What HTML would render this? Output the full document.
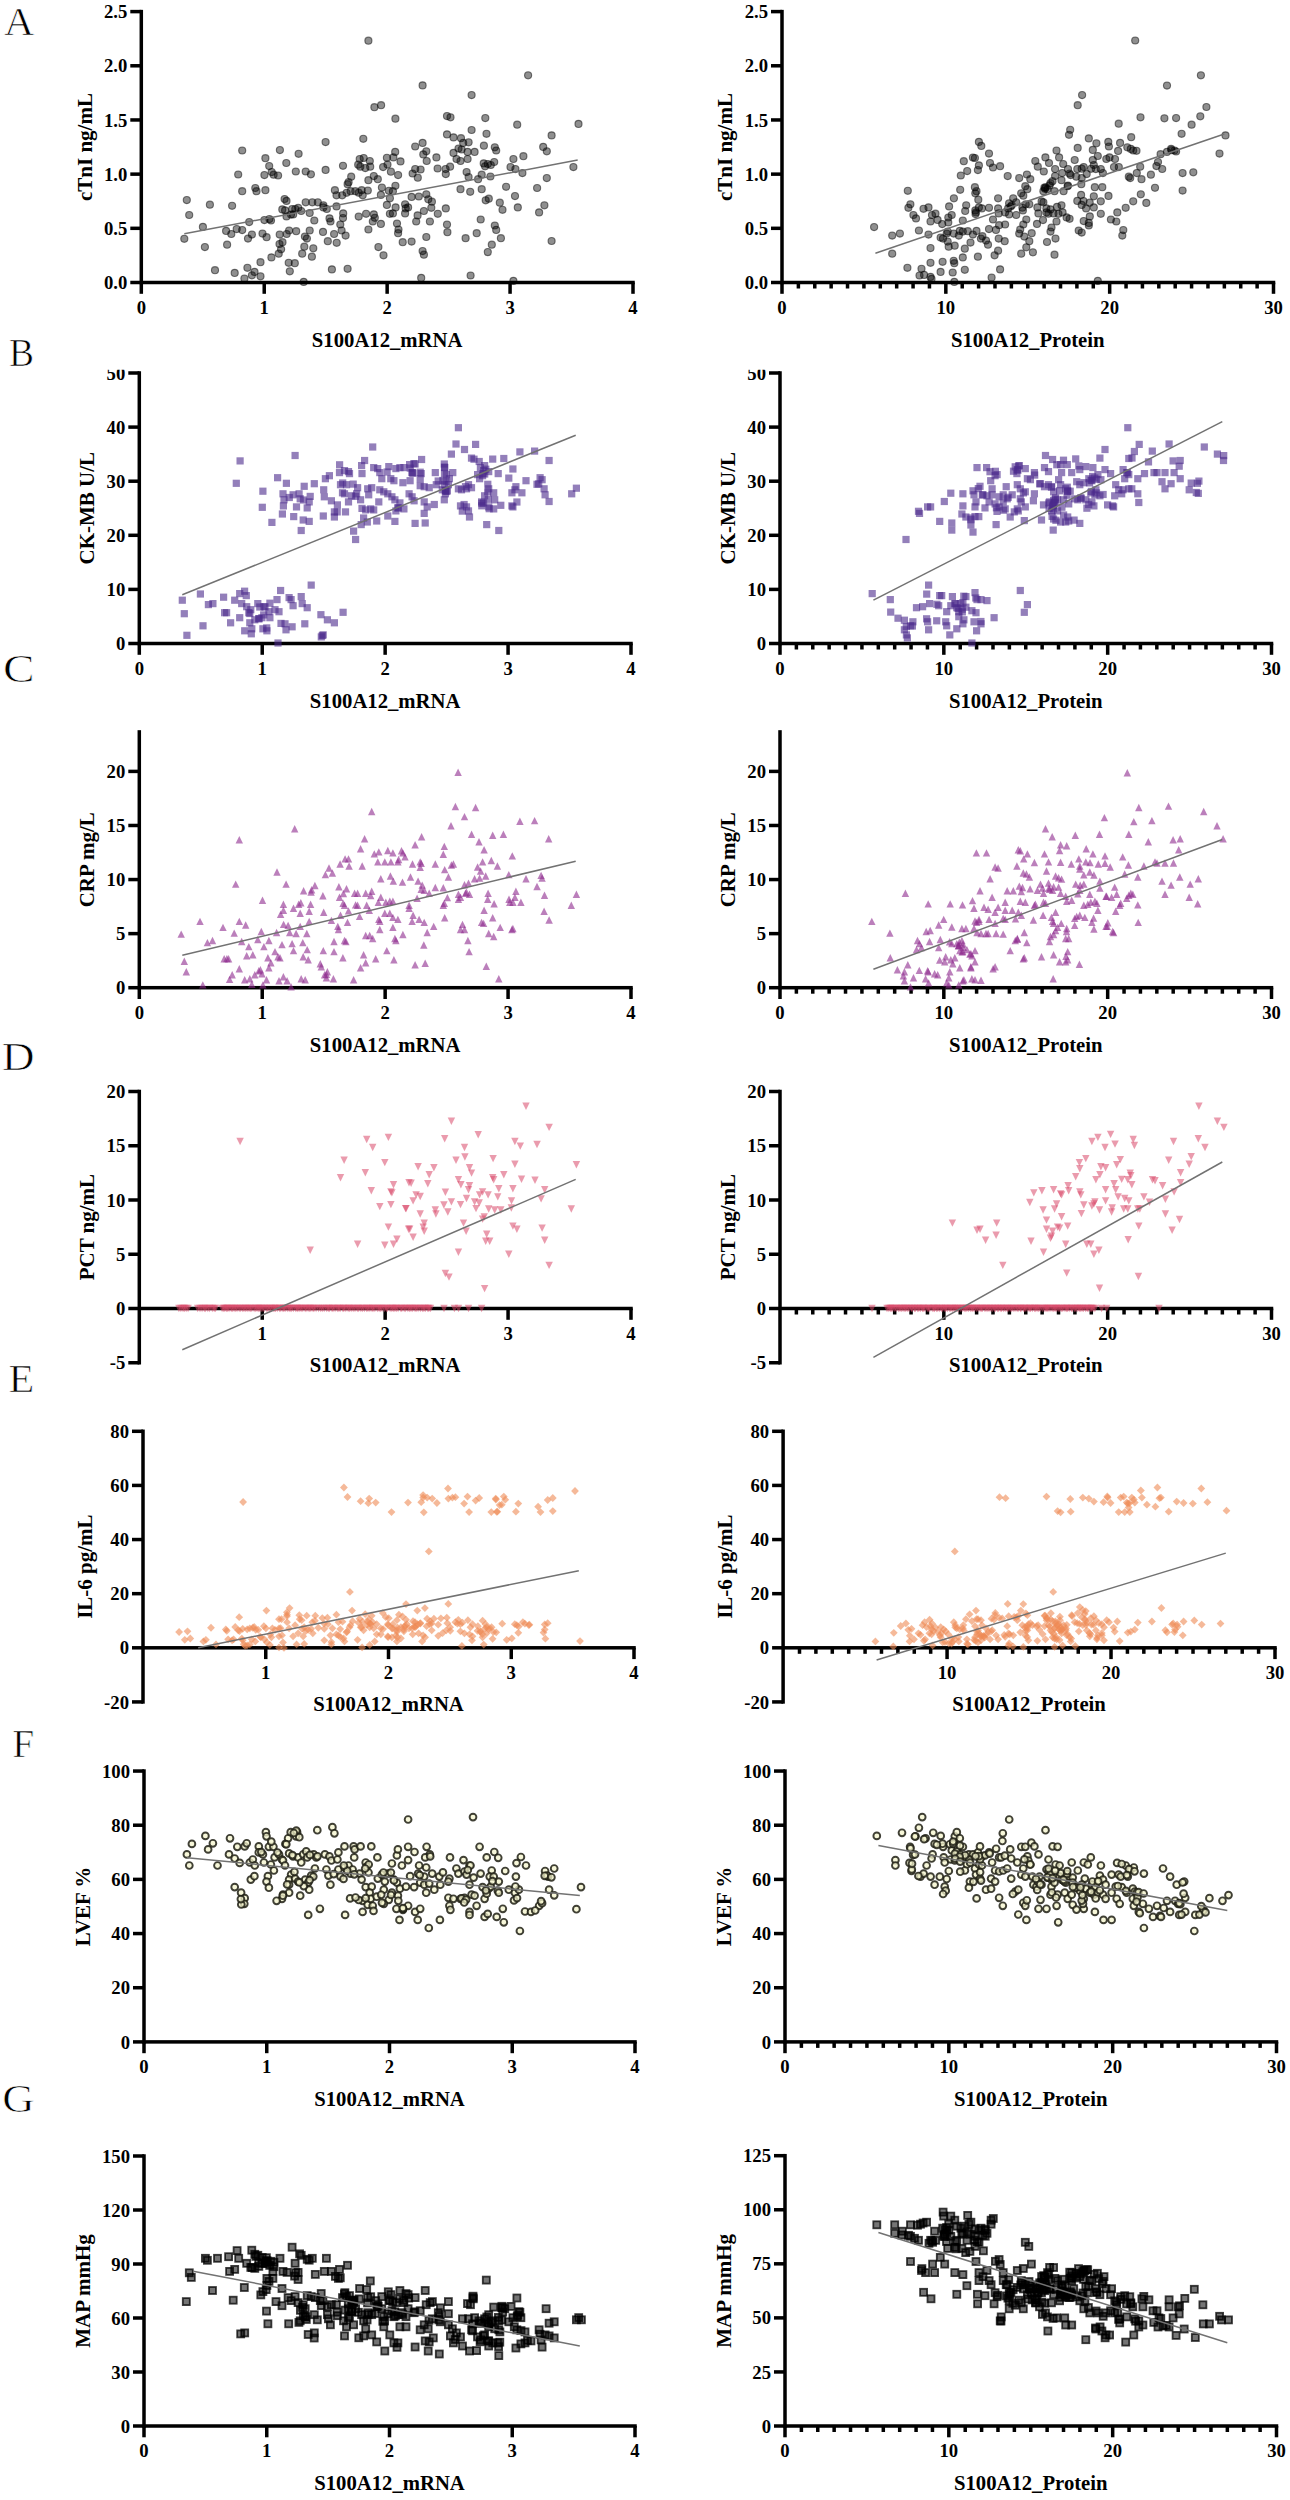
<!DOCTYPE html><html><head><meta charset="utf-8"><style>html,body{margin:0;padding:0;background:#fff;}svg{display:block}</style></head><body>
<svg width="1290" height="2500" viewBox="0 0 1290 2500">
<rect width="1290" height="2500" fill="#fff"/>
<text x="34.2" y="34.7" text-anchor="end" fill="#000" stroke="#fff" stroke-width="0.7" transform="translate(32,0) scale(1.06,1) translate(-32,0)" style="font-family:'Liberation Serif',serif;font-size:39.5px">A</text>
<g>
<rect x="139.55" y="9.85" width="3.5" height="274.40" fill="#000"/>
<rect x="130.30" y="280.75" width="11.00" height="3.5" fill="#000"/>
<text x="127.30" y="289.10" text-anchor="end" style="font-family:'Liberation Serif',serif;font-weight:bold;font-size:18.7px">0.0</text>
<rect x="130.30" y="226.57" width="11.00" height="3.5" fill="#000"/>
<text x="127.30" y="234.92" text-anchor="end" style="font-family:'Liberation Serif',serif;font-weight:bold;font-size:18.7px">0.5</text>
<rect x="130.30" y="172.39" width="11.00" height="3.5" fill="#000"/>
<text x="127.30" y="180.74" text-anchor="end" style="font-family:'Liberation Serif',serif;font-weight:bold;font-size:18.7px">1.0</text>
<rect x="130.30" y="118.21" width="11.00" height="3.5" fill="#000"/>
<text x="127.30" y="126.56" text-anchor="end" style="font-family:'Liberation Serif',serif;font-weight:bold;font-size:18.7px">1.5</text>
<rect x="130.30" y="64.03" width="11.00" height="3.5" fill="#000"/>
<text x="127.30" y="72.38" text-anchor="end" style="font-family:'Liberation Serif',serif;font-weight:bold;font-size:18.7px">2.0</text>
<rect x="130.30" y="9.85" width="11.00" height="3.5" fill="#000"/>
<text x="127.30" y="18.20" text-anchor="end" style="font-family:'Liberation Serif',serif;font-weight:bold;font-size:18.7px">2.5</text>
<rect x="141.30" y="280.75" width="493.45" height="3.5" fill="#000"/>
<rect x="139.55" y="282.50" width="3.5" height="11.30" fill="#000"/>
<text x="141.30" y="313.70" text-anchor="middle" style="font-family:'Liberation Serif',serif;font-weight:bold;font-size:18.7px">0</text>
<rect x="262.48" y="282.50" width="3.5" height="11.30" fill="#000"/>
<text x="264.23" y="313.70" text-anchor="middle" style="font-family:'Liberation Serif',serif;font-weight:bold;font-size:18.7px">1</text>
<rect x="385.40" y="282.50" width="3.5" height="11.30" fill="#000"/>
<text x="387.15" y="313.70" text-anchor="middle" style="font-family:'Liberation Serif',serif;font-weight:bold;font-size:18.7px">2</text>
<rect x="508.32" y="282.50" width="3.5" height="11.30" fill="#000"/>
<text x="510.07" y="313.70" text-anchor="middle" style="font-family:'Liberation Serif',serif;font-weight:bold;font-size:18.7px">3</text>
<rect x="631.25" y="282.50" width="3.5" height="11.30" fill="#000"/>
<text x="633.00" y="313.70" text-anchor="middle" style="font-family:'Liberation Serif',serif;font-weight:bold;font-size:18.7px">4</text>
<text x="387.15" y="346.50" text-anchor="middle" style="font-family:'Liberation Serif',serif;font-weight:bold;font-size:20.7px">S100A12_mRNA</text>
<text transform="translate(91.63,147.05) rotate(-90)" text-anchor="middle" style="font-family:'Liberation Serif',serif;font-weight:bold;font-size:21px">cTnI ng/mL</text>
<g fill="#000" fill-opacity="0.44" stroke="#000" stroke-opacity="0.5" stroke-width="1.1">
<circle cx="368.4" cy="40.7" r="3.55"/>
<circle cx="374.4" cy="107.2" r="3.55"/>
<circle cx="381.1" cy="105.2" r="3.55"/>
<circle cx="395.4" cy="118.7" r="3.55"/>
<circle cx="325.6" cy="142.1" r="3.55"/>
<circle cx="363.3" cy="138.8" r="3.55"/>
<circle cx="242.2" cy="150.5" r="3.55"/>
<circle cx="279.9" cy="150.1" r="3.55"/>
<circle cx="298.6" cy="153.8" r="3.55"/>
<circle cx="265.4" cy="158.2" r="3.55"/>
<circle cx="286.3" cy="163.0" r="3.55"/>
<circle cx="269.2" cy="166.1" r="3.55"/>
<circle cx="359.7" cy="159.0" r="3.55"/>
<circle cx="363.7" cy="158.0" r="3.55"/>
<circle cx="369.8" cy="161.0" r="3.55"/>
<circle cx="360.3" cy="166.7" r="3.55"/>
<circle cx="365.3" cy="168.1" r="3.55"/>
<circle cx="370.2" cy="166.7" r="3.55"/>
<circle cx="386.9" cy="157.8" r="3.55"/>
<circle cx="393.4" cy="157.4" r="3.55"/>
<circle cx="343.0" cy="165.8" r="3.55"/>
<circle cx="325.6" cy="169.9" r="3.55"/>
<circle cx="295.8" cy="171.5" r="3.55"/>
<circle cx="305.7" cy="171.5" r="3.55"/>
<circle cx="310.9" cy="174.3" r="3.55"/>
<circle cx="238.2" cy="174.5" r="3.55"/>
<circle cx="264.4" cy="175.1" r="3.55"/>
<circle cx="273.6" cy="174.7" r="3.55"/>
<circle cx="278.1" cy="175.5" r="3.55"/>
<circle cx="383.1" cy="167.1" r="3.55"/>
<circle cx="387.5" cy="164.6" r="3.55"/>
<circle cx="390.9" cy="171.7" r="3.55"/>
<circle cx="351.2" cy="176.7" r="3.55"/>
<circle cx="348.6" cy="182.2" r="3.55"/>
<circle cx="347.6" cy="184.2" r="3.55"/>
<circle cx="368.4" cy="180.2" r="3.55"/>
<circle cx="373.8" cy="176.1" r="3.55"/>
<circle cx="377.8" cy="179.2" r="3.55"/>
<circle cx="395.4" cy="185.8" r="3.55"/>
<circle cx="255.3" cy="188.0" r="3.55"/>
<circle cx="256.5" cy="191.2" r="3.55"/>
<circle cx="265.4" cy="190.2" r="3.55"/>
<circle cx="242.2" cy="191.2" r="3.55"/>
<circle cx="334.9" cy="190.2" r="3.55"/>
<circle cx="336.5" cy="195.3" r="3.55"/>
<circle cx="342.2" cy="195.3" r="3.55"/>
<circle cx="346.6" cy="192.8" r="3.55"/>
<circle cx="350.6" cy="191.2" r="3.55"/>
<circle cx="355.3" cy="191.2" r="3.55"/>
<circle cx="358.7" cy="192.7" r="3.55"/>
<circle cx="362.7" cy="195.3" r="3.55"/>
<circle cx="361.7" cy="190.2" r="3.55"/>
<circle cx="367.8" cy="190.6" r="3.55"/>
<circle cx="381.9" cy="187.6" r="3.55"/>
<circle cx="380.9" cy="194.9" r="3.55"/>
<circle cx="388.9" cy="190.8" r="3.55"/>
<circle cx="392.9" cy="191.2" r="3.55"/>
<circle cx="389.9" cy="198.3" r="3.55"/>
<circle cx="186.8" cy="200.1" r="3.55"/>
<circle cx="209.9" cy="204.7" r="3.55"/>
<circle cx="232.1" cy="205.8" r="3.55"/>
<circle cx="189.2" cy="215.0" r="3.55"/>
<circle cx="286.5" cy="200.9" r="3.55"/>
<circle cx="305.7" cy="202.3" r="3.55"/>
<circle cx="312.3" cy="202.3" r="3.55"/>
<circle cx="317.8" cy="202.3" r="3.55"/>
<circle cx="323.4" cy="205.3" r="3.55"/>
<circle cx="282.3" cy="209.4" r="3.55"/>
<circle cx="285.1" cy="210.4" r="3.55"/>
<circle cx="292.2" cy="209.0" r="3.55"/>
<circle cx="298.2" cy="207.8" r="3.55"/>
<circle cx="301.2" cy="211.0" r="3.55"/>
<circle cx="293.2" cy="214.4" r="3.55"/>
<circle cx="286.5" cy="216.4" r="3.55"/>
<circle cx="309.7" cy="213.0" r="3.55"/>
<circle cx="323.4" cy="207.4" r="3.55"/>
<circle cx="326.8" cy="209.0" r="3.55"/>
<circle cx="336.5" cy="206.4" r="3.55"/>
<circle cx="386.9" cy="204.9" r="3.55"/>
<circle cx="395.6" cy="207.4" r="3.55"/>
<circle cx="343.2" cy="213.4" r="3.55"/>
<circle cx="343.0" cy="218.1" r="3.55"/>
<circle cx="358.7" cy="216.6" r="3.55"/>
<circle cx="366.1" cy="213.8" r="3.55"/>
<circle cx="373.8" cy="214.4" r="3.55"/>
<circle cx="374.8" cy="217.8" r="3.55"/>
<circle cx="372.8" cy="221.5" r="3.55"/>
<circle cx="380.9" cy="223.9" r="3.55"/>
<circle cx="389.9" cy="213.8" r="3.55"/>
<circle cx="392.9" cy="213.4" r="3.55"/>
<circle cx="397.0" cy="223.5" r="3.55"/>
<circle cx="202.9" cy="226.9" r="3.55"/>
<circle cx="249.2" cy="222.1" r="3.55"/>
<circle cx="264.4" cy="220.1" r="3.55"/>
<circle cx="271.0" cy="220.5" r="3.55"/>
<circle cx="269.4" cy="219.1" r="3.55"/>
<circle cx="314.3" cy="220.5" r="3.55"/>
<circle cx="329.5" cy="218.4" r="3.55"/>
<circle cx="330.5" cy="221.5" r="3.55"/>
<circle cx="340.3" cy="224.5" r="3.55"/>
<circle cx="341.6" cy="230.5" r="3.55"/>
<circle cx="345.6" cy="235.6" r="3.55"/>
<circle cx="368.4" cy="229.5" r="3.55"/>
<circle cx="226.1" cy="230.9" r="3.55"/>
<circle cx="236.7" cy="229.1" r="3.55"/>
<circle cx="242.2" cy="230.1" r="3.55"/>
<circle cx="231.3" cy="234.0" r="3.55"/>
<circle cx="248.0" cy="238.6" r="3.55"/>
<circle cx="251.9" cy="234.6" r="3.55"/>
<circle cx="262.5" cy="233.6" r="3.55"/>
<circle cx="266.6" cy="237.2" r="3.55"/>
<circle cx="279.7" cy="234.6" r="3.55"/>
<circle cx="286.7" cy="234.0" r="3.55"/>
<circle cx="289.1" cy="230.5" r="3.55"/>
<circle cx="296.2" cy="231.2" r="3.55"/>
<circle cx="309.7" cy="230.5" r="3.55"/>
<circle cx="304.9" cy="236.6" r="3.55"/>
<circle cx="306.9" cy="238.6" r="3.55"/>
<circle cx="323.0" cy="231.9" r="3.55"/>
<circle cx="334.1" cy="234.0" r="3.55"/>
<circle cx="327.8" cy="241.2" r="3.55"/>
<circle cx="336.7" cy="242.8" r="3.55"/>
<circle cx="184.3" cy="238.8" r="3.55"/>
<circle cx="204.9" cy="247.1" r="3.55"/>
<circle cx="227.1" cy="244.7" r="3.55"/>
<circle cx="282.5" cy="242.2" r="3.55"/>
<circle cx="281.1" cy="249.3" r="3.55"/>
<circle cx="278.7" cy="253.7" r="3.55"/>
<circle cx="271.4" cy="257.4" r="3.55"/>
<circle cx="304.3" cy="246.7" r="3.55"/>
<circle cx="313.3" cy="248.3" r="3.55"/>
<circle cx="302.2" cy="253.7" r="3.55"/>
<circle cx="311.9" cy="256.7" r="3.55"/>
<circle cx="260.5" cy="262.2" r="3.55"/>
<circle cx="288.7" cy="262.8" r="3.55"/>
<circle cx="294.8" cy="263.2" r="3.55"/>
<circle cx="289.8" cy="271.3" r="3.55"/>
<circle cx="378.4" cy="247.1" r="3.55"/>
<circle cx="383.5" cy="255.3" r="3.55"/>
<circle cx="215.0" cy="270.2" r="3.55"/>
<circle cx="234.7" cy="272.9" r="3.55"/>
<circle cx="247.4" cy="267.8" r="3.55"/>
<circle cx="254.5" cy="271.9" r="3.55"/>
<circle cx="251.9" cy="275.3" r="3.55"/>
<circle cx="260.5" cy="276.3" r="3.55"/>
<circle cx="244.4" cy="278.5" r="3.55"/>
<circle cx="331.9" cy="269.4" r="3.55"/>
<circle cx="347.6" cy="268.8" r="3.55"/>
<circle cx="303.7" cy="281.9" r="3.55"/>
<circle cx="422.6" cy="85.4" r="3.55"/>
<circle cx="528.1" cy="75.3" r="3.55"/>
<circle cx="471.6" cy="95.1" r="3.55"/>
<circle cx="447.0" cy="116.1" r="3.55"/>
<circle cx="450.5" cy="117.3" r="3.55"/>
<circle cx="485.3" cy="118.1" r="3.55"/>
<circle cx="517.2" cy="124.7" r="3.55"/>
<circle cx="578.5" cy="123.9" r="3.55"/>
<circle cx="471.6" cy="130.0" r="3.55"/>
<circle cx="447.0" cy="134.4" r="3.55"/>
<circle cx="453.5" cy="137.4" r="3.55"/>
<circle cx="486.5" cy="133.8" r="3.55"/>
<circle cx="551.6" cy="135.4" r="3.55"/>
<circle cx="415.2" cy="146.5" r="3.55"/>
<circle cx="422.6" cy="142.9" r="3.55"/>
<circle cx="463.2" cy="142.9" r="3.55"/>
<circle cx="468.6" cy="142.3" r="3.55"/>
<circle cx="458.5" cy="148.5" r="3.55"/>
<circle cx="461.6" cy="149.5" r="3.55"/>
<circle cx="453.5" cy="152.9" r="3.55"/>
<circle cx="467.6" cy="151.9" r="3.55"/>
<circle cx="474.6" cy="151.9" r="3.55"/>
<circle cx="483.9" cy="145.7" r="3.55"/>
<circle cx="494.8" cy="147.3" r="3.55"/>
<circle cx="496.2" cy="150.5" r="3.55"/>
<circle cx="543.2" cy="146.9" r="3.55"/>
<circle cx="546.8" cy="151.3" r="3.55"/>
<circle cx="426.3" cy="151.3" r="3.55"/>
<circle cx="423.3" cy="154.4" r="3.55"/>
<circle cx="436.4" cy="157.4" r="3.55"/>
<circle cx="426.7" cy="161.0" r="3.55"/>
<circle cx="400.5" cy="161.4" r="3.55"/>
<circle cx="456.5" cy="159.0" r="3.55"/>
<circle cx="460.5" cy="161.0" r="3.55"/>
<circle cx="467.6" cy="159.0" r="3.55"/>
<circle cx="513.4" cy="159.0" r="3.55"/>
<circle cx="523.4" cy="156.2" r="3.55"/>
<circle cx="415.2" cy="169.1" r="3.55"/>
<circle cx="420.6" cy="169.5" r="3.55"/>
<circle cx="412.6" cy="173.5" r="3.55"/>
<circle cx="417.8" cy="177.7" r="3.55"/>
<circle cx="398.1" cy="175.1" r="3.55"/>
<circle cx="437.6" cy="168.5" r="3.55"/>
<circle cx="445.6" cy="169.1" r="3.55"/>
<circle cx="450.1" cy="166.7" r="3.55"/>
<circle cx="445.8" cy="174.1" r="3.55"/>
<circle cx="483.7" cy="163.4" r="3.55"/>
<circle cx="487.8" cy="164.0" r="3.55"/>
<circle cx="490.8" cy="165.0" r="3.55"/>
<circle cx="494.2" cy="162.0" r="3.55"/>
<circle cx="510.5" cy="167.1" r="3.55"/>
<circle cx="515.4" cy="169.1" r="3.55"/>
<circle cx="522.4" cy="173.1" r="3.55"/>
<circle cx="573.4" cy="167.1" r="3.55"/>
<circle cx="466.6" cy="172.1" r="3.55"/>
<circle cx="468.6" cy="177.1" r="3.55"/>
<circle cx="481.7" cy="174.7" r="3.55"/>
<circle cx="478.1" cy="179.2" r="3.55"/>
<circle cx="490.4" cy="176.5" r="3.55"/>
<circle cx="546.8" cy="178.1" r="3.55"/>
<circle cx="460.5" cy="189.2" r="3.55"/>
<circle cx="470.2" cy="191.8" r="3.55"/>
<circle cx="481.7" cy="189.2" r="3.55"/>
<circle cx="506.1" cy="186.8" r="3.55"/>
<circle cx="537.1" cy="188.0" r="3.55"/>
<circle cx="411.6" cy="196.9" r="3.55"/>
<circle cx="418.8" cy="196.5" r="3.55"/>
<circle cx="426.3" cy="194.3" r="3.55"/>
<circle cx="428.3" cy="199.3" r="3.55"/>
<circle cx="431.9" cy="201.7" r="3.55"/>
<circle cx="485.7" cy="200.3" r="3.55"/>
<circle cx="488.8" cy="198.7" r="3.55"/>
<circle cx="499.8" cy="202.7" r="3.55"/>
<circle cx="502.5" cy="209.8" r="3.55"/>
<circle cx="515.0" cy="196.1" r="3.55"/>
<circle cx="517.8" cy="207.4" r="3.55"/>
<circle cx="544.4" cy="205.3" r="3.55"/>
<circle cx="539.1" cy="212.4" r="3.55"/>
<circle cx="405.1" cy="204.3" r="3.55"/>
<circle cx="405.7" cy="208.4" r="3.55"/>
<circle cx="408.1" cy="207.4" r="3.55"/>
<circle cx="405.1" cy="213.4" r="3.55"/>
<circle cx="431.3" cy="207.8" r="3.55"/>
<circle cx="423.9" cy="211.0" r="3.55"/>
<circle cx="417.6" cy="215.4" r="3.55"/>
<circle cx="416.2" cy="221.5" r="3.55"/>
<circle cx="437.8" cy="213.8" r="3.55"/>
<circle cx="429.9" cy="221.5" r="3.55"/>
<circle cx="445.8" cy="208.4" r="3.55"/>
<circle cx="398.5" cy="229.5" r="3.55"/>
<circle cx="398.1" cy="233.2" r="3.55"/>
<circle cx="447.0" cy="224.5" r="3.55"/>
<circle cx="447.4" cy="232.2" r="3.55"/>
<circle cx="480.7" cy="219.5" r="3.55"/>
<circle cx="494.8" cy="225.5" r="3.55"/>
<circle cx="496.2" cy="229.9" r="3.55"/>
<circle cx="476.7" cy="233.2" r="3.55"/>
<circle cx="465.6" cy="238.2" r="3.55"/>
<circle cx="500.9" cy="238.2" r="3.55"/>
<circle cx="402.7" cy="242.2" r="3.55"/>
<circle cx="411.6" cy="241.6" r="3.55"/>
<circle cx="426.3" cy="237.0" r="3.55"/>
<circle cx="422.6" cy="251.1" r="3.55"/>
<circle cx="423.9" cy="254.7" r="3.55"/>
<circle cx="491.8" cy="244.7" r="3.55"/>
<circle cx="487.8" cy="252.1" r="3.55"/>
<circle cx="551.6" cy="241.0" r="3.55"/>
<circle cx="421.2" cy="277.9" r="3.55"/>
<circle cx="470.6" cy="275.5" r="3.55"/>
<circle cx="513.4" cy="280.9" r="3.55"/>
<circle cx="395.2" cy="151.9" r="3.55"/>
<circle cx="485.1" cy="166.3" r="3.55"/>
<circle cx="271.7" cy="172.1" r="3.55"/>
<circle cx="461.0" cy="138.2" r="3.55"/>
<circle cx="295.3" cy="209.0" r="3.55"/>
<circle cx="358.2" cy="164.7" r="3.55"/>
<circle cx="279.5" cy="244.0" r="3.55"/>
<circle cx="284.6" cy="199.0" r="3.55"/>
<circle cx="291.0" cy="214.6" r="3.55"/>
</g>
<line x1="184.3" y1="233.7" x2="577.7" y2="160.1" stroke="#727272" stroke-width="1.5"/>
</g>
<g>
<rect x="780.25" y="9.85" width="3.5" height="274.40" fill="#000"/>
<rect x="771.00" y="280.75" width="11.00" height="3.5" fill="#000"/>
<text x="768.00" y="289.10" text-anchor="end" style="font-family:'Liberation Serif',serif;font-weight:bold;font-size:18.7px">0.0</text>
<rect x="771.00" y="226.57" width="11.00" height="3.5" fill="#000"/>
<text x="768.00" y="234.92" text-anchor="end" style="font-family:'Liberation Serif',serif;font-weight:bold;font-size:18.7px">0.5</text>
<rect x="771.00" y="172.39" width="11.00" height="3.5" fill="#000"/>
<text x="768.00" y="180.74" text-anchor="end" style="font-family:'Liberation Serif',serif;font-weight:bold;font-size:18.7px">1.0</text>
<rect x="771.00" y="118.21" width="11.00" height="3.5" fill="#000"/>
<text x="768.00" y="126.56" text-anchor="end" style="font-family:'Liberation Serif',serif;font-weight:bold;font-size:18.7px">1.5</text>
<rect x="771.00" y="64.03" width="11.00" height="3.5" fill="#000"/>
<text x="768.00" y="72.38" text-anchor="end" style="font-family:'Liberation Serif',serif;font-weight:bold;font-size:18.7px">2.0</text>
<rect x="771.00" y="9.85" width="11.00" height="3.5" fill="#000"/>
<text x="768.00" y="18.20" text-anchor="end" style="font-family:'Liberation Serif',serif;font-weight:bold;font-size:18.7px">2.5</text>
<rect x="782.00" y="280.75" width="493.25" height="3.5" fill="#000"/>
<rect x="780.25" y="282.50" width="3.5" height="11.30" fill="#000"/>
<text x="782.00" y="313.70" text-anchor="middle" style="font-family:'Liberation Serif',serif;font-weight:bold;font-size:18.7px">0</text>
<rect x="944.08" y="282.50" width="3.5" height="11.30" fill="#000"/>
<text x="945.83" y="313.70" text-anchor="middle" style="font-family:'Liberation Serif',serif;font-weight:bold;font-size:18.7px">10</text>
<rect x="1107.92" y="282.50" width="3.5" height="11.30" fill="#000"/>
<text x="1109.67" y="313.70" text-anchor="middle" style="font-family:'Liberation Serif',serif;font-weight:bold;font-size:18.7px">20</text>
<rect x="1271.75" y="282.50" width="3.5" height="11.30" fill="#000"/>
<text x="1273.50" y="313.70" text-anchor="middle" style="font-family:'Liberation Serif',serif;font-weight:bold;font-size:18.7px">30</text>
<rect x="796.63" y="282.50" width="3.5" height="6.00" fill="#000"/>
<rect x="813.02" y="282.50" width="3.5" height="6.00" fill="#000"/>
<rect x="829.40" y="282.50" width="3.5" height="6.00" fill="#000"/>
<rect x="845.78" y="282.50" width="3.5" height="6.00" fill="#000"/>
<rect x="862.17" y="282.50" width="3.5" height="6.00" fill="#000"/>
<rect x="878.55" y="282.50" width="3.5" height="6.00" fill="#000"/>
<rect x="894.93" y="282.50" width="3.5" height="6.00" fill="#000"/>
<rect x="911.32" y="282.50" width="3.5" height="6.00" fill="#000"/>
<rect x="927.70" y="282.50" width="3.5" height="6.00" fill="#000"/>
<rect x="960.47" y="282.50" width="3.5" height="6.00" fill="#000"/>
<rect x="976.85" y="282.50" width="3.5" height="6.00" fill="#000"/>
<rect x="993.23" y="282.50" width="3.5" height="6.00" fill="#000"/>
<rect x="1009.62" y="282.50" width="3.5" height="6.00" fill="#000"/>
<rect x="1026.00" y="282.50" width="3.5" height="6.00" fill="#000"/>
<rect x="1042.38" y="282.50" width="3.5" height="6.00" fill="#000"/>
<rect x="1058.77" y="282.50" width="3.5" height="6.00" fill="#000"/>
<rect x="1075.15" y="282.50" width="3.5" height="6.00" fill="#000"/>
<rect x="1091.53" y="282.50" width="3.5" height="6.00" fill="#000"/>
<rect x="1124.30" y="282.50" width="3.5" height="6.00" fill="#000"/>
<rect x="1140.68" y="282.50" width="3.5" height="6.00" fill="#000"/>
<rect x="1157.07" y="282.50" width="3.5" height="6.00" fill="#000"/>
<rect x="1173.45" y="282.50" width="3.5" height="6.00" fill="#000"/>
<rect x="1189.83" y="282.50" width="3.5" height="6.00" fill="#000"/>
<rect x="1206.22" y="282.50" width="3.5" height="6.00" fill="#000"/>
<rect x="1222.60" y="282.50" width="3.5" height="6.00" fill="#000"/>
<rect x="1238.98" y="282.50" width="3.5" height="6.00" fill="#000"/>
<rect x="1255.37" y="282.50" width="3.5" height="6.00" fill="#000"/>
<text x="1027.75" y="346.50" text-anchor="middle" style="font-family:'Liberation Serif',serif;font-weight:bold;font-size:20.7px">S100A12_Protein</text>
<text transform="translate(732.33,147.05) rotate(-90)" text-anchor="middle" style="font-family:'Liberation Serif',serif;font-weight:bold;font-size:21px">cTnI ng/mL</text>
<g fill="#000" fill-opacity="0.44" stroke="#000" stroke-opacity="0.5" stroke-width="1.1">
<circle cx="1082.1" cy="95.1" r="3.55"/>
<circle cx="1077.7" cy="105.2" r="3.55"/>
<circle cx="1070.2" cy="129.8" r="3.55"/>
<circle cx="1069.0" cy="134.8" r="3.55"/>
<circle cx="1088.8" cy="138.4" r="3.55"/>
<circle cx="1096.4" cy="143.3" r="3.55"/>
<circle cx="1108.3" cy="141.9" r="3.55"/>
<circle cx="1108.9" cy="146.5" r="3.55"/>
<circle cx="978.9" cy="141.9" r="3.55"/>
<circle cx="981.3" cy="145.9" r="3.55"/>
<circle cx="1077.7" cy="147.9" r="3.55"/>
<circle cx="1092.8" cy="149.9" r="3.55"/>
<circle cx="1056.5" cy="150.5" r="3.55"/>
<circle cx="1059.1" cy="157.4" r="3.55"/>
<circle cx="1045.4" cy="157.4" r="3.55"/>
<circle cx="1049.0" cy="163.0" r="3.55"/>
<circle cx="1035.3" cy="161.0" r="3.55"/>
<circle cx="1037.8" cy="166.7" r="3.55"/>
<circle cx="1043.8" cy="171.5" r="3.55"/>
<circle cx="989.0" cy="153.6" r="3.55"/>
<circle cx="990.0" cy="163.0" r="3.55"/>
<circle cx="993.0" cy="167.5" r="3.55"/>
<circle cx="1000.1" cy="166.2" r="3.55"/>
<circle cx="978.9" cy="165.4" r="3.55"/>
<circle cx="977.9" cy="170.1" r="3.55"/>
<circle cx="963.8" cy="161.2" r="3.55"/>
<circle cx="972.9" cy="157.6" r="3.55"/>
<circle cx="974.9" cy="158.0" r="3.55"/>
<circle cx="967.2" cy="171.1" r="3.55"/>
<circle cx="960.8" cy="175.5" r="3.55"/>
<circle cx="1007.7" cy="176.1" r="3.55"/>
<circle cx="1019.2" cy="178.1" r="3.55"/>
<circle cx="1026.9" cy="174.5" r="3.55"/>
<circle cx="1030.3" cy="179.2" r="3.55"/>
<circle cx="1063.2" cy="164.0" r="3.55"/>
<circle cx="1074.7" cy="160.0" r="3.55"/>
<circle cx="1081.7" cy="168.7" r="3.55"/>
<circle cx="1083.7" cy="167.1" r="3.55"/>
<circle cx="1086.7" cy="174.1" r="3.55"/>
<circle cx="1092.8" cy="160.0" r="3.55"/>
<circle cx="1093.8" cy="165.0" r="3.55"/>
<circle cx="1097.8" cy="156.0" r="3.55"/>
<circle cx="1095.8" cy="169.1" r="3.55"/>
<circle cx="1100.8" cy="169.1" r="3.55"/>
<circle cx="1102.9" cy="173.1" r="3.55"/>
<circle cx="1106.3" cy="159.0" r="3.55"/>
<circle cx="1109.5" cy="157.4" r="3.55"/>
<circle cx="1114.0" cy="167.1" r="3.55"/>
<circle cx="1115.0" cy="159.0" r="3.55"/>
<circle cx="1055.1" cy="169.1" r="3.55"/>
<circle cx="1055.1" cy="176.1" r="3.55"/>
<circle cx="1062.2" cy="173.1" r="3.55"/>
<circle cx="1069.6" cy="173.5" r="3.55"/>
<circle cx="1070.6" cy="175.1" r="3.55"/>
<circle cx="1068.0" cy="169.1" r="3.55"/>
<circle cx="1052.5" cy="181.2" r="3.55"/>
<circle cx="1050.5" cy="183.2" r="3.55"/>
<circle cx="1061.5" cy="180.2" r="3.55"/>
<circle cx="1068.0" cy="185.6" r="3.55"/>
<circle cx="1076.3" cy="176.7" r="3.55"/>
<circle cx="1081.7" cy="178.1" r="3.55"/>
<circle cx="1081.3" cy="184.2" r="3.55"/>
<circle cx="907.8" cy="190.8" r="3.55"/>
<circle cx="960.2" cy="189.8" r="3.55"/>
<circle cx="974.9" cy="187.2" r="3.55"/>
<circle cx="976.5" cy="191.2" r="3.55"/>
<circle cx="975.3" cy="193.3" r="3.55"/>
<circle cx="998.1" cy="198.3" r="3.55"/>
<circle cx="978.3" cy="199.7" r="3.55"/>
<circle cx="953.9" cy="198.3" r="3.55"/>
<circle cx="1025.3" cy="186.2" r="3.55"/>
<circle cx="1027.3" cy="189.2" r="3.55"/>
<circle cx="1021.2" cy="193.3" r="3.55"/>
<circle cx="1023.3" cy="195.7" r="3.55"/>
<circle cx="1013.2" cy="198.3" r="3.55"/>
<circle cx="1016.2" cy="202.3" r="3.55"/>
<circle cx="1025.7" cy="204.3" r="3.55"/>
<circle cx="1029.3" cy="204.3" r="3.55"/>
<circle cx="1044.4" cy="187.6" r="3.55"/>
<circle cx="1043.4" cy="191.2" r="3.55"/>
<circle cx="1047.4" cy="189.2" r="3.55"/>
<circle cx="1054.5" cy="191.2" r="3.55"/>
<circle cx="1063.6" cy="191.2" r="3.55"/>
<circle cx="1067.6" cy="186.2" r="3.55"/>
<circle cx="1094.8" cy="187.2" r="3.55"/>
<circle cx="1102.3" cy="187.2" r="3.55"/>
<circle cx="1093.8" cy="196.3" r="3.55"/>
<circle cx="1100.8" cy="201.3" r="3.55"/>
<circle cx="1108.5" cy="195.9" r="3.55"/>
<circle cx="1081.1" cy="194.9" r="3.55"/>
<circle cx="1077.3" cy="200.9" r="3.55"/>
<circle cx="1081.7" cy="204.9" r="3.55"/>
<circle cx="1086.1" cy="208.4" r="3.55"/>
<circle cx="1093.8" cy="207.4" r="3.55"/>
<circle cx="910.4" cy="204.3" r="3.55"/>
<circle cx="908.4" cy="207.8" r="3.55"/>
<circle cx="923.5" cy="208.8" r="3.55"/>
<circle cx="928.5" cy="207.4" r="3.55"/>
<circle cx="949.1" cy="206.4" r="3.55"/>
<circle cx="966.2" cy="205.3" r="3.55"/>
<circle cx="965.2" cy="211.0" r="3.55"/>
<circle cx="975.3" cy="210.4" r="3.55"/>
<circle cx="978.9" cy="207.4" r="3.55"/>
<circle cx="981.9" cy="208.4" r="3.55"/>
<circle cx="975.9" cy="212.4" r="3.55"/>
<circle cx="989.0" cy="207.8" r="3.55"/>
<circle cx="998.1" cy="208.4" r="3.55"/>
<circle cx="998.7" cy="213.4" r="3.55"/>
<circle cx="913.4" cy="215.0" r="3.55"/>
<circle cx="916.0" cy="218.4" r="3.55"/>
<circle cx="932.0" cy="215.0" r="3.55"/>
<circle cx="930.5" cy="221.5" r="3.55"/>
<circle cx="937.6" cy="219.9" r="3.55"/>
<circle cx="942.2" cy="224.1" r="3.55"/>
<circle cx="951.7" cy="215.0" r="3.55"/>
<circle cx="948.3" cy="222.5" r="3.55"/>
<circle cx="962.8" cy="220.5" r="3.55"/>
<circle cx="1008.1" cy="208.4" r="3.55"/>
<circle cx="1009.1" cy="214.4" r="3.55"/>
<circle cx="1005.1" cy="212.4" r="3.55"/>
<circle cx="1022.9" cy="210.4" r="3.55"/>
<circle cx="1016.2" cy="215.0" r="3.55"/>
<circle cx="1009.1" cy="203.3" r="3.55"/>
<circle cx="1037.4" cy="207.4" r="3.55"/>
<circle cx="1038.4" cy="213.4" r="3.55"/>
<circle cx="1043.4" cy="202.3" r="3.55"/>
<circle cx="1046.4" cy="208.4" r="3.55"/>
<circle cx="1050.5" cy="209.4" r="3.55"/>
<circle cx="1046.4" cy="212.4" r="3.55"/>
<circle cx="1053.5" cy="213.4" r="3.55"/>
<circle cx="1058.5" cy="213.8" r="3.55"/>
<circle cx="1061.5" cy="205.3" r="3.55"/>
<circle cx="1062.6" cy="212.4" r="3.55"/>
<circle cx="1066.6" cy="217.4" r="3.55"/>
<circle cx="1069.6" cy="218.8" r="3.55"/>
<circle cx="1100.8" cy="213.8" r="3.55"/>
<circle cx="1089.8" cy="216.4" r="3.55"/>
<circle cx="1083.7" cy="221.1" r="3.55"/>
<circle cx="1088.8" cy="225.5" r="3.55"/>
<circle cx="1110.9" cy="219.5" r="3.55"/>
<circle cx="993.0" cy="219.5" r="3.55"/>
<circle cx="1005.1" cy="224.5" r="3.55"/>
<circle cx="1026.3" cy="219.5" r="3.55"/>
<circle cx="1023.3" cy="224.5" r="3.55"/>
<circle cx="1037.0" cy="223.9" r="3.55"/>
<circle cx="1043.0" cy="220.1" r="3.55"/>
<circle cx="1056.5" cy="221.5" r="3.55"/>
<circle cx="1051.5" cy="227.5" r="3.55"/>
<circle cx="1050.5" cy="231.6" r="3.55"/>
<circle cx="874.1" cy="227.1" r="3.55"/>
<circle cx="892.2" cy="235.6" r="3.55"/>
<circle cx="899.9" cy="233.6" r="3.55"/>
<circle cx="918.9" cy="230.5" r="3.55"/>
<circle cx="928.5" cy="234.6" r="3.55"/>
<circle cx="947.7" cy="231.6" r="3.55"/>
<circle cx="946.7" cy="233.6" r="3.55"/>
<circle cx="940.6" cy="237.6" r="3.55"/>
<circle cx="943.0" cy="238.6" r="3.55"/>
<circle cx="953.7" cy="233.6" r="3.55"/>
<circle cx="958.8" cy="235.6" r="3.55"/>
<circle cx="962.8" cy="231.6" r="3.55"/>
<circle cx="967.8" cy="231.2" r="3.55"/>
<circle cx="976.5" cy="230.9" r="3.55"/>
<circle cx="972.9" cy="234.6" r="3.55"/>
<circle cx="989.0" cy="229.1" r="3.55"/>
<circle cx="996.0" cy="229.9" r="3.55"/>
<circle cx="998.7" cy="238.6" r="3.55"/>
<circle cx="1004.7" cy="241.2" r="3.55"/>
<circle cx="980.9" cy="238.6" r="3.55"/>
<circle cx="986.0" cy="240.6" r="3.55"/>
<circle cx="988.0" cy="244.7" r="3.55"/>
<circle cx="1020.2" cy="229.5" r="3.55"/>
<circle cx="1019.2" cy="233.6" r="3.55"/>
<circle cx="1024.3" cy="236.6" r="3.55"/>
<circle cx="1031.7" cy="233.2" r="3.55"/>
<circle cx="1029.3" cy="241.2" r="3.55"/>
<circle cx="1026.3" cy="247.3" r="3.55"/>
<circle cx="1021.2" cy="253.7" r="3.55"/>
<circle cx="1032.9" cy="252.3" r="3.55"/>
<circle cx="1047.0" cy="242.0" r="3.55"/>
<circle cx="1055.5" cy="238.6" r="3.55"/>
<circle cx="1054.5" cy="254.7" r="3.55"/>
<circle cx="1078.7" cy="230.5" r="3.55"/>
<circle cx="1081.7" cy="232.6" r="3.55"/>
<circle cx="930.5" cy="248.1" r="3.55"/>
<circle cx="947.7" cy="241.6" r="3.55"/>
<circle cx="948.7" cy="246.7" r="3.55"/>
<circle cx="954.7" cy="245.7" r="3.55"/>
<circle cx="964.8" cy="248.7" r="3.55"/>
<circle cx="970.5" cy="242.6" r="3.55"/>
<circle cx="892.2" cy="253.7" r="3.55"/>
<circle cx="962.8" cy="257.4" r="3.55"/>
<circle cx="977.9" cy="256.7" r="3.55"/>
<circle cx="994.6" cy="255.3" r="3.55"/>
<circle cx="998.1" cy="250.7" r="3.55"/>
<circle cx="907.4" cy="267.8" r="3.55"/>
<circle cx="921.5" cy="268.8" r="3.55"/>
<circle cx="930.5" cy="262.8" r="3.55"/>
<circle cx="942.6" cy="261.8" r="3.55"/>
<circle cx="954.3" cy="263.2" r="3.55"/>
<circle cx="964.8" cy="269.8" r="3.55"/>
<circle cx="1000.1" cy="269.4" r="3.55"/>
<circle cx="940.6" cy="271.9" r="3.55"/>
<circle cx="952.7" cy="272.5" r="3.55"/>
<circle cx="919.5" cy="275.5" r="3.55"/>
<circle cx="924.1" cy="274.9" r="3.55"/>
<circle cx="930.5" cy="276.9" r="3.55"/>
<circle cx="931.5" cy="278.9" r="3.55"/>
<circle cx="991.6" cy="277.5" r="3.55"/>
<circle cx="954.3" cy="281.9" r="3.55"/>
<circle cx="1097.8" cy="280.9" r="3.55"/>
<circle cx="1135.2" cy="40.5" r="3.55"/>
<circle cx="1200.9" cy="75.3" r="3.55"/>
<circle cx="1167.0" cy="85.6" r="3.55"/>
<circle cx="1206.4" cy="107.0" r="3.55"/>
<circle cx="1200.3" cy="116.3" r="3.55"/>
<circle cx="1140.5" cy="117.3" r="3.55"/>
<circle cx="1164.4" cy="118.3" r="3.55"/>
<circle cx="1176.1" cy="118.1" r="3.55"/>
<circle cx="1118.7" cy="123.7" r="3.55"/>
<circle cx="1191.6" cy="124.7" r="3.55"/>
<circle cx="1181.6" cy="133.8" r="3.55"/>
<circle cx="1225.5" cy="135.4" r="3.55"/>
<circle cx="1131.2" cy="137.2" r="3.55"/>
<circle cx="1120.1" cy="142.9" r="3.55"/>
<circle cx="1127.3" cy="147.3" r="3.55"/>
<circle cx="1130.8" cy="148.9" r="3.55"/>
<circle cx="1133.2" cy="150.5" r="3.55"/>
<circle cx="1118.1" cy="150.9" r="3.55"/>
<circle cx="1219.5" cy="153.6" r="3.55"/>
<circle cx="1160.6" cy="154.2" r="3.55"/>
<circle cx="1167.0" cy="151.9" r="3.55"/>
<circle cx="1171.1" cy="148.9" r="3.55"/>
<circle cx="1174.5" cy="150.5" r="3.55"/>
<circle cx="1176.1" cy="151.5" r="3.55"/>
<circle cx="1158.0" cy="162.0" r="3.55"/>
<circle cx="1156.4" cy="166.1" r="3.55"/>
<circle cx="1140.2" cy="166.7" r="3.55"/>
<circle cx="1136.8" cy="173.1" r="3.55"/>
<circle cx="1141.5" cy="179.2" r="3.55"/>
<circle cx="1150.9" cy="174.7" r="3.55"/>
<circle cx="1182.6" cy="173.1" r="3.55"/>
<circle cx="1193.3" cy="172.3" r="3.55"/>
<circle cx="1182.6" cy="190.6" r="3.55"/>
<circle cx="1128.8" cy="176.7" r="3.55"/>
<circle cx="1130.2" cy="178.1" r="3.55"/>
<circle cx="1155.0" cy="187.8" r="3.55"/>
<circle cx="1140.8" cy="194.3" r="3.55"/>
<circle cx="1133.2" cy="201.3" r="3.55"/>
<circle cx="1146.3" cy="202.9" r="3.55"/>
<circle cx="1125.7" cy="207.8" r="3.55"/>
<circle cx="1117.3" cy="212.4" r="3.55"/>
<circle cx="1116.3" cy="221.5" r="3.55"/>
<circle cx="1123.3" cy="230.1" r="3.55"/>
<circle cx="1122.3" cy="235.6" r="3.55"/>
<circle cx="959.8" cy="230.9" r="3.55"/>
<circle cx="999.1" cy="225.2" r="3.55"/>
<circle cx="982.4" cy="236.2" r="3.55"/>
<circle cx="953.7" cy="260.8" r="3.55"/>
<circle cx="1118.8" cy="167.1" r="3.55"/>
<circle cx="1077.3" cy="169.1" r="3.55"/>
<circle cx="1011.8" cy="205.3" r="3.55"/>
<circle cx="1136.5" cy="150.8" r="3.55"/>
<circle cx="1045.0" cy="188.8" r="3.55"/>
<circle cx="1048.4" cy="213.7" r="3.55"/>
<circle cx="1088.8" cy="222.9" r="3.55"/>
<circle cx="1162.2" cy="169.0" r="3.55"/>
<circle cx="1091.1" cy="168.8" r="3.55"/>
<circle cx="1022.4" cy="207.7" r="3.55"/>
<circle cx="935.5" cy="213.7" r="3.55"/>
<circle cx="1041.6" cy="201.4" r="3.55"/>
<circle cx="1045.6" cy="187.4" r="3.55"/>
<circle cx="1171.5" cy="150.2" r="3.55"/>
<circle cx="1010.7" cy="206.6" r="3.55"/>
<circle cx="1057.0" cy="206.9" r="3.55"/>
<circle cx="1083.5" cy="201.0" r="3.55"/>
<circle cx="1049.5" cy="185.4" r="3.55"/>
<circle cx="1089.7" cy="202.7" r="3.55"/>
<circle cx="948.3" cy="217.5" r="3.55"/>
<circle cx="975.5" cy="214.1" r="3.55"/>
</g>
<line x1="875.4" y1="253.2" x2="1224.3" y2="134.0" stroke="#727272" stroke-width="1.5"/>
</g>
<text x="34.2" y="366" text-anchor="end" fill="#000" stroke="#fff" stroke-width="0.7" transform="translate(32,0) scale(0.95,1) translate(-32,0)" style="font-family:'Liberation Serif',serif;font-size:39.5px">B</text>
<clipPath id="clipBL"><rect x="0" y="369.8" width="1290" height="400"/></clipPath>
<g clip-path="url(#clipBL)">
<rect x="137.55" y="371.25" width="3.5" height="274.00" fill="#000"/>
<rect x="128.30" y="641.75" width="11.00" height="3.5" fill="#000"/>
<text x="125.30" y="650.10" text-anchor="end" style="font-family:'Liberation Serif',serif;font-weight:bold;font-size:18.7px">0</text>
<rect x="128.30" y="587.65" width="11.00" height="3.5" fill="#000"/>
<text x="125.30" y="596.00" text-anchor="end" style="font-family:'Liberation Serif',serif;font-weight:bold;font-size:18.7px">10</text>
<rect x="128.30" y="533.55" width="11.00" height="3.5" fill="#000"/>
<text x="125.30" y="541.90" text-anchor="end" style="font-family:'Liberation Serif',serif;font-weight:bold;font-size:18.7px">20</text>
<rect x="128.30" y="479.45" width="11.00" height="3.5" fill="#000"/>
<text x="125.30" y="487.80" text-anchor="end" style="font-family:'Liberation Serif',serif;font-weight:bold;font-size:18.7px">30</text>
<rect x="128.30" y="425.35" width="11.00" height="3.5" fill="#000"/>
<text x="125.30" y="433.70" text-anchor="end" style="font-family:'Liberation Serif',serif;font-weight:bold;font-size:18.7px">40</text>
<rect x="128.30" y="371.25" width="11.00" height="3.5" fill="#000"/>
<text x="125.30" y="379.60" text-anchor="end" style="font-family:'Liberation Serif',serif;font-weight:bold;font-size:18.7px">50</text>
<rect x="139.30" y="641.75" width="493.45" height="3.5" fill="#000"/>
<rect x="137.55" y="643.50" width="3.5" height="11.30" fill="#000"/>
<text x="139.30" y="674.70" text-anchor="middle" style="font-family:'Liberation Serif',serif;font-weight:bold;font-size:18.7px">0</text>
<rect x="260.48" y="643.50" width="3.5" height="11.30" fill="#000"/>
<text x="262.23" y="674.70" text-anchor="middle" style="font-family:'Liberation Serif',serif;font-weight:bold;font-size:18.7px">1</text>
<rect x="383.40" y="643.50" width="3.5" height="11.30" fill="#000"/>
<text x="385.15" y="674.70" text-anchor="middle" style="font-family:'Liberation Serif',serif;font-weight:bold;font-size:18.7px">2</text>
<rect x="506.32" y="643.50" width="3.5" height="11.30" fill="#000"/>
<text x="508.07" y="674.70" text-anchor="middle" style="font-family:'Liberation Serif',serif;font-weight:bold;font-size:18.7px">3</text>
<rect x="629.25" y="643.50" width="3.5" height="11.30" fill="#000"/>
<text x="631.00" y="674.70" text-anchor="middle" style="font-family:'Liberation Serif',serif;font-weight:bold;font-size:18.7px">4</text>
<text x="385.15" y="707.50" text-anchor="middle" style="font-family:'Liberation Serif',serif;font-weight:bold;font-size:20.7px">S100A12_mRNA</text>
<text transform="translate(94.30,508.25) rotate(-90)" text-anchor="middle" style="font-family:'Liberation Serif',serif;font-weight:bold;font-size:21px">CK-MB U/L</text>
<g fill="#4b2a8c" fill-opacity="0.6">
<rect x="178.7" y="596.6" width="7.2" height="7.2"/>
<rect x="180.7" y="610.1" width="7.2" height="7.2"/>
<rect x="183.3" y="631.7" width="7.2" height="7.2"/>
<rect x="199.4" y="622.2" width="7.2" height="7.2"/>
<rect x="196.8" y="590.4" width="7.2" height="7.2"/>
<rect x="204.8" y="601.0" width="7.2" height="7.2"/>
<rect x="209.3" y="600.0" width="7.2" height="7.2"/>
<rect x="220.0" y="593.6" width="7.2" height="7.2"/>
<rect x="223.0" y="609.1" width="7.2" height="7.2"/>
<rect x="221.0" y="609.1" width="7.2" height="7.2"/>
<rect x="227.0" y="619.2" width="7.2" height="7.2"/>
<rect x="231.1" y="596.6" width="7.2" height="7.2"/>
<rect x="236.1" y="590.0" width="7.2" height="7.2"/>
<rect x="242.7" y="592.0" width="7.2" height="7.2"/>
<rect x="238.1" y="600.0" width="7.2" height="7.2"/>
<rect x="243.1" y="603.1" width="7.2" height="7.2"/>
<rect x="247.2" y="606.1" width="7.2" height="7.2"/>
<rect x="245.2" y="609.1" width="7.2" height="7.2"/>
<rect x="236.1" y="614.1" width="7.2" height="7.2"/>
<rect x="241.1" y="627.2" width="7.2" height="7.2"/>
<rect x="248.2" y="625.2" width="7.2" height="7.2"/>
<rect x="246.2" y="619.2" width="7.2" height="7.2"/>
<rect x="251.2" y="616.2" width="7.2" height="7.2"/>
<rect x="255.2" y="615.2" width="7.2" height="7.2"/>
<rect x="258.3" y="614.1" width="7.2" height="7.2"/>
<rect x="254.2" y="600.0" width="7.2" height="7.2"/>
<rect x="260.3" y="603.1" width="7.2" height="7.2"/>
<rect x="266.3" y="599.6" width="7.2" height="7.2"/>
<rect x="265.3" y="608.1" width="7.2" height="7.2"/>
<rect x="259.3" y="625.2" width="7.2" height="7.2"/>
<rect x="263.3" y="627.2" width="7.2" height="7.2"/>
<rect x="273.4" y="596.0" width="7.2" height="7.2"/>
<rect x="277.0" y="586.9" width="7.2" height="7.2"/>
<rect x="275.4" y="608.1" width="7.2" height="7.2"/>
<rect x="277.4" y="619.8" width="7.2" height="7.2"/>
<rect x="281.4" y="620.2" width="7.2" height="7.2"/>
<rect x="282.4" y="626.2" width="7.2" height="7.2"/>
<rect x="288.5" y="623.2" width="7.2" height="7.2"/>
<rect x="285.5" y="594.0" width="7.2" height="7.2"/>
<rect x="287.5" y="596.0" width="7.2" height="7.2"/>
<rect x="289.5" y="602.1" width="7.2" height="7.2"/>
<rect x="297.6" y="593.0" width="7.2" height="7.2"/>
<rect x="298.6" y="600.0" width="7.2" height="7.2"/>
<rect x="303.6" y="604.1" width="7.2" height="7.2"/>
<rect x="307.6" y="581.5" width="7.2" height="7.2"/>
<rect x="301.2" y="620.2" width="7.2" height="7.2"/>
<rect x="317.3" y="611.1" width="7.2" height="7.2"/>
<rect x="323.8" y="616.2" width="7.2" height="7.2"/>
<rect x="330.8" y="619.2" width="7.2" height="7.2"/>
<rect x="339.5" y="608.7" width="7.2" height="7.2"/>
<rect x="317.7" y="633.3" width="7.2" height="7.2"/>
<rect x="318.7" y="631.9" width="7.2" height="7.2"/>
<rect x="274.4" y="639.4" width="7.2" height="7.2"/>
<rect x="266.3" y="614.1" width="7.2" height="7.2"/>
<rect x="271.4" y="606.1" width="7.2" height="7.2"/>
<rect x="369.1" y="443.4" width="7.2" height="7.2"/>
<rect x="291.5" y="451.9" width="7.2" height="7.2"/>
<rect x="236.5" y="457.3" width="7.2" height="7.2"/>
<rect x="232.7" y="479.7" width="7.2" height="7.2"/>
<rect x="259.3" y="487.6" width="7.2" height="7.2"/>
<rect x="258.7" y="503.7" width="7.2" height="7.2"/>
<rect x="268.3" y="518.8" width="7.2" height="7.2"/>
<rect x="274.0" y="474.1" width="7.2" height="7.2"/>
<rect x="282.8" y="479.7" width="7.2" height="7.2"/>
<rect x="279.4" y="490.2" width="7.2" height="7.2"/>
<rect x="280.4" y="496.2" width="7.2" height="7.2"/>
<rect x="279.8" y="502.3" width="7.2" height="7.2"/>
<rect x="278.8" y="510.4" width="7.2" height="7.2"/>
<rect x="290.1" y="513.0" width="7.2" height="7.2"/>
<rect x="297.6" y="526.9" width="7.2" height="7.2"/>
<rect x="292.9" y="503.3" width="7.2" height="7.2"/>
<rect x="289.5" y="491.2" width="7.2" height="7.2"/>
<rect x="295.5" y="490.2" width="7.2" height="7.2"/>
<rect x="296.6" y="495.2" width="7.2" height="7.2"/>
<rect x="300.6" y="482.7" width="7.2" height="7.2"/>
<rect x="306.6" y="492.8" width="7.2" height="7.2"/>
<rect x="305.6" y="498.3" width="7.2" height="7.2"/>
<rect x="303.6" y="504.3" width="7.2" height="7.2"/>
<rect x="310.7" y="480.1" width="7.2" height="7.2"/>
<rect x="299.6" y="516.4" width="7.2" height="7.2"/>
<rect x="305.6" y="517.8" width="7.2" height="7.2"/>
<rect x="319.7" y="512.4" width="7.2" height="7.2"/>
<rect x="320.1" y="486.2" width="7.2" height="7.2"/>
<rect x="320.7" y="493.2" width="7.2" height="7.2"/>
<rect x="321.8" y="475.1" width="7.2" height="7.2"/>
<rect x="325.8" y="472.1" width="7.2" height="7.2"/>
<rect x="327.8" y="497.2" width="7.2" height="7.2"/>
<rect x="330.8" y="508.3" width="7.2" height="7.2"/>
<rect x="330.8" y="513.4" width="7.2" height="7.2"/>
<rect x="333.8" y="501.3" width="7.2" height="7.2"/>
<rect x="336.9" y="481.1" width="7.2" height="7.2"/>
<rect x="335.9" y="469.0" width="7.2" height="7.2"/>
<rect x="340.9" y="467.0" width="7.2" height="7.2"/>
<rect x="344.9" y="468.0" width="7.2" height="7.2"/>
<rect x="345.9" y="470.0" width="7.2" height="7.2"/>
<rect x="338.9" y="489.2" width="7.2" height="7.2"/>
<rect x="340.9" y="490.2" width="7.2" height="7.2"/>
<rect x="342.9" y="481.1" width="7.2" height="7.2"/>
<rect x="341.9" y="508.3" width="7.2" height="7.2"/>
<rect x="344.9" y="498.3" width="7.2" height="7.2"/>
<rect x="347.9" y="492.2" width="7.2" height="7.2"/>
<rect x="353.0" y="490.2" width="7.2" height="7.2"/>
<rect x="354.0" y="484.1" width="7.2" height="7.2"/>
<rect x="357.0" y="496.2" width="7.2" height="7.2"/>
<rect x="358.0" y="462.0" width="7.2" height="7.2"/>
<rect x="361.0" y="456.9" width="7.2" height="7.2"/>
<rect x="358.4" y="470.0" width="7.2" height="7.2"/>
<rect x="350.0" y="527.5" width="7.2" height="7.2"/>
<rect x="352.0" y="535.9" width="7.2" height="7.2"/>
<rect x="357.6" y="521.0" width="7.2" height="7.2"/>
<rect x="360.0" y="514.4" width="7.2" height="7.2"/>
<rect x="363.7" y="518.4" width="7.2" height="7.2"/>
<rect x="362.1" y="506.3" width="7.2" height="7.2"/>
<rect x="367.1" y="505.3" width="7.2" height="7.2"/>
<rect x="370.1" y="506.3" width="7.2" height="7.2"/>
<rect x="364.1" y="485.2" width="7.2" height="7.2"/>
<rect x="368.1" y="484.1" width="7.2" height="7.2"/>
<rect x="365.1" y="491.2" width="7.2" height="7.2"/>
<rect x="370.1" y="464.0" width="7.2" height="7.2"/>
<rect x="374.1" y="465.0" width="7.2" height="7.2"/>
<rect x="378.2" y="475.1" width="7.2" height="7.2"/>
<rect x="376.2" y="469.0" width="7.2" height="7.2"/>
<rect x="375.2" y="498.3" width="7.2" height="7.2"/>
<rect x="376.2" y="486.2" width="7.2" height="7.2"/>
<rect x="380.2" y="488.2" width="7.2" height="7.2"/>
<rect x="384.2" y="490.2" width="7.2" height="7.2"/>
<rect x="385.2" y="463.0" width="7.2" height="7.2"/>
<rect x="387.2" y="475.1" width="7.2" height="7.2"/>
<rect x="390.3" y="477.1" width="7.2" height="7.2"/>
<rect x="392.3" y="465.0" width="7.2" height="7.2"/>
<rect x="396.3" y="464.0" width="7.2" height="7.2"/>
<rect x="400.3" y="464.0" width="7.2" height="7.2"/>
<rect x="399.3" y="479.1" width="7.2" height="7.2"/>
<rect x="388.3" y="493.2" width="7.2" height="7.2"/>
<rect x="391.3" y="496.2" width="7.2" height="7.2"/>
<rect x="392.3" y="507.3" width="7.2" height="7.2"/>
<rect x="394.3" y="504.3" width="7.2" height="7.2"/>
<rect x="400.3" y="505.3" width="7.2" height="7.2"/>
<rect x="384.2" y="512.4" width="7.2" height="7.2"/>
<rect x="391.3" y="517.8" width="7.2" height="7.2"/>
<rect x="373.1" y="517.4" width="7.2" height="7.2"/>
<rect x="396.3" y="499.3" width="7.2" height="7.2"/>
<rect x="454.8" y="424.1" width="7.2" height="7.2"/>
<rect x="452.4" y="440.4" width="7.2" height="7.2"/>
<rect x="460.9" y="445.9" width="7.2" height="7.2"/>
<rect x="472.0" y="440.8" width="7.2" height="7.2"/>
<rect x="447.8" y="450.5" width="7.2" height="7.2"/>
<rect x="418.0" y="455.9" width="7.2" height="7.2"/>
<rect x="411.5" y="460.4" width="7.2" height="7.2"/>
<rect x="440.7" y="460.4" width="7.2" height="7.2"/>
<rect x="441.1" y="464.0" width="7.2" height="7.2"/>
<rect x="467.9" y="454.5" width="7.2" height="7.2"/>
<rect x="475.6" y="457.9" width="7.2" height="7.2"/>
<rect x="481.0" y="462.0" width="7.2" height="7.2"/>
<rect x="489.1" y="455.5" width="7.2" height="7.2"/>
<rect x="500.2" y="454.9" width="7.2" height="7.2"/>
<rect x="516.3" y="448.3" width="7.2" height="7.2"/>
<rect x="531.0" y="447.5" width="7.2" height="7.2"/>
<rect x="545.5" y="456.9" width="7.2" height="7.2"/>
<rect x="416.6" y="468.6" width="7.2" height="7.2"/>
<rect x="417.6" y="470.0" width="7.2" height="7.2"/>
<rect x="431.7" y="469.0" width="7.2" height="7.2"/>
<rect x="442.8" y="471.0" width="7.2" height="7.2"/>
<rect x="449.2" y="469.0" width="7.2" height="7.2"/>
<rect x="445.8" y="475.1" width="7.2" height="7.2"/>
<rect x="408.5" y="469.0" width="7.2" height="7.2"/>
<rect x="406.5" y="477.1" width="7.2" height="7.2"/>
<rect x="416.6" y="475.1" width="7.2" height="7.2"/>
<rect x="480.0" y="467.0" width="7.2" height="7.2"/>
<rect x="479.0" y="472.1" width="7.2" height="7.2"/>
<rect x="476.0" y="475.1" width="7.2" height="7.2"/>
<rect x="474.0" y="471.0" width="7.2" height="7.2"/>
<rect x="485.1" y="468.0" width="7.2" height="7.2"/>
<rect x="494.6" y="470.0" width="7.2" height="7.2"/>
<rect x="509.3" y="465.4" width="7.2" height="7.2"/>
<rect x="505.2" y="474.5" width="7.2" height="7.2"/>
<rect x="522.4" y="477.1" width="7.2" height="7.2"/>
<rect x="536.5" y="474.1" width="7.2" height="7.2"/>
<rect x="538.5" y="476.1" width="7.2" height="7.2"/>
<rect x="533.4" y="480.7" width="7.2" height="7.2"/>
<rect x="416.6" y="482.1" width="7.2" height="7.2"/>
<rect x="420.6" y="483.1" width="7.2" height="7.2"/>
<rect x="425.6" y="484.1" width="7.2" height="7.2"/>
<rect x="432.7" y="481.1" width="7.2" height="7.2"/>
<rect x="440.7" y="481.1" width="7.2" height="7.2"/>
<rect x="441.8" y="487.2" width="7.2" height="7.2"/>
<rect x="438.7" y="486.2" width="7.2" height="7.2"/>
<rect x="444.8" y="481.1" width="7.2" height="7.2"/>
<rect x="454.8" y="485.2" width="7.2" height="7.2"/>
<rect x="457.9" y="486.2" width="7.2" height="7.2"/>
<rect x="461.9" y="483.1" width="7.2" height="7.2"/>
<rect x="464.9" y="481.1" width="7.2" height="7.2"/>
<rect x="462.9" y="485.2" width="7.2" height="7.2"/>
<rect x="467.9" y="484.1" width="7.2" height="7.2"/>
<rect x="485.1" y="485.2" width="7.2" height="7.2"/>
<rect x="484.1" y="488.2" width="7.2" height="7.2"/>
<rect x="481.0" y="492.2" width="7.2" height="7.2"/>
<rect x="490.1" y="489.2" width="7.2" height="7.2"/>
<rect x="512.3" y="483.1" width="7.2" height="7.2"/>
<rect x="511.3" y="486.2" width="7.2" height="7.2"/>
<rect x="508.3" y="489.2" width="7.2" height="7.2"/>
<rect x="518.3" y="489.2" width="7.2" height="7.2"/>
<rect x="540.5" y="485.2" width="7.2" height="7.2"/>
<rect x="541.5" y="491.2" width="7.2" height="7.2"/>
<rect x="545.5" y="497.9" width="7.2" height="7.2"/>
<rect x="568.1" y="490.2" width="7.2" height="7.2"/>
<rect x="572.8" y="484.6" width="7.2" height="7.2"/>
<rect x="405.5" y="490.2" width="7.2" height="7.2"/>
<rect x="408.5" y="493.2" width="7.2" height="7.2"/>
<rect x="410.5" y="497.2" width="7.2" height="7.2"/>
<rect x="420.6" y="498.3" width="7.2" height="7.2"/>
<rect x="423.6" y="503.3" width="7.2" height="7.2"/>
<rect x="430.7" y="500.9" width="7.2" height="7.2"/>
<rect x="440.7" y="496.2" width="7.2" height="7.2"/>
<rect x="441.8" y="490.2" width="7.2" height="7.2"/>
<rect x="456.9" y="502.3" width="7.2" height="7.2"/>
<rect x="460.5" y="500.9" width="7.2" height="7.2"/>
<rect x="462.9" y="503.3" width="7.2" height="7.2"/>
<rect x="464.9" y="507.3" width="7.2" height="7.2"/>
<rect x="465.9" y="513.4" width="7.2" height="7.2"/>
<rect x="420.6" y="509.8" width="7.2" height="7.2"/>
<rect x="411.5" y="519.8" width="7.2" height="7.2"/>
<rect x="421.6" y="519.4" width="7.2" height="7.2"/>
<rect x="478.0" y="498.3" width="7.2" height="7.2"/>
<rect x="480.0" y="499.3" width="7.2" height="7.2"/>
<rect x="485.1" y="503.3" width="7.2" height="7.2"/>
<rect x="490.1" y="505.3" width="7.2" height="7.2"/>
<rect x="491.1" y="496.2" width="7.2" height="7.2"/>
<rect x="497.2" y="501.7" width="7.2" height="7.2"/>
<rect x="508.3" y="502.3" width="7.2" height="7.2"/>
<rect x="509.3" y="503.3" width="7.2" height="7.2"/>
<rect x="483.1" y="521.0" width="7.2" height="7.2"/>
<rect x="495.2" y="526.9" width="7.2" height="7.2"/>
<rect x="408.6" y="468.9" width="7.2" height="7.2"/>
<rect x="410.3" y="460.0" width="7.2" height="7.2"/>
<rect x="439.3" y="476.9" width="7.2" height="7.2"/>
<rect x="256.2" y="603.4" width="7.2" height="7.2"/>
<rect x="261.4" y="603.3" width="7.2" height="7.2"/>
<rect x="443.8" y="487.3" width="7.2" height="7.2"/>
<rect x="513.3" y="498.4" width="7.2" height="7.2"/>
<rect x="247.7" y="630.2" width="7.2" height="7.2"/>
<rect x="358.4" y="504.8" width="7.2" height="7.2"/>
<rect x="285.7" y="493.9" width="7.2" height="7.2"/>
<rect x="406.0" y="461.0" width="7.2" height="7.2"/>
<rect x="478.2" y="502.2" width="7.2" height="7.2"/>
<rect x="479.4" y="470.0" width="7.2" height="7.2"/>
<rect x="406.7" y="464.5" width="7.2" height="7.2"/>
<rect x="263.1" y="624.3" width="7.2" height="7.2"/>
<rect x="442.4" y="477.8" width="7.2" height="7.2"/>
<rect x="478.3" y="499.7" width="7.2" height="7.2"/>
<rect x="319.6" y="631.3" width="7.2" height="7.2"/>
<rect x="383.5" y="468.4" width="7.2" height="7.2"/>
<rect x="476.8" y="464.1" width="7.2" height="7.2"/>
<rect x="535.1" y="480.3" width="7.2" height="7.2"/>
<rect x="458.7" y="507.5" width="7.2" height="7.2"/>
<rect x="442.0" y="487.1" width="7.2" height="7.2"/>
<rect x="349.6" y="480.5" width="7.2" height="7.2"/>
<rect x="241.0" y="587.6" width="7.2" height="7.2"/>
<rect x="442.7" y="487.9" width="7.2" height="7.2"/>
<rect x="339.1" y="479.4" width="7.2" height="7.2"/>
<rect x="394.6" y="504.2" width="7.2" height="7.2"/>
<rect x="481.1" y="470.4" width="7.2" height="7.2"/>
<rect x="260.1" y="611.3" width="7.2" height="7.2"/>
<rect x="333.6" y="508.3" width="7.2" height="7.2"/>
<rect x="409.3" y="469.7" width="7.2" height="7.2"/>
<rect x="485.6" y="505.1" width="7.2" height="7.2"/>
<rect x="255.4" y="615.0" width="7.2" height="7.2"/>
<rect x="484.6" y="495.7" width="7.2" height="7.2"/>
<rect x="440.9" y="469.9" width="7.2" height="7.2"/>
<rect x="482.2" y="465.6" width="7.2" height="7.2"/>
<rect x="246.2" y="609.9" width="7.2" height="7.2"/>
<rect x="434.6" y="477.4" width="7.2" height="7.2"/>
<rect x="351.9" y="492.7" width="7.2" height="7.2"/>
<rect x="336.0" y="461.2" width="7.2" height="7.2"/>
<rect x="299.9" y="496.4" width="7.2" height="7.2"/>
<rect x="470.4" y="455.6" width="7.2" height="7.2"/>
<rect x="440.9" y="463.5" width="7.2" height="7.2"/>
<rect x="484.2" y="480.7" width="7.2" height="7.2"/>
</g>
<line x1="182.3" y1="594.8" x2="575.7" y2="435.2" stroke="#727272" stroke-width="1.5"/>
</g>
<clipPath id="clipBR"><rect x="0" y="369.8" width="1290" height="400"/></clipPath>
<g clip-path="url(#clipBR)">
<rect x="778.25" y="371.25" width="3.5" height="274.00" fill="#000"/>
<rect x="769.00" y="641.75" width="11.00" height="3.5" fill="#000"/>
<text x="766.00" y="650.10" text-anchor="end" style="font-family:'Liberation Serif',serif;font-weight:bold;font-size:18.7px">0</text>
<rect x="769.00" y="587.65" width="11.00" height="3.5" fill="#000"/>
<text x="766.00" y="596.00" text-anchor="end" style="font-family:'Liberation Serif',serif;font-weight:bold;font-size:18.7px">10</text>
<rect x="769.00" y="533.55" width="11.00" height="3.5" fill="#000"/>
<text x="766.00" y="541.90" text-anchor="end" style="font-family:'Liberation Serif',serif;font-weight:bold;font-size:18.7px">20</text>
<rect x="769.00" y="479.45" width="11.00" height="3.5" fill="#000"/>
<text x="766.00" y="487.80" text-anchor="end" style="font-family:'Liberation Serif',serif;font-weight:bold;font-size:18.7px">30</text>
<rect x="769.00" y="425.35" width="11.00" height="3.5" fill="#000"/>
<text x="766.00" y="433.70" text-anchor="end" style="font-family:'Liberation Serif',serif;font-weight:bold;font-size:18.7px">40</text>
<rect x="769.00" y="371.25" width="11.00" height="3.5" fill="#000"/>
<text x="766.00" y="379.60" text-anchor="end" style="font-family:'Liberation Serif',serif;font-weight:bold;font-size:18.7px">50</text>
<rect x="780.00" y="641.75" width="493.25" height="3.5" fill="#000"/>
<rect x="778.25" y="643.50" width="3.5" height="11.30" fill="#000"/>
<text x="780.00" y="674.70" text-anchor="middle" style="font-family:'Liberation Serif',serif;font-weight:bold;font-size:18.7px">0</text>
<rect x="942.08" y="643.50" width="3.5" height="11.30" fill="#000"/>
<text x="943.83" y="674.70" text-anchor="middle" style="font-family:'Liberation Serif',serif;font-weight:bold;font-size:18.7px">10</text>
<rect x="1105.92" y="643.50" width="3.5" height="11.30" fill="#000"/>
<text x="1107.67" y="674.70" text-anchor="middle" style="font-family:'Liberation Serif',serif;font-weight:bold;font-size:18.7px">20</text>
<rect x="1269.75" y="643.50" width="3.5" height="11.30" fill="#000"/>
<text x="1271.50" y="674.70" text-anchor="middle" style="font-family:'Liberation Serif',serif;font-weight:bold;font-size:18.7px">30</text>
<rect x="794.63" y="643.50" width="3.5" height="6.00" fill="#000"/>
<rect x="811.02" y="643.50" width="3.5" height="6.00" fill="#000"/>
<rect x="827.40" y="643.50" width="3.5" height="6.00" fill="#000"/>
<rect x="843.78" y="643.50" width="3.5" height="6.00" fill="#000"/>
<rect x="860.17" y="643.50" width="3.5" height="6.00" fill="#000"/>
<rect x="876.55" y="643.50" width="3.5" height="6.00" fill="#000"/>
<rect x="892.93" y="643.50" width="3.5" height="6.00" fill="#000"/>
<rect x="909.32" y="643.50" width="3.5" height="6.00" fill="#000"/>
<rect x="925.70" y="643.50" width="3.5" height="6.00" fill="#000"/>
<rect x="958.47" y="643.50" width="3.5" height="6.00" fill="#000"/>
<rect x="974.85" y="643.50" width="3.5" height="6.00" fill="#000"/>
<rect x="991.23" y="643.50" width="3.5" height="6.00" fill="#000"/>
<rect x="1007.62" y="643.50" width="3.5" height="6.00" fill="#000"/>
<rect x="1024.00" y="643.50" width="3.5" height="6.00" fill="#000"/>
<rect x="1040.38" y="643.50" width="3.5" height="6.00" fill="#000"/>
<rect x="1056.77" y="643.50" width="3.5" height="6.00" fill="#000"/>
<rect x="1073.15" y="643.50" width="3.5" height="6.00" fill="#000"/>
<rect x="1089.53" y="643.50" width="3.5" height="6.00" fill="#000"/>
<rect x="1122.30" y="643.50" width="3.5" height="6.00" fill="#000"/>
<rect x="1138.68" y="643.50" width="3.5" height="6.00" fill="#000"/>
<rect x="1155.07" y="643.50" width="3.5" height="6.00" fill="#000"/>
<rect x="1171.45" y="643.50" width="3.5" height="6.00" fill="#000"/>
<rect x="1187.83" y="643.50" width="3.5" height="6.00" fill="#000"/>
<rect x="1204.22" y="643.50" width="3.5" height="6.00" fill="#000"/>
<rect x="1220.60" y="643.50" width="3.5" height="6.00" fill="#000"/>
<rect x="1236.98" y="643.50" width="3.5" height="6.00" fill="#000"/>
<rect x="1253.37" y="643.50" width="3.5" height="6.00" fill="#000"/>
<text x="1025.75" y="707.50" text-anchor="middle" style="font-family:'Liberation Serif',serif;font-weight:bold;font-size:20.7px">S100A12_Protein</text>
<text transform="translate(735.00,508.25) rotate(-90)" text-anchor="middle" style="font-family:'Liberation Serif',serif;font-weight:bold;font-size:21px">CK-MB U/L</text>
<g fill="#4b2a8c" fill-opacity="0.6">
<rect x="868.6" y="590.0" width="7.2" height="7.2"/>
<rect x="886.7" y="596.0" width="7.2" height="7.2"/>
<rect x="887.1" y="608.5" width="7.2" height="7.2"/>
<rect x="894.4" y="614.6" width="7.2" height="7.2"/>
<rect x="900.8" y="616.6" width="7.2" height="7.2"/>
<rect x="909.3" y="618.2" width="7.2" height="7.2"/>
<rect x="906.9" y="622.2" width="7.2" height="7.2"/>
<rect x="900.8" y="626.2" width="7.2" height="7.2"/>
<rect x="902.8" y="631.3" width="7.2" height="7.2"/>
<rect x="903.8" y="634.3" width="7.2" height="7.2"/>
<rect x="912.9" y="604.1" width="7.2" height="7.2"/>
<rect x="919.0" y="603.1" width="7.2" height="7.2"/>
<rect x="926.0" y="600.0" width="7.2" height="7.2"/>
<rect x="925.0" y="581.5" width="7.2" height="7.2"/>
<rect x="923.0" y="615.2" width="7.2" height="7.2"/>
<rect x="924.0" y="618.2" width="7.2" height="7.2"/>
<rect x="925.0" y="626.2" width="7.2" height="7.2"/>
<rect x="933.1" y="617.2" width="7.2" height="7.2"/>
<rect x="936.1" y="592.0" width="7.2" height="7.2"/>
<rect x="938.1" y="592.0" width="7.2" height="7.2"/>
<rect x="935.1" y="602.1" width="7.2" height="7.2"/>
<rect x="943.1" y="608.1" width="7.2" height="7.2"/>
<rect x="942.1" y="618.2" width="7.2" height="7.2"/>
<rect x="943.1" y="622.2" width="7.2" height="7.2"/>
<rect x="948.8" y="593.0" width="7.2" height="7.2"/>
<rect x="947.2" y="602.1" width="7.2" height="7.2"/>
<rect x="951.2" y="600.0" width="7.2" height="7.2"/>
<rect x="953.2" y="604.1" width="7.2" height="7.2"/>
<rect x="955.2" y="608.1" width="7.2" height="7.2"/>
<rect x="957.2" y="600.0" width="7.2" height="7.2"/>
<rect x="959.3" y="599.0" width="7.2" height="7.2"/>
<rect x="955.2" y="613.1" width="7.2" height="7.2"/>
<rect x="959.3" y="620.2" width="7.2" height="7.2"/>
<rect x="960.3" y="616.2" width="7.2" height="7.2"/>
<rect x="953.2" y="625.2" width="7.2" height="7.2"/>
<rect x="946.2" y="631.3" width="7.2" height="7.2"/>
<rect x="962.3" y="593.0" width="7.2" height="7.2"/>
<rect x="971.4" y="589.0" width="7.2" height="7.2"/>
<rect x="973.4" y="596.0" width="7.2" height="7.2"/>
<rect x="977.4" y="596.0" width="7.2" height="7.2"/>
<rect x="983.4" y="597.0" width="7.2" height="7.2"/>
<rect x="968.3" y="607.1" width="7.2" height="7.2"/>
<rect x="972.4" y="609.1" width="7.2" height="7.2"/>
<rect x="970.4" y="618.2" width="7.2" height="7.2"/>
<rect x="977.4" y="620.2" width="7.2" height="7.2"/>
<rect x="973.0" y="627.2" width="7.2" height="7.2"/>
<rect x="990.5" y="614.1" width="7.2" height="7.2"/>
<rect x="1016.7" y="586.9" width="7.2" height="7.2"/>
<rect x="1023.8" y="601.0" width="7.2" height="7.2"/>
<rect x="1020.7" y="608.7" width="7.2" height="7.2"/>
<rect x="968.3" y="639.4" width="7.2" height="7.2"/>
<rect x="1101.4" y="445.9" width="7.2" height="7.2"/>
<rect x="1096.3" y="454.5" width="7.2" height="7.2"/>
<rect x="1041.9" y="451.9" width="7.2" height="7.2"/>
<rect x="1049.0" y="455.9" width="7.2" height="7.2"/>
<rect x="1072.1" y="455.3" width="7.2" height="7.2"/>
<rect x="973.4" y="464.0" width="7.2" height="7.2"/>
<rect x="983.0" y="464.0" width="7.2" height="7.2"/>
<rect x="993.5" y="471.0" width="7.2" height="7.2"/>
<rect x="991.5" y="472.1" width="7.2" height="7.2"/>
<rect x="987.1" y="477.1" width="7.2" height="7.2"/>
<rect x="1015.7" y="462.0" width="7.2" height="7.2"/>
<rect x="1013.7" y="466.0" width="7.2" height="7.2"/>
<rect x="1021.7" y="465.0" width="7.2" height="7.2"/>
<rect x="1030.8" y="469.0" width="7.2" height="7.2"/>
<rect x="1013.3" y="470.0" width="7.2" height="7.2"/>
<rect x="1023.8" y="475.1" width="7.2" height="7.2"/>
<rect x="1026.8" y="476.1" width="7.2" height="7.2"/>
<rect x="1040.9" y="464.0" width="7.2" height="7.2"/>
<rect x="1044.9" y="468.0" width="7.2" height="7.2"/>
<rect x="1057.0" y="461.0" width="7.2" height="7.2"/>
<rect x="1063.7" y="461.0" width="7.2" height="7.2"/>
<rect x="1058.0" y="469.0" width="7.2" height="7.2"/>
<rect x="1068.1" y="469.0" width="7.2" height="7.2"/>
<rect x="1076.2" y="466.0" width="7.2" height="7.2"/>
<rect x="1082.2" y="463.0" width="7.2" height="7.2"/>
<rect x="1089.3" y="464.0" width="7.2" height="7.2"/>
<rect x="1101.4" y="466.0" width="7.2" height="7.2"/>
<rect x="1094.3" y="471.0" width="7.2" height="7.2"/>
<rect x="976.4" y="482.7" width="7.2" height="7.2"/>
<rect x="988.5" y="485.2" width="7.2" height="7.2"/>
<rect x="1002.6" y="483.1" width="7.2" height="7.2"/>
<rect x="1013.7" y="481.1" width="7.2" height="7.2"/>
<rect x="1016.7" y="485.2" width="7.2" height="7.2"/>
<rect x="947.2" y="489.6" width="7.2" height="7.2"/>
<rect x="959.3" y="490.2" width="7.2" height="7.2"/>
<rect x="969.4" y="487.2" width="7.2" height="7.2"/>
<rect x="970.4" y="491.2" width="7.2" height="7.2"/>
<rect x="979.4" y="491.2" width="7.2" height="7.2"/>
<rect x="983.4" y="492.2" width="7.2" height="7.2"/>
<rect x="988.5" y="491.2" width="7.2" height="7.2"/>
<rect x="995.5" y="493.2" width="7.2" height="7.2"/>
<rect x="999.6" y="491.2" width="7.2" height="7.2"/>
<rect x="1003.6" y="495.2" width="7.2" height="7.2"/>
<rect x="1008.6" y="491.2" width="7.2" height="7.2"/>
<rect x="1016.7" y="495.2" width="7.2" height="7.2"/>
<rect x="1021.7" y="488.2" width="7.2" height="7.2"/>
<rect x="1030.8" y="490.2" width="7.2" height="7.2"/>
<rect x="1036.9" y="480.1" width="7.2" height="7.2"/>
<rect x="1040.9" y="483.1" width="7.2" height="7.2"/>
<rect x="1044.9" y="481.1" width="7.2" height="7.2"/>
<rect x="1048.0" y="483.1" width="7.2" height="7.2"/>
<rect x="1055.0" y="476.1" width="7.2" height="7.2"/>
<rect x="1057.0" y="481.1" width="7.2" height="7.2"/>
<rect x="1056.0" y="487.2" width="7.2" height="7.2"/>
<rect x="1062.1" y="485.2" width="7.2" height="7.2"/>
<rect x="1064.1" y="487.2" width="7.2" height="7.2"/>
<rect x="1050.0" y="488.2" width="7.2" height="7.2"/>
<rect x="1052.0" y="494.2" width="7.2" height="7.2"/>
<rect x="1073.1" y="478.1" width="7.2" height="7.2"/>
<rect x="1076.2" y="481.1" width="7.2" height="7.2"/>
<rect x="1080.2" y="479.1" width="7.2" height="7.2"/>
<rect x="1085.2" y="475.1" width="7.2" height="7.2"/>
<rect x="1088.3" y="477.1" width="7.2" height="7.2"/>
<rect x="1097.3" y="476.1" width="7.2" height="7.2"/>
<rect x="1092.3" y="486.2" width="7.2" height="7.2"/>
<rect x="1087.2" y="489.2" width="7.2" height="7.2"/>
<rect x="1091.3" y="491.2" width="7.2" height="7.2"/>
<rect x="1096.3" y="492.2" width="7.2" height="7.2"/>
<rect x="940.7" y="497.9" width="7.2" height="7.2"/>
<rect x="959.3" y="502.3" width="7.2" height="7.2"/>
<rect x="972.4" y="498.3" width="7.2" height="7.2"/>
<rect x="971.4" y="503.3" width="7.2" height="7.2"/>
<rect x="981.4" y="504.3" width="7.2" height="7.2"/>
<rect x="985.5" y="498.3" width="7.2" height="7.2"/>
<rect x="991.5" y="500.3" width="7.2" height="7.2"/>
<rect x="995.5" y="503.3" width="7.2" height="7.2"/>
<rect x="999.6" y="498.3" width="7.2" height="7.2"/>
<rect x="1001.6" y="505.3" width="7.2" height="7.2"/>
<rect x="1013.7" y="505.3" width="7.2" height="7.2"/>
<rect x="1017.7" y="498.3" width="7.2" height="7.2"/>
<rect x="1021.7" y="503.3" width="7.2" height="7.2"/>
<rect x="1029.8" y="497.2" width="7.2" height="7.2"/>
<rect x="1039.9" y="501.3" width="7.2" height="7.2"/>
<rect x="1045.9" y="498.3" width="7.2" height="7.2"/>
<rect x="1049.0" y="503.3" width="7.2" height="7.2"/>
<rect x="1051.0" y="499.3" width="7.2" height="7.2"/>
<rect x="1054.0" y="496.2" width="7.2" height="7.2"/>
<rect x="1060.0" y="496.2" width="7.2" height="7.2"/>
<rect x="1065.1" y="500.3" width="7.2" height="7.2"/>
<rect x="1071.1" y="495.2" width="7.2" height="7.2"/>
<rect x="1074.2" y="496.2" width="7.2" height="7.2"/>
<rect x="1077.2" y="494.2" width="7.2" height="7.2"/>
<rect x="1082.2" y="496.2" width="7.2" height="7.2"/>
<rect x="1088.3" y="498.3" width="7.2" height="7.2"/>
<rect x="1090.3" y="502.3" width="7.2" height="7.2"/>
<rect x="914.9" y="507.7" width="7.2" height="7.2"/>
<rect x="915.9" y="509.8" width="7.2" height="7.2"/>
<rect x="924.0" y="503.3" width="7.2" height="7.2"/>
<rect x="927.0" y="503.3" width="7.2" height="7.2"/>
<rect x="936.1" y="517.8" width="7.2" height="7.2"/>
<rect x="948.2" y="519.4" width="7.2" height="7.2"/>
<rect x="948.2" y="526.5" width="7.2" height="7.2"/>
<rect x="958.3" y="510.4" width="7.2" height="7.2"/>
<rect x="962.3" y="513.4" width="7.2" height="7.2"/>
<rect x="967.3" y="514.4" width="7.2" height="7.2"/>
<rect x="971.4" y="513.0" width="7.2" height="7.2"/>
<rect x="967.3" y="521.4" width="7.2" height="7.2"/>
<rect x="969.4" y="528.5" width="7.2" height="7.2"/>
<rect x="992.5" y="521.0" width="7.2" height="7.2"/>
<rect x="1006.6" y="513.4" width="7.2" height="7.2"/>
<rect x="1010.7" y="508.3" width="7.2" height="7.2"/>
<rect x="1014.7" y="507.3" width="7.2" height="7.2"/>
<rect x="1020.7" y="517.0" width="7.2" height="7.2"/>
<rect x="1037.9" y="516.4" width="7.2" height="7.2"/>
<rect x="1048.0" y="507.3" width="7.2" height="7.2"/>
<rect x="1050.0" y="505.3" width="7.2" height="7.2"/>
<rect x="1054.0" y="507.3" width="7.2" height="7.2"/>
<rect x="1050.0" y="515.4" width="7.2" height="7.2"/>
<rect x="1057.0" y="518.4" width="7.2" height="7.2"/>
<rect x="1060.0" y="511.4" width="7.2" height="7.2"/>
<rect x="1064.1" y="513.4" width="7.2" height="7.2"/>
<rect x="1062.1" y="518.4" width="7.2" height="7.2"/>
<rect x="1065.1" y="517.4" width="7.2" height="7.2"/>
<rect x="1076.2" y="519.8" width="7.2" height="7.2"/>
<rect x="1049.6" y="526.5" width="7.2" height="7.2"/>
<rect x="902.4" y="535.9" width="7.2" height="7.2"/>
<rect x="1124.2" y="424.1" width="7.2" height="7.2"/>
<rect x="1135.6" y="440.8" width="7.2" height="7.2"/>
<rect x="1130.8" y="447.9" width="7.2" height="7.2"/>
<rect x="1125.2" y="454.9" width="7.2" height="7.2"/>
<rect x="1148.7" y="447.5" width="7.2" height="7.2"/>
<rect x="1165.5" y="440.4" width="7.2" height="7.2"/>
<rect x="1144.9" y="458.3" width="7.2" height="7.2"/>
<rect x="1200.7" y="443.4" width="7.2" height="7.2"/>
<rect x="1213.8" y="450.5" width="7.2" height="7.2"/>
<rect x="1219.9" y="456.9" width="7.2" height="7.2"/>
<rect x="1169.5" y="457.3" width="7.2" height="7.2"/>
<rect x="1176.6" y="456.9" width="7.2" height="7.2"/>
<rect x="1175.6" y="462.6" width="7.2" height="7.2"/>
<rect x="1107.0" y="470.0" width="7.2" height="7.2"/>
<rect x="1119.5" y="466.0" width="7.2" height="7.2"/>
<rect x="1123.1" y="469.0" width="7.2" height="7.2"/>
<rect x="1125.2" y="471.0" width="7.2" height="7.2"/>
<rect x="1121.1" y="475.1" width="7.2" height="7.2"/>
<rect x="1134.2" y="475.1" width="7.2" height="7.2"/>
<rect x="1140.9" y="470.0" width="7.2" height="7.2"/>
<rect x="1150.4" y="469.0" width="7.2" height="7.2"/>
<rect x="1153.4" y="469.0" width="7.2" height="7.2"/>
<rect x="1161.4" y="469.0" width="7.2" height="7.2"/>
<rect x="1170.5" y="469.0" width="7.2" height="7.2"/>
<rect x="1176.6" y="475.1" width="7.2" height="7.2"/>
<rect x="1158.4" y="478.1" width="7.2" height="7.2"/>
<rect x="1167.5" y="480.1" width="7.2" height="7.2"/>
<rect x="1161.4" y="485.2" width="7.2" height="7.2"/>
<rect x="1187.6" y="479.5" width="7.2" height="7.2"/>
<rect x="1195.3" y="477.5" width="7.2" height="7.2"/>
<rect x="1185.6" y="486.2" width="7.2" height="7.2"/>
<rect x="1194.7" y="489.8" width="7.2" height="7.2"/>
<rect x="1112.1" y="481.1" width="7.2" height="7.2"/>
<rect x="1115.1" y="486.2" width="7.2" height="7.2"/>
<rect x="1111.1" y="492.2" width="7.2" height="7.2"/>
<rect x="1118.1" y="490.2" width="7.2" height="7.2"/>
<rect x="1125.2" y="485.2" width="7.2" height="7.2"/>
<rect x="1128.2" y="485.2" width="7.2" height="7.2"/>
<rect x="1134.2" y="490.2" width="7.2" height="7.2"/>
<rect x="1135.2" y="498.9" width="7.2" height="7.2"/>
<rect x="1110.0" y="503.3" width="7.2" height="7.2"/>
<rect x="1104.0" y="501.3" width="7.2" height="7.2"/>
<rect x="1109.0" y="502.3" width="7.2" height="7.2"/>
<rect x="958.7" y="608.3" width="7.2" height="7.2"/>
<rect x="1053.2" y="461.1" width="7.2" height="7.2"/>
<rect x="1049.3" y="501.8" width="7.2" height="7.2"/>
<rect x="902.7" y="623.0" width="7.2" height="7.2"/>
<rect x="975.2" y="513.0" width="7.2" height="7.2"/>
<rect x="1083.3" y="504.6" width="7.2" height="7.2"/>
<rect x="1123.9" y="469.2" width="7.2" height="7.2"/>
<rect x="1099.5" y="490.9" width="7.2" height="7.2"/>
<rect x="1015.0" y="462.4" width="7.2" height="7.2"/>
<rect x="1009.9" y="467.6" width="7.2" height="7.2"/>
<rect x="1031.1" y="471.5" width="7.2" height="7.2"/>
<rect x="1063.9" y="487.9" width="7.2" height="7.2"/>
<rect x="1052.3" y="516.7" width="7.2" height="7.2"/>
<rect x="977.3" y="617.9" width="7.2" height="7.2"/>
<rect x="954.5" y="604.9" width="7.2" height="7.2"/>
<rect x="1077.5" y="494.8" width="7.2" height="7.2"/>
<rect x="1048.5" y="512.8" width="7.2" height="7.2"/>
<rect x="1004.6" y="493.7" width="7.2" height="7.2"/>
<rect x="1087.5" y="476.6" width="7.2" height="7.2"/>
<rect x="1014.3" y="466.6" width="7.2" height="7.2"/>
<rect x="972.2" y="594.4" width="7.2" height="7.2"/>
<rect x="1051.3" y="498.9" width="7.2" height="7.2"/>
<rect x="1089.0" y="472.9" width="7.2" height="7.2"/>
<rect x="1036.0" y="480.2" width="7.2" height="7.2"/>
<rect x="923.1" y="590.5" width="7.2" height="7.2"/>
<rect x="999.9" y="506.6" width="7.2" height="7.2"/>
<rect x="1091.2" y="474.4" width="7.2" height="7.2"/>
<rect x="1092.9" y="489.3" width="7.2" height="7.2"/>
<rect x="1092.7" y="475.7" width="7.2" height="7.2"/>
<rect x="1063.5" y="491.6" width="7.2" height="7.2"/>
<rect x="1193.8" y="479.7" width="7.2" height="7.2"/>
<rect x="1058.3" y="503.6" width="7.2" height="7.2"/>
<rect x="1045.5" y="504.8" width="7.2" height="7.2"/>
<rect x="1063.7" y="483.6" width="7.2" height="7.2"/>
<rect x="992.8" y="504.2" width="7.2" height="7.2"/>
<rect x="1050.0" y="496.8" width="7.2" height="7.2"/>
<rect x="1087.8" y="487.8" width="7.2" height="7.2"/>
<rect x="1066.6" y="487.6" width="7.2" height="7.2"/>
<rect x="962.3" y="603.6" width="7.2" height="7.2"/>
<rect x="1049.8" y="501.2" width="7.2" height="7.2"/>
<rect x="1059.9" y="456.6" width="7.2" height="7.2"/>
<rect x="951.8" y="600.1" width="7.2" height="7.2"/>
<rect x="967.3" y="516.1" width="7.2" height="7.2"/>
<rect x="1045.2" y="499.4" width="7.2" height="7.2"/>
<rect x="960.2" y="592.6" width="7.2" height="7.2"/>
<rect x="1075.2" y="462.3" width="7.2" height="7.2"/>
<rect x="978.7" y="491.3" width="7.2" height="7.2"/>
<rect x="1019.8" y="489.3" width="7.2" height="7.2"/>
<rect x="958.6" y="605.6" width="7.2" height="7.2"/>
<rect x="986.4" y="468.1" width="7.2" height="7.2"/>
<rect x="908.8" y="622.4" width="7.2" height="7.2"/>
<rect x="1085.1" y="500.9" width="7.2" height="7.2"/>
<rect x="1051.6" y="495.6" width="7.2" height="7.2"/>
<rect x="1119.4" y="486.2" width="7.2" height="7.2"/>
<rect x="1011.6" y="463.2" width="7.2" height="7.2"/>
<rect x="993.4" y="507.8" width="7.2" height="7.2"/>
<rect x="933.3" y="600.7" width="7.2" height="7.2"/>
<rect x="1128.4" y="454.4" width="7.2" height="7.2"/>
<rect x="974.7" y="485.0" width="7.2" height="7.2"/>
<rect x="1047.9" y="483.6" width="7.2" height="7.2"/>
<rect x="1220.1" y="452.0" width="7.2" height="7.2"/>
<rect x="1192.7" y="488.9" width="7.2" height="7.2"/>
<rect x="1070.5" y="516.5" width="7.2" height="7.2"/>
<rect x="1085.9" y="479.3" width="7.2" height="7.2"/>
<rect x="991.8" y="467.7" width="7.2" height="7.2"/>
</g>
<line x1="873.4" y1="600.2" x2="1222.3" y2="421.7" stroke="#727272" stroke-width="1.5"/>
</g>
<text x="34.2" y="681.6" text-anchor="end" fill="#000" stroke="#fff" stroke-width="0.7" transform="translate(32,0) scale(1.2,1) translate(-32,0)" style="font-family:'Liberation Serif',serif;font-size:39.5px">C</text>
<g>
<rect x="137.55" y="730.18" width="3.5" height="259.27" fill="#000"/>
<rect x="128.30" y="985.95" width="11.00" height="3.5" fill="#000"/>
<text x="125.30" y="994.30" text-anchor="end" style="font-family:'Liberation Serif',serif;font-weight:bold;font-size:18.7px">0</text>
<rect x="128.30" y="931.88" width="11.00" height="3.5" fill="#000"/>
<text x="125.30" y="940.23" text-anchor="end" style="font-family:'Liberation Serif',serif;font-weight:bold;font-size:18.7px">5</text>
<rect x="128.30" y="877.80" width="11.00" height="3.5" fill="#000"/>
<text x="125.30" y="886.15" text-anchor="end" style="font-family:'Liberation Serif',serif;font-weight:bold;font-size:18.7px">10</text>
<rect x="128.30" y="823.73" width="11.00" height="3.5" fill="#000"/>
<text x="125.30" y="832.08" text-anchor="end" style="font-family:'Liberation Serif',serif;font-weight:bold;font-size:18.7px">15</text>
<rect x="128.30" y="769.65" width="11.00" height="3.5" fill="#000"/>
<text x="125.30" y="778.00" text-anchor="end" style="font-family:'Liberation Serif',serif;font-weight:bold;font-size:18.7px">20</text>
<rect x="139.30" y="985.95" width="493.45" height="3.5" fill="#000"/>
<rect x="137.55" y="987.70" width="3.5" height="11.30" fill="#000"/>
<text x="139.30" y="1018.90" text-anchor="middle" style="font-family:'Liberation Serif',serif;font-weight:bold;font-size:18.7px">0</text>
<rect x="260.48" y="987.70" width="3.5" height="11.30" fill="#000"/>
<text x="262.23" y="1018.90" text-anchor="middle" style="font-family:'Liberation Serif',serif;font-weight:bold;font-size:18.7px">1</text>
<rect x="383.40" y="987.70" width="3.5" height="11.30" fill="#000"/>
<text x="385.15" y="1018.90" text-anchor="middle" style="font-family:'Liberation Serif',serif;font-weight:bold;font-size:18.7px">2</text>
<rect x="506.32" y="987.70" width="3.5" height="11.30" fill="#000"/>
<text x="508.07" y="1018.90" text-anchor="middle" style="font-family:'Liberation Serif',serif;font-weight:bold;font-size:18.7px">3</text>
<rect x="629.25" y="987.70" width="3.5" height="11.30" fill="#000"/>
<text x="631.00" y="1018.90" text-anchor="middle" style="font-family:'Liberation Serif',serif;font-weight:bold;font-size:18.7px">4</text>
<text x="385.15" y="1052.00" text-anchor="middle" style="font-family:'Liberation Serif',serif;font-weight:bold;font-size:20.7px">S100A12_mRNA</text>
<text transform="translate(94.30,859.81) rotate(-90)" text-anchor="middle" style="font-family:'Liberation Serif',serif;font-weight:bold;font-size:21px">CRP mg/L</text>
<g fill="#8e2a8e" fill-opacity="0.6">
<path d="M371.7 807.8L375.4 815.2L368.0 815.2Z"/>
<path d="M294.7 825.0L298.4 832.4L291.0 832.4Z"/>
<path d="M239.3 836.1L243.0 843.5L235.6 843.5Z"/>
<path d="M364.6 835.1L368.3 842.5L360.9 842.5Z"/>
<path d="M360.6 845.1L364.3 852.5L356.9 852.5Z"/>
<path d="M374.3 850.2L378.0 857.6L370.6 857.6Z"/>
<path d="M378.8 848.2L382.5 855.6L375.1 855.6Z"/>
<path d="M387.8 846.8L391.5 854.2L384.1 854.2Z"/>
<path d="M392.9 849.2L396.6 856.6L389.2 856.6Z"/>
<path d="M401.5 847.1L405.2 854.6L397.8 854.6Z"/>
<path d="M402.9 849.2L406.6 856.6L399.2 856.6Z"/>
<path d="M405.0 853.2L408.7 860.6L401.3 860.6Z"/>
<path d="M345.1 855.2L348.8 862.6L341.4 862.6Z"/>
<path d="M348.5 855.2L352.2 862.6L344.8 862.6Z"/>
<path d="M340.1 860.2L343.8 867.7L336.4 867.7Z"/>
<path d="M349.1 862.3L352.8 869.7L345.4 869.7Z"/>
<path d="M362.2 862.3L365.9 869.7L358.5 869.7Z"/>
<path d="M377.8 858.2L381.4 865.6L374.1 865.6Z"/>
<path d="M384.8 858.2L388.5 865.6L381.1 865.6Z"/>
<path d="M390.9 858.2L394.6 865.6L387.2 865.6Z"/>
<path d="M397.9 858.2L401.6 865.6L394.2 865.6Z"/>
<path d="M277.0 868.3L280.7 875.7L273.3 875.7Z"/>
<path d="M329.0 864.3L332.7 871.7L325.3 871.7Z"/>
<path d="M325.4 870.9L329.1 878.3L321.7 878.3Z"/>
<path d="M332.4 869.3L336.1 876.7L328.7 876.7Z"/>
<path d="M380.8 875.0L384.5 882.4L377.1 882.4Z"/>
<path d="M390.4 872.3L394.1 879.8L386.8 879.8Z"/>
<path d="M393.3 877.4L397.0 884.8L389.6 884.8Z"/>
<path d="M402.5 878.4L406.2 885.8L398.8 885.8Z"/>
<path d="M235.7 880.4L239.4 887.8L232.0 887.8Z"/>
<path d="M286.1 880.4L289.8 887.8L282.4 887.8Z"/>
<path d="M314.9 881.8L318.6 889.2L311.2 889.2Z"/>
<path d="M338.9 883.0L342.6 890.4L335.2 890.4Z"/>
<path d="M346.5 885.0L350.2 892.4L342.8 892.4Z"/>
<path d="M303.6 887.1L307.3 894.5L299.9 894.5Z"/>
<path d="M311.6 886.0L315.3 893.5L307.9 893.5Z"/>
<path d="M354.6 889.5L358.3 896.9L350.9 896.9Z"/>
<path d="M357.6 889.5L361.3 896.9L353.9 896.9Z"/>
<path d="M365.7 889.5L369.4 896.9L362.0 896.9Z"/>
<path d="M371.7 887.5L375.4 894.9L368.0 894.9Z"/>
<path d="M370.7 891.9L374.4 899.3L367.0 899.3Z"/>
<path d="M262.5 896.5L266.2 903.9L258.8 903.9Z"/>
<path d="M283.4 900.6L287.1 908.0L279.7 908.0Z"/>
<path d="M298.7 900.6L302.4 908.0L295.0 908.0Z"/>
<path d="M300.8 899.1L304.5 906.6L297.1 906.6Z"/>
<path d="M310.6 900.6L314.3 908.0L306.9 908.0Z"/>
<path d="M293.5 904.6L297.2 912.0L289.8 912.0Z"/>
<path d="M283.4 906.6L287.1 914.0L279.7 914.0Z"/>
<path d="M300.2 909.6L303.9 917.0L296.5 917.0Z"/>
<path d="M309.2 907.6L312.9 915.0L305.5 915.0Z"/>
<path d="M322.9 892.1L326.6 899.5L319.2 899.5Z"/>
<path d="M339.5 893.5L343.2 900.9L335.8 900.9Z"/>
<path d="M343.1 899.6L346.8 907.0L339.4 907.0Z"/>
<path d="M344.5 901.6L348.2 909.0L340.8 909.0Z"/>
<path d="M348.5 907.2L352.2 914.6L344.8 914.6Z"/>
<path d="M355.6 901.2L359.3 908.6L351.9 908.6Z"/>
<path d="M357.6 901.6L361.3 909.0L353.9 909.0Z"/>
<path d="M366.7 901.6L370.4 909.0L363.0 909.0Z"/>
<path d="M369.3 906.6L373.0 914.0L365.6 914.0Z"/>
<path d="M380.8 893.5L384.5 900.9L377.1 900.9Z"/>
<path d="M385.8 898.5L389.5 906.0L382.1 906.0Z"/>
<path d="M389.8 897.5L393.5 904.9L386.1 904.9Z"/>
<path d="M392.9 897.5L396.6 904.9L389.2 904.9Z"/>
<path d="M384.8 909.6L388.5 917.0L381.1 917.0Z"/>
<path d="M389.8 909.6L393.5 917.0L386.1 917.0Z"/>
<path d="M181.2 930.4L184.9 937.8L177.5 937.8Z"/>
<path d="M200.0 917.7L203.7 925.1L196.3 925.1Z"/>
<path d="M223.0 923.7L226.7 931.1L219.3 931.1Z"/>
<path d="M239.3 917.7L243.0 925.1L235.6 925.1Z"/>
<path d="M245.7 921.3L249.4 928.7L242.0 928.7Z"/>
<path d="M234.2 929.4L237.9 936.8L230.6 936.8Z"/>
<path d="M261.3 927.8L265.0 935.2L257.6 935.2Z"/>
<path d="M276.6 928.8L280.3 936.2L272.9 936.2Z"/>
<path d="M280.6 910.6L284.3 918.0L276.9 918.0Z"/>
<path d="M283.6 920.7L287.3 928.1L279.9 928.1Z"/>
<path d="M288.1 921.7L291.8 929.1L284.4 929.1Z"/>
<path d="M289.7 928.8L293.4 936.2L286.0 936.2Z"/>
<path d="M296.1 929.8L299.8 937.2L292.4 937.2Z"/>
<path d="M300.2 922.7L303.9 930.1L296.5 930.1Z"/>
<path d="M309.2 917.7L312.9 925.1L305.5 925.1Z"/>
<path d="M306.8 929.8L310.5 937.2L303.1 937.2Z"/>
<path d="M323.7 908.6L327.4 916.0L320.0 916.0Z"/>
<path d="M331.4 916.7L335.1 924.1L327.7 924.1Z"/>
<path d="M340.5 911.6L344.2 919.1L336.8 919.1Z"/>
<path d="M337.8 922.7L341.5 930.1L334.1 930.1Z"/>
<path d="M338.4 925.8L342.1 933.2L334.8 933.2Z"/>
<path d="M347.5 918.7L351.2 926.1L343.8 926.1Z"/>
<path d="M359.6 912.7L363.3 920.1L355.9 920.1Z"/>
<path d="M378.8 915.7L382.5 923.1L375.1 923.1Z"/>
<path d="M379.8 917.7L383.5 925.1L376.1 925.1Z"/>
<path d="M392.9 913.7L396.6 921.1L389.2 921.1Z"/>
<path d="M397.9 915.7L401.6 923.1L394.2 923.1Z"/>
<path d="M392.9 923.7L396.6 931.1L389.2 931.1Z"/>
<path d="M379.8 925.8L383.5 933.2L376.1 933.2Z"/>
<path d="M402.9 930.8L406.6 938.2L399.2 938.2Z"/>
<path d="M394.9 934.8L398.6 942.2L391.2 942.2Z"/>
<path d="M395.9 936.8L399.6 944.2L392.2 944.2Z"/>
<path d="M207.4 938.9L211.1 946.3L203.7 946.3Z"/>
<path d="M212.5 936.8L216.2 944.2L208.8 944.2Z"/>
<path d="M241.7 937.8L245.4 945.2L238.0 945.2Z"/>
<path d="M257.8 935.8L261.5 943.2L254.1 943.2Z"/>
<path d="M268.9 936.8L272.6 944.2L265.2 944.2Z"/>
<path d="M248.8 942.9L252.5 950.3L245.1 950.3Z"/>
<path d="M263.9 942.9L267.6 950.3L260.2 950.3Z"/>
<path d="M252.8 950.9L256.5 958.4L249.1 958.4Z"/>
<path d="M246.7 952.0L250.4 959.4L243.0 959.4Z"/>
<path d="M282.0 940.9L285.7 948.3L278.3 948.3Z"/>
<path d="M292.1 939.9L295.8 947.3L288.4 947.3Z"/>
<path d="M293.5 946.9L297.2 954.3L289.8 954.3Z"/>
<path d="M302.8 938.9L306.5 946.3L299.1 946.3Z"/>
<path d="M307.2 945.9L310.9 953.3L303.5 953.3Z"/>
<path d="M275.0 947.9L278.7 955.3L271.3 955.3Z"/>
<path d="M278.0 953.0L281.7 960.4L274.3 960.4Z"/>
<path d="M280.0 954.0L283.7 961.4L276.3 961.4Z"/>
<path d="M267.9 954.0L271.6 961.4L264.2 961.4Z"/>
<path d="M270.9 959.0L274.6 966.4L267.2 966.4Z"/>
<path d="M268.9 964.0L272.6 971.5L265.2 971.5Z"/>
<path d="M323.3 946.9L327.0 954.3L319.6 954.3Z"/>
<path d="M334.0 937.8L337.7 945.2L330.3 945.2Z"/>
<path d="M334.0 947.9L337.7 955.3L330.3 955.3Z"/>
<path d="M344.5 936.8L348.2 944.2L340.8 944.2Z"/>
<path d="M345.9 937.8L349.6 945.2L342.2 945.2Z"/>
<path d="M365.7 931.8L369.4 939.2L362.0 939.2Z"/>
<path d="M369.7 931.8L373.4 939.2L366.0 939.2Z"/>
<path d="M372.7 934.8L376.4 942.2L369.0 942.2Z"/>
<path d="M363.6 950.9L367.3 958.4L359.9 958.4Z"/>
<path d="M365.7 959.0L369.4 966.4L362.0 966.4Z"/>
<path d="M375.7 955.0L379.4 962.4L372.0 962.4Z"/>
<path d="M386.8 946.9L390.5 954.3L383.1 954.3Z"/>
<path d="M393.9 956.0L397.6 963.4L390.2 963.4Z"/>
<path d="M184.3 957.6L188.0 965.0L180.6 965.0Z"/>
<path d="M186.3 968.1L190.0 975.5L182.6 975.5Z"/>
<path d="M224.2 955.0L227.9 962.4L220.5 962.4Z"/>
<path d="M228.6 955.0L232.3 962.4L224.9 962.4Z"/>
<path d="M303.2 953.0L306.9 960.4L299.5 960.4Z"/>
<path d="M308.2 956.0L311.9 963.4L304.5 963.4Z"/>
<path d="M320.3 960.0L324.0 967.4L316.6 967.4Z"/>
<path d="M321.3 963.0L325.0 970.4L317.6 970.4Z"/>
<path d="M327.4 968.1L331.1 975.5L323.7 975.5Z"/>
<path d="M342.9 954.0L346.6 961.4L339.2 961.4Z"/>
<path d="M360.6 964.0L364.3 971.5L356.9 971.5Z"/>
<path d="M239.3 965.1L243.0 972.5L235.6 972.5Z"/>
<path d="M232.2 971.1L235.9 978.5L228.5 978.5Z"/>
<path d="M229.6 975.7L233.3 983.1L225.9 983.1Z"/>
<path d="M254.8 971.1L258.5 978.5L251.1 978.5Z"/>
<path d="M258.8 967.1L262.5 974.5L255.1 974.5Z"/>
<path d="M260.4 966.1L264.1 973.5L256.8 973.5Z"/>
<path d="M261.9 970.1L265.6 977.5L258.2 977.5Z"/>
<path d="M244.7 976.1L248.4 983.5L241.0 983.5Z"/>
<path d="M249.8 975.1L253.5 982.5L246.1 982.5Z"/>
<path d="M251.8 980.6L255.5 988.0L248.1 988.0Z"/>
<path d="M266.5 976.1L270.2 983.5L262.8 983.5Z"/>
<path d="M262.9 981.2L266.6 988.6L259.2 988.6Z"/>
<path d="M279.0 977.1L282.7 984.6L275.3 984.6Z"/>
<path d="M283.4 973.1L287.1 980.5L279.7 980.5Z"/>
<path d="M287.1 977.1L290.8 984.6L283.4 984.6Z"/>
<path d="M291.1 983.2L294.8 990.6L287.4 990.6Z"/>
<path d="M301.2 975.1L304.9 982.5L297.5 982.5Z"/>
<path d="M305.2 976.1L308.9 983.5L301.5 983.5Z"/>
<path d="M326.4 974.1L330.1 981.5L322.7 981.5Z"/>
<path d="M333.4 975.1L337.1 982.5L329.7 982.5Z"/>
<path d="M353.6 976.1L357.3 983.5L349.9 983.5Z"/>
<path d="M202.8 981.2L206.5 988.6L199.1 988.6Z"/>
<path d="M458.1 768.5L461.8 776.0L454.4 776.0Z"/>
<path d="M455.4 802.8L459.1 810.2L451.7 810.2Z"/>
<path d="M475.6 803.8L479.3 811.2L471.9 811.2Z"/>
<path d="M464.5 812.9L468.2 820.3L460.8 820.3Z"/>
<path d="M451.0 822.0L454.7 829.4L447.3 829.4Z"/>
<path d="M519.9 817.5L523.6 824.9L516.2 824.9Z"/>
<path d="M534.6 816.9L538.3 824.3L530.9 824.3Z"/>
<path d="M471.6 830.6L475.2 838.0L467.9 838.0Z"/>
<path d="M492.7 831.6L496.4 839.0L489.0 839.0Z"/>
<path d="M503.4 830.6L507.1 838.0L499.7 838.0Z"/>
<path d="M548.7 835.1L552.4 842.5L545.0 842.5Z"/>
<path d="M421.6 833.0L425.3 840.4L417.9 840.4Z"/>
<path d="M415.1 841.1L418.8 848.5L411.4 848.5Z"/>
<path d="M444.3 842.7L448.0 850.1L440.6 850.1Z"/>
<path d="M443.3 850.6L447.0 858.0L439.6 858.0Z"/>
<path d="M479.0 838.1L482.7 845.5L475.3 845.5Z"/>
<path d="M484.1 846.1L487.8 853.5L480.4 853.5Z"/>
<path d="M512.3 852.2L516.0 859.6L508.6 859.6Z"/>
<path d="M412.5 860.2L416.2 867.7L408.8 867.7Z"/>
<path d="M420.2 858.2L423.9 865.6L416.5 865.6Z"/>
<path d="M421.2 859.6L424.9 867.1L417.5 867.1Z"/>
<path d="M420.2 863.7L423.9 871.1L416.5 871.1Z"/>
<path d="M435.3 860.2L439.0 867.7L431.6 867.7Z"/>
<path d="M451.4 861.3L455.1 868.7L447.7 868.7Z"/>
<path d="M453.4 860.2L457.1 867.7L449.7 867.7Z"/>
<path d="M444.7 865.9L448.4 873.3L441.0 873.3Z"/>
<path d="M448.4 873.3L452.1 880.8L444.7 880.8Z"/>
<path d="M482.6 858.2L486.3 865.6L478.9 865.6Z"/>
<path d="M491.3 856.8L495.0 864.2L487.6 864.2Z"/>
<path d="M497.4 862.3L501.1 869.7L493.7 869.7Z"/>
<path d="M477.6 863.3L481.3 870.7L473.9 870.7Z"/>
<path d="M480.6 867.3L484.3 874.7L476.9 874.7Z"/>
<path d="M485.7 872.3L489.4 879.8L482.0 879.8Z"/>
<path d="M474.6 875.0L478.3 882.4L470.9 882.4Z"/>
<path d="M479.6 874.4L483.3 881.8L475.9 881.8Z"/>
<path d="M508.8 870.9L512.5 878.3L505.1 878.3Z"/>
<path d="M526.0 875.0L529.7 882.4L522.3 882.4Z"/>
<path d="M541.1 871.7L544.8 879.1L537.4 879.1Z"/>
<path d="M542.1 874.4L545.8 881.8L538.4 881.8Z"/>
<path d="M537.0 882.8L540.8 890.2L533.3 890.2Z"/>
<path d="M544.5 891.5L548.2 898.9L540.8 898.9Z"/>
<path d="M576.4 890.5L580.1 897.9L572.7 897.9Z"/>
<path d="M571.3 901.6L575.0 909.0L567.6 909.0Z"/>
<path d="M410.5 873.3L414.2 880.8L406.8 880.8Z"/>
<path d="M418.1 877.4L421.8 884.8L414.4 884.8Z"/>
<path d="M422.2 881.4L425.9 888.8L418.5 888.8Z"/>
<path d="M421.2 885.4L424.9 892.9L417.5 892.9Z"/>
<path d="M424.2 886.5L427.9 893.9L420.5 893.9Z"/>
<path d="M429.2 889.5L432.9 896.9L425.5 896.9Z"/>
<path d="M435.3 883.8L439.0 891.2L431.6 891.2Z"/>
<path d="M443.3 884.0L447.0 891.4L439.6 891.4Z"/>
<path d="M417.1 894.5L420.8 901.9L413.4 901.9Z"/>
<path d="M409.1 901.6L412.8 909.0L405.4 909.0Z"/>
<path d="M409.1 904.6L412.8 912.0L405.4 912.0Z"/>
<path d="M447.4 893.9L451.1 901.3L443.7 901.3Z"/>
<path d="M444.3 899.6L448.0 907.0L440.6 907.0Z"/>
<path d="M443.3 901.6L447.0 909.0L439.6 909.0Z"/>
<path d="M458.4 890.5L462.1 897.9L454.8 897.9Z"/>
<path d="M458.4 895.5L462.1 902.9L454.8 902.9Z"/>
<path d="M460.5 893.5L464.2 900.9L456.8 900.9Z"/>
<path d="M464.5 881.0L468.2 888.4L460.8 888.4Z"/>
<path d="M468.5 879.4L472.2 886.8L464.8 886.8Z"/>
<path d="M466.5 888.5L470.2 895.9L462.8 895.9Z"/>
<path d="M469.5 890.5L473.2 897.9L465.8 897.9Z"/>
<path d="M465.5 889.5L469.2 896.9L461.8 896.9Z"/>
<path d="M488.1 889.5L491.8 896.9L484.4 896.9Z"/>
<path d="M487.7 895.5L491.4 902.9L484.0 902.9Z"/>
<path d="M494.1 900.0L497.8 907.4L490.4 907.4Z"/>
<path d="M515.9 887.5L519.6 894.9L512.2 894.9Z"/>
<path d="M514.9 893.5L518.6 900.9L511.2 900.9Z"/>
<path d="M512.9 898.5L516.6 906.0L509.2 906.0Z"/>
<path d="M509.8 898.5L513.5 906.0L506.1 906.0Z"/>
<path d="M520.9 898.5L524.6 906.0L517.2 906.0Z"/>
<path d="M484.1 906.6L487.8 914.0L480.4 914.0Z"/>
<path d="M492.7 914.1L496.4 921.5L489.0 921.5Z"/>
<path d="M481.6 918.7L485.3 926.1L477.9 926.1Z"/>
<path d="M483.6 919.7L487.3 927.1L479.9 927.1Z"/>
<path d="M500.2 923.7L503.9 931.1L496.5 931.1Z"/>
<path d="M488.7 929.8L492.4 937.2L485.0 937.2Z"/>
<path d="M493.7 932.8L497.4 940.2L490.0 940.2Z"/>
<path d="M511.9 925.8L515.6 933.2L508.2 933.2Z"/>
<path d="M512.9 924.8L516.6 932.2L509.2 932.2Z"/>
<path d="M544.1 907.6L547.8 915.0L540.4 915.0Z"/>
<path d="M549.1 916.3L552.9 923.7L545.4 923.7Z"/>
<path d="M413.1 911.6L416.8 919.1L409.4 919.1Z"/>
<path d="M412.1 917.7L415.8 925.1L408.4 925.1Z"/>
<path d="M419.1 915.7L422.8 923.1L415.4 923.1Z"/>
<path d="M424.2 918.7L427.9 926.1L420.5 926.1Z"/>
<path d="M433.7 922.7L437.4 930.1L430.0 930.1Z"/>
<path d="M427.2 928.8L430.9 936.2L423.5 936.2Z"/>
<path d="M444.7 914.1L448.4 921.5L441.0 921.5Z"/>
<path d="M462.5 920.7L466.2 928.1L458.8 928.1Z"/>
<path d="M460.5 925.8L464.2 933.2L456.8 933.2Z"/>
<path d="M464.5 925.8L468.2 933.2L460.8 933.2Z"/>
<path d="M467.9 936.8L471.6 944.2L464.2 944.2Z"/>
<path d="M469.1 947.9L472.8 955.3L465.4 955.3Z"/>
<path d="M423.8 941.3L427.5 948.7L420.1 948.7Z"/>
<path d="M415.1 961.0L418.8 968.4L411.4 968.4Z"/>
<path d="M425.2 959.6L428.9 967.0L421.5 967.0Z"/>
<path d="M486.3 962.6L490.0 970.0L482.6 970.0Z"/>
<path d="M498.8 975.1L502.5 982.5L495.1 982.5Z"/>
<path d="M324.6 971.1L328.3 978.5L320.9 978.5Z"/>
<path d="M326.4 970.7L330.1 978.1L322.7 978.1Z"/>
<path d="M398.6 855.8L402.3 863.2L394.9 863.2Z"/>
<path d="M378.3 898.7L382.0 906.1L374.6 906.1Z"/>
<path d="M509.0 895.6L512.7 903.0L505.3 903.0Z"/>
<path d="M311.1 888.4L314.8 895.8L307.4 895.8Z"/>
<path d="M226.9 954.9L230.6 962.3L223.2 962.3Z"/>
<path d="M343.4 889.8L347.1 897.2L339.7 897.2Z"/>
</g>
<line x1="182.3" y1="955.3" x2="575.7" y2="861.2" stroke="#727272" stroke-width="1.5"/>
</g>
<g>
<rect x="778.25" y="730.18" width="3.5" height="259.27" fill="#000"/>
<rect x="769.00" y="985.95" width="11.00" height="3.5" fill="#000"/>
<text x="766.00" y="994.30" text-anchor="end" style="font-family:'Liberation Serif',serif;font-weight:bold;font-size:18.7px">0</text>
<rect x="769.00" y="931.88" width="11.00" height="3.5" fill="#000"/>
<text x="766.00" y="940.23" text-anchor="end" style="font-family:'Liberation Serif',serif;font-weight:bold;font-size:18.7px">5</text>
<rect x="769.00" y="877.80" width="11.00" height="3.5" fill="#000"/>
<text x="766.00" y="886.15" text-anchor="end" style="font-family:'Liberation Serif',serif;font-weight:bold;font-size:18.7px">10</text>
<rect x="769.00" y="823.73" width="11.00" height="3.5" fill="#000"/>
<text x="766.00" y="832.08" text-anchor="end" style="font-family:'Liberation Serif',serif;font-weight:bold;font-size:18.7px">15</text>
<rect x="769.00" y="769.65" width="11.00" height="3.5" fill="#000"/>
<text x="766.00" y="778.00" text-anchor="end" style="font-family:'Liberation Serif',serif;font-weight:bold;font-size:18.7px">20</text>
<rect x="780.00" y="985.95" width="493.25" height="3.5" fill="#000"/>
<rect x="778.25" y="987.70" width="3.5" height="11.30" fill="#000"/>
<text x="780.00" y="1018.90" text-anchor="middle" style="font-family:'Liberation Serif',serif;font-weight:bold;font-size:18.7px">0</text>
<rect x="942.08" y="987.70" width="3.5" height="11.30" fill="#000"/>
<text x="943.83" y="1018.90" text-anchor="middle" style="font-family:'Liberation Serif',serif;font-weight:bold;font-size:18.7px">10</text>
<rect x="1105.92" y="987.70" width="3.5" height="11.30" fill="#000"/>
<text x="1107.67" y="1018.90" text-anchor="middle" style="font-family:'Liberation Serif',serif;font-weight:bold;font-size:18.7px">20</text>
<rect x="1269.75" y="987.70" width="3.5" height="11.30" fill="#000"/>
<text x="1271.50" y="1018.90" text-anchor="middle" style="font-family:'Liberation Serif',serif;font-weight:bold;font-size:18.7px">30</text>
<rect x="794.63" y="987.70" width="3.5" height="6.00" fill="#000"/>
<rect x="811.02" y="987.70" width="3.5" height="6.00" fill="#000"/>
<rect x="827.40" y="987.70" width="3.5" height="6.00" fill="#000"/>
<rect x="843.78" y="987.70" width="3.5" height="6.00" fill="#000"/>
<rect x="860.17" y="987.70" width="3.5" height="6.00" fill="#000"/>
<rect x="876.55" y="987.70" width="3.5" height="6.00" fill="#000"/>
<rect x="892.93" y="987.70" width="3.5" height="6.00" fill="#000"/>
<rect x="909.32" y="987.70" width="3.5" height="6.00" fill="#000"/>
<rect x="925.70" y="987.70" width="3.5" height="6.00" fill="#000"/>
<rect x="958.47" y="987.70" width="3.5" height="6.00" fill="#000"/>
<rect x="974.85" y="987.70" width="3.5" height="6.00" fill="#000"/>
<rect x="991.23" y="987.70" width="3.5" height="6.00" fill="#000"/>
<rect x="1007.62" y="987.70" width="3.5" height="6.00" fill="#000"/>
<rect x="1024.00" y="987.70" width="3.5" height="6.00" fill="#000"/>
<rect x="1040.38" y="987.70" width="3.5" height="6.00" fill="#000"/>
<rect x="1056.77" y="987.70" width="3.5" height="6.00" fill="#000"/>
<rect x="1073.15" y="987.70" width="3.5" height="6.00" fill="#000"/>
<rect x="1089.53" y="987.70" width="3.5" height="6.00" fill="#000"/>
<rect x="1122.30" y="987.70" width="3.5" height="6.00" fill="#000"/>
<rect x="1138.68" y="987.70" width="3.5" height="6.00" fill="#000"/>
<rect x="1155.07" y="987.70" width="3.5" height="6.00" fill="#000"/>
<rect x="1171.45" y="987.70" width="3.5" height="6.00" fill="#000"/>
<rect x="1187.83" y="987.70" width="3.5" height="6.00" fill="#000"/>
<rect x="1204.22" y="987.70" width="3.5" height="6.00" fill="#000"/>
<rect x="1220.60" y="987.70" width="3.5" height="6.00" fill="#000"/>
<rect x="1236.98" y="987.70" width="3.5" height="6.00" fill="#000"/>
<rect x="1253.37" y="987.70" width="3.5" height="6.00" fill="#000"/>
<text x="1025.75" y="1052.00" text-anchor="middle" style="font-family:'Liberation Serif',serif;font-weight:bold;font-size:20.7px">S100A12_Protein</text>
<text transform="translate(735.00,859.81) rotate(-90)" text-anchor="middle" style="font-family:'Liberation Serif',serif;font-weight:bold;font-size:21px">CRP mg/L</text>
<g fill="#8e2a8e" fill-opacity="0.6">
<path d="M1104.4 813.9L1108.1 821.3L1100.7 821.3Z"/>
<path d="M1045.5 825.0L1049.2 832.4L1041.8 832.4Z"/>
<path d="M1052.2 833.0L1055.9 840.4L1048.5 840.4Z"/>
<path d="M1075.3 831.6L1079.0 839.0L1071.6 839.0Z"/>
<path d="M1099.5 830.6L1103.2 838.0L1095.8 838.0Z"/>
<path d="M1060.6 841.1L1064.3 848.5L1056.9 848.5Z"/>
<path d="M1066.7 842.1L1070.4 849.5L1063.0 849.5Z"/>
<path d="M1059.6 846.8L1063.3 854.2L1055.9 854.2Z"/>
<path d="M1086.2 845.1L1089.9 852.5L1082.5 852.5Z"/>
<path d="M1092.9 850.2L1096.6 857.6L1089.2 857.6Z"/>
<path d="M1105.0 852.2L1108.7 859.6L1101.3 859.6Z"/>
<path d="M1018.3 846.1L1022.0 853.5L1014.6 853.5Z"/>
<path d="M1020.3 847.1L1024.0 854.6L1016.6 854.6Z"/>
<path d="M1027.4 850.2L1031.1 857.6L1023.7 857.6Z"/>
<path d="M1023.7 855.2L1027.4 862.6L1020.0 862.6Z"/>
<path d="M976.4 849.2L980.1 856.6L972.7 856.6Z"/>
<path d="M986.5 849.2L990.2 856.6L982.8 856.6Z"/>
<path d="M1034.4 858.8L1038.1 866.2L1030.7 866.2Z"/>
<path d="M1044.5 850.2L1048.2 857.6L1040.8 857.6Z"/>
<path d="M1048.5 858.2L1052.2 865.6L1044.8 865.6Z"/>
<path d="M1060.6 858.6L1064.3 866.0L1056.9 866.0Z"/>
<path d="M1071.3 860.2L1075.0 867.7L1067.6 867.7Z"/>
<path d="M1078.8 855.2L1082.5 862.6L1075.1 862.6Z"/>
<path d="M1079.8 862.3L1083.5 869.7L1076.1 869.7Z"/>
<path d="M1085.8 858.2L1089.5 865.6L1082.1 865.6Z"/>
<path d="M1098.3 860.2L1102.0 867.7L1094.6 867.7Z"/>
<path d="M1105.0 859.6L1108.7 867.1L1101.3 867.1Z"/>
<path d="M1016.9 862.3L1020.6 869.7L1013.2 869.7Z"/>
<path d="M995.1 863.3L998.8 870.7L991.4 870.7Z"/>
<path d="M998.1 864.3L1001.8 871.7L994.4 871.7Z"/>
<path d="M1023.3 869.3L1027.0 876.7L1019.6 876.7Z"/>
<path d="M1026.4 870.3L1030.1 877.7L1022.7 877.7Z"/>
<path d="M1029.4 873.3L1033.1 880.8L1025.7 880.8Z"/>
<path d="M1046.5 867.3L1050.2 874.7L1042.8 874.7Z"/>
<path d="M1055.6 872.3L1059.3 879.8L1051.9 879.8Z"/>
<path d="M1058.6 874.0L1062.3 881.4L1054.9 881.4Z"/>
<path d="M1061.6 875.4L1065.3 882.8L1057.9 882.8Z"/>
<path d="M1079.8 865.3L1083.5 872.7L1076.1 872.7Z"/>
<path d="M1089.8 868.3L1093.5 875.7L1086.1 875.7Z"/>
<path d="M1093.9 871.3L1097.6 878.7L1090.2 878.7Z"/>
<path d="M990.1 875.0L993.8 882.4L986.4 882.4Z"/>
<path d="M980.0 887.1L983.7 894.5L976.3 894.5Z"/>
<path d="M1007.2 887.1L1010.9 894.5L1003.5 894.5Z"/>
<path d="M1013.3 887.1L1017.0 894.5L1009.6 894.5Z"/>
<path d="M1019.3 882.4L1023.0 889.8L1015.6 889.8Z"/>
<path d="M1021.3 887.9L1025.0 895.3L1017.6 895.3Z"/>
<path d="M1037.4 886.5L1041.1 893.9L1033.7 893.9Z"/>
<path d="M1040.5 880.4L1044.2 887.8L1036.8 887.8Z"/>
<path d="M1042.5 884.4L1046.2 891.8L1038.8 891.8Z"/>
<path d="M1043.5 889.5L1047.2 896.9L1039.8 896.9Z"/>
<path d="M1048.5 879.4L1052.2 886.8L1044.8 886.8Z"/>
<path d="M1049.5 885.4L1053.2 892.9L1045.8 892.9Z"/>
<path d="M1052.6 886.5L1056.3 893.9L1048.9 893.9Z"/>
<path d="M1058.6 883.4L1062.3 890.8L1054.9 890.8Z"/>
<path d="M1060.6 889.5L1064.3 896.9L1056.9 896.9Z"/>
<path d="M1075.7 880.4L1079.4 887.8L1072.0 887.8Z"/>
<path d="M1083.8 880.4L1087.5 887.8L1080.1 887.8Z"/>
<path d="M1079.8 886.5L1083.5 893.9L1076.1 893.9Z"/>
<path d="M1099.9 877.4L1103.6 884.8L1096.2 884.8Z"/>
<path d="M1099.9 884.4L1103.6 891.8L1096.2 891.8Z"/>
<path d="M905.4 889.5L909.1 896.9L901.7 896.9Z"/>
<path d="M928.2 900.2L931.9 907.6L924.5 907.6Z"/>
<path d="M950.2 900.2L953.9 907.6L946.5 907.6Z"/>
<path d="M962.5 901.2L966.2 908.6L958.8 908.6Z"/>
<path d="M972.5 896.9L976.2 904.3L968.8 904.3Z"/>
<path d="M974.0 904.6L977.7 912.0L970.2 912.0Z"/>
<path d="M984.0 903.6L987.7 911.0L980.3 911.0Z"/>
<path d="M988.1 905.6L991.8 913.0L984.4 913.0Z"/>
<path d="M992.1 893.5L995.8 900.9L988.4 900.9Z"/>
<path d="M998.1 903.6L1001.8 911.0L994.4 911.0Z"/>
<path d="M1005.2 898.5L1008.9 906.0L1001.5 906.0Z"/>
<path d="M1005.2 906.6L1008.9 914.0L1001.5 914.0Z"/>
<path d="M995.1 908.6L998.8 916.0L991.4 916.0Z"/>
<path d="M1020.3 897.5L1024.0 904.9L1016.6 904.9Z"/>
<path d="M1025.3 898.5L1029.0 906.0L1021.6 906.0Z"/>
<path d="M1012.2 906.6L1016.0 914.0L1008.5 914.0Z"/>
<path d="M1018.3 908.6L1022.0 916.0L1014.6 916.0Z"/>
<path d="M1021.3 911.6L1025.0 919.1L1017.6 919.1Z"/>
<path d="M1034.4 901.6L1038.1 909.0L1030.7 909.0Z"/>
<path d="M1035.4 900.6L1039.1 908.0L1031.7 908.0Z"/>
<path d="M1043.5 898.5L1047.2 906.0L1039.8 906.0Z"/>
<path d="M1045.5 899.6L1049.2 907.0L1041.8 907.0Z"/>
<path d="M1065.7 892.5L1069.4 899.9L1062.0 899.9Z"/>
<path d="M1066.7 897.5L1070.4 904.9L1063.0 904.9Z"/>
<path d="M1071.7 896.5L1075.4 903.9L1068.0 903.9Z"/>
<path d="M1089.8 890.5L1093.5 897.9L1086.1 897.9Z"/>
<path d="M1083.8 901.6L1087.5 909.0L1080.1 909.0Z"/>
<path d="M1087.8 900.6L1091.5 908.0L1084.1 908.0Z"/>
<path d="M1090.8 898.5L1094.5 906.0L1087.1 906.0Z"/>
<path d="M1094.9 897.5L1098.6 904.9L1091.2 904.9Z"/>
<path d="M1096.9 899.6L1100.6 907.0L1093.2 907.0Z"/>
<path d="M1097.9 906.6L1101.6 914.0L1094.2 914.0Z"/>
<path d="M1106.0 892.5L1109.7 899.9L1102.3 899.9Z"/>
<path d="M871.8 917.7L875.5 925.1L868.1 925.1Z"/>
<path d="M889.9 929.4L893.6 936.8L886.2 936.8Z"/>
<path d="M926.2 927.8L929.9 935.2L922.5 935.2Z"/>
<path d="M930.2 926.8L933.9 934.2L926.5 934.2Z"/>
<path d="M938.7 921.3L942.4 928.7L935.0 928.7Z"/>
<path d="M943.7 915.7L947.4 923.1L940.0 923.1Z"/>
<path d="M951.8 923.3L955.5 930.7L948.1 930.7Z"/>
<path d="M961.9 924.8L965.6 932.2L958.2 932.2Z"/>
<path d="M965.9 924.8L969.6 932.2L962.2 932.2Z"/>
<path d="M975.0 917.3L978.7 924.7L971.3 924.7Z"/>
<path d="M976.6 918.7L980.3 926.1L972.9 926.1Z"/>
<path d="M979.0 917.7L982.7 925.1L975.3 925.1Z"/>
<path d="M989.1 915.7L992.8 923.1L985.4 923.1Z"/>
<path d="M995.1 919.7L998.8 927.1L991.4 927.1Z"/>
<path d="M1003.2 914.7L1006.9 922.1L999.5 922.1Z"/>
<path d="M1005.2 915.7L1008.9 923.1L1001.5 923.1Z"/>
<path d="M974.0 924.8L977.7 932.2L970.2 932.2Z"/>
<path d="M977.0 928.8L980.7 936.2L973.3 936.2Z"/>
<path d="M981.0 929.8L984.7 937.2L977.3 937.2Z"/>
<path d="M986.0 929.8L989.8 937.2L982.3 937.2Z"/>
<path d="M988.1 929.8L991.8 937.2L984.4 937.2Z"/>
<path d="M996.1 929.8L999.8 937.2L992.4 937.2Z"/>
<path d="M1003.2 930.4L1006.9 937.8L999.5 937.8Z"/>
<path d="M1033.4 916.3L1037.1 923.7L1029.7 923.7Z"/>
<path d="M1043.1 911.6L1046.8 919.1L1039.4 919.1Z"/>
<path d="M1051.5 913.7L1055.2 921.1L1047.8 921.1Z"/>
<path d="M1052.6 917.7L1056.3 925.1L1048.9 925.1Z"/>
<path d="M1055.6 908.6L1059.3 916.0L1051.9 916.0Z"/>
<path d="M1057.6 923.7L1061.3 931.1L1053.9 931.1Z"/>
<path d="M1061.2 919.7L1064.9 927.1L1057.5 927.1Z"/>
<path d="M1066.7 924.8L1070.4 932.2L1063.0 932.2Z"/>
<path d="M1053.6 919.7L1057.3 927.1L1049.9 927.1Z"/>
<path d="M1074.7 914.7L1078.4 922.1L1071.0 922.1Z"/>
<path d="M1076.7 912.7L1080.4 920.1L1073.0 920.1Z"/>
<path d="M1079.8 911.6L1083.5 919.1L1076.1 919.1Z"/>
<path d="M1084.8 913.7L1088.5 921.1L1081.1 921.1Z"/>
<path d="M1091.9 918.7L1095.6 926.1L1088.2 926.1Z"/>
<path d="M1093.9 925.3L1097.6 932.8L1090.2 932.8Z"/>
<path d="M1074.7 921.7L1078.4 929.1L1071.0 929.1Z"/>
<path d="M1106.0 922.7L1109.7 930.1L1102.3 930.1Z"/>
<path d="M917.5 936.8L921.2 944.2L913.8 944.2Z"/>
<path d="M919.5 939.9L923.2 947.3L915.8 947.3Z"/>
<path d="M916.5 945.9L920.2 953.3L912.8 953.3Z"/>
<path d="M921.5 943.9L925.2 951.3L917.8 951.3Z"/>
<path d="M929.6 937.8L933.3 945.2L925.9 945.2Z"/>
<path d="M940.3 935.8L944.0 943.2L936.6 943.2Z"/>
<path d="M938.7 943.9L942.4 951.3L935.0 951.3Z"/>
<path d="M951.8 939.9L955.5 947.3L948.1 947.3Z"/>
<path d="M956.8 939.9L960.5 947.3L953.1 947.3Z"/>
<path d="M961.9 936.8L965.6 944.2L958.2 944.2Z"/>
<path d="M958.8 941.9L962.5 949.3L955.1 949.3Z"/>
<path d="M959.8 946.9L963.5 954.3L956.1 954.3Z"/>
<path d="M962.9 947.9L966.6 955.3L959.2 955.3Z"/>
<path d="M966.9 945.9L970.6 953.3L963.2 953.3Z"/>
<path d="M970.9 949.9L974.6 957.3L967.2 957.3Z"/>
<path d="M971.9 952.0L975.6 959.4L968.2 959.4Z"/>
<path d="M975.0 946.9L978.7 954.3L971.3 954.3Z"/>
<path d="M975.0 958.0L978.7 965.4L971.3 965.4Z"/>
<path d="M970.9 963.0L974.6 970.4L967.2 970.4Z"/>
<path d="M1017.3 934.8L1021.0 942.2L1013.6 942.2Z"/>
<path d="M1015.3 936.8L1019.0 944.2L1011.6 944.2Z"/>
<path d="M1024.3 928.8L1028.0 936.2L1020.6 936.2Z"/>
<path d="M1026.8 938.9L1030.5 946.3L1023.1 946.3Z"/>
<path d="M1049.5 937.8L1053.2 945.2L1045.8 945.2Z"/>
<path d="M1050.5 932.8L1054.2 940.2L1046.8 940.2Z"/>
<path d="M1053.6 930.8L1057.3 938.2L1049.9 938.2Z"/>
<path d="M1055.6 926.8L1059.3 934.2L1051.9 934.2Z"/>
<path d="M1065.7 934.8L1069.4 942.2L1062.0 942.2Z"/>
<path d="M1068.7 934.8L1072.4 942.2L1065.0 942.2Z"/>
<path d="M1067.7 947.9L1071.4 955.3L1064.0 955.3Z"/>
<path d="M1010.2 946.9L1013.9 954.3L1006.5 954.3Z"/>
<path d="M1024.3 954.0L1028.0 961.4L1020.6 961.4Z"/>
<path d="M1023.3 955.0L1027.0 962.4L1019.6 962.4Z"/>
<path d="M1041.5 953.0L1045.2 960.4L1037.8 960.4Z"/>
<path d="M1053.6 950.9L1057.3 958.4L1049.9 958.4Z"/>
<path d="M1059.6 958.0L1063.3 965.4L1055.9 965.4Z"/>
<path d="M1065.7 958.0L1069.4 965.4L1062.0 965.4Z"/>
<path d="M1067.7 956.0L1071.4 963.4L1064.0 963.4Z"/>
<path d="M1079.4 960.6L1083.1 968.0L1075.7 968.0Z"/>
<path d="M890.3 954.0L894.0 961.4L886.6 961.4Z"/>
<path d="M897.4 966.1L901.1 973.5L893.7 973.5Z"/>
<path d="M907.8 961.0L911.5 968.4L904.1 968.4Z"/>
<path d="M904.4 968.1L908.1 975.5L900.7 975.5Z"/>
<path d="M903.4 972.1L907.1 979.5L899.7 979.5Z"/>
<path d="M904.4 977.1L908.1 984.6L900.7 984.6Z"/>
<path d="M913.5 974.1L917.2 981.5L909.8 981.5Z"/>
<path d="M910.5 983.2L914.2 990.6L906.8 990.6Z"/>
<path d="M927.6 967.1L931.3 974.5L923.9 974.5Z"/>
<path d="M928.2 968.1L931.9 975.5L924.5 975.5Z"/>
<path d="M925.6 975.1L929.3 982.5L921.9 982.5Z"/>
<path d="M928.6 979.2L932.3 986.6L924.9 986.6Z"/>
<path d="M934.6 970.1L938.4 977.5L930.9 977.5Z"/>
<path d="M937.7 971.1L941.4 978.5L934.0 978.5Z"/>
<path d="M939.7 956.4L943.4 963.8L936.0 963.8Z"/>
<path d="M945.7 953.0L949.4 960.4L942.0 960.4Z"/>
<path d="M944.7 958.0L948.4 965.4L941.0 965.4Z"/>
<path d="M950.8 956.0L954.5 963.4L947.1 963.4Z"/>
<path d="M952.8 960.0L956.5 967.4L949.1 967.4Z"/>
<path d="M954.8 954.0L958.5 961.4L951.1 961.4Z"/>
<path d="M949.8 968.1L953.5 975.5L946.1 975.5Z"/>
<path d="M948.8 974.1L952.5 981.5L945.1 981.5Z"/>
<path d="M946.7 979.2L950.4 986.6L943.0 986.6Z"/>
<path d="M948.8 981.2L952.5 988.6L945.1 988.6Z"/>
<path d="M959.8 964.0L963.5 971.5L956.1 971.5Z"/>
<path d="M958.8 981.2L962.5 988.6L955.1 988.6Z"/>
<path d="M963.9 976.1L967.6 983.5L960.2 983.5Z"/>
<path d="M962.9 977.1L966.6 984.6L959.2 984.6Z"/>
<path d="M970.9 964.0L974.6 971.5L967.2 971.5Z"/>
<path d="M971.9 975.1L975.6 982.5L968.2 982.5Z"/>
<path d="M975.0 976.1L978.7 983.5L971.3 983.5Z"/>
<path d="M981.0 976.5L984.7 984.0L977.3 984.0Z"/>
<path d="M993.1 965.1L996.8 972.5L989.4 972.5Z"/>
<path d="M995.1 963.0L998.8 970.4L991.4 970.4Z"/>
<path d="M1053.2 975.1L1056.9 982.5L1049.5 982.5Z"/>
<path d="M1127.3 768.9L1131.0 776.4L1123.6 776.4Z"/>
<path d="M1138.8 803.8L1142.5 811.2L1135.1 811.2Z"/>
<path d="M1168.5 802.4L1172.2 809.8L1164.8 809.8Z"/>
<path d="M1203.7 807.8L1207.4 815.2L1200.0 815.2Z"/>
<path d="M1133.8 817.9L1137.5 825.3L1130.1 825.3Z"/>
<path d="M1151.9 816.9L1155.6 824.3L1148.2 824.3Z"/>
<path d="M1217.0 822.0L1220.7 829.4L1213.3 829.4Z"/>
<path d="M1128.8 830.6L1132.5 838.0L1125.1 838.0Z"/>
<path d="M1148.3 838.1L1152.0 845.5L1144.6 845.5Z"/>
<path d="M1173.1 836.1L1176.8 843.5L1169.4 843.5Z"/>
<path d="M1180.2 835.1L1183.9 842.5L1176.5 842.5Z"/>
<path d="M1223.1 835.1L1226.8 842.5L1219.4 842.5Z"/>
<path d="M1178.7 846.1L1182.4 853.5L1175.0 853.5Z"/>
<path d="M1122.7 853.2L1126.4 860.6L1119.0 860.6Z"/>
<path d="M1128.4 861.3L1132.1 868.7L1124.7 868.7Z"/>
<path d="M1143.9 862.3L1147.6 869.7L1140.2 869.7Z"/>
<path d="M1155.0 858.2L1158.7 865.6L1151.3 865.6Z"/>
<path d="M1157.0 859.2L1160.7 866.7L1153.3 866.7Z"/>
<path d="M1165.0 859.2L1168.7 866.7L1161.3 866.7Z"/>
<path d="M1173.5 859.2L1177.2 866.7L1169.8 866.7Z"/>
<path d="M1124.7 870.3L1128.4 877.7L1121.0 877.7Z"/>
<path d="M1137.8 873.3L1141.5 880.8L1134.1 880.8Z"/>
<path d="M1162.0 877.4L1165.7 884.8L1158.3 884.8Z"/>
<path d="M1171.1 881.4L1174.8 888.8L1167.4 888.8Z"/>
<path d="M1179.8 873.3L1183.5 880.8L1176.0 880.8Z"/>
<path d="M1190.2 880.4L1193.9 887.8L1186.5 887.8Z"/>
<path d="M1198.3 875.0L1202.0 882.4L1194.6 882.4Z"/>
<path d="M1165.0 890.5L1168.7 897.9L1161.3 897.9Z"/>
<path d="M1189.2 893.5L1192.9 900.9L1185.5 900.9Z"/>
<path d="M1197.7 900.0L1201.4 907.4L1194.0 907.4Z"/>
<path d="M1114.7 883.4L1118.4 890.8L1111.0 890.8Z"/>
<path d="M1116.7 890.5L1120.4 897.9L1113.0 897.9Z"/>
<path d="M1106.6 892.5L1110.3 899.9L1102.9 899.9Z"/>
<path d="M1111.6 893.5L1115.3 900.9L1107.9 900.9Z"/>
<path d="M1120.7 899.6L1124.4 907.0L1117.0 907.0Z"/>
<path d="M1119.7 901.6L1123.4 909.0L1116.0 909.0Z"/>
<path d="M1128.8 891.5L1132.5 898.9L1125.1 898.9Z"/>
<path d="M1130.8 889.5L1134.5 896.9L1127.1 896.9Z"/>
<path d="M1132.8 890.5L1136.5 897.9L1129.1 897.9Z"/>
<path d="M1126.7 894.5L1130.4 901.9L1123.0 901.9Z"/>
<path d="M1137.8 901.2L1141.5 908.6L1134.1 908.6Z"/>
<path d="M1115.7 907.6L1119.4 915.0L1112.0 915.0Z"/>
<path d="M1138.2 918.7L1141.9 926.1L1134.5 926.1Z"/>
<path d="M1107.2 922.7L1110.9 930.1L1103.5 930.1Z"/>
<path d="M1112.6 927.8L1116.3 935.2L1108.9 935.2Z"/>
<path d="M1113.6 928.8L1117.3 936.2L1109.9 936.2Z"/>
<path d="M1110.2 863.3L1113.9 870.7L1106.5 870.7Z"/>
<path d="M949.6 938.1L953.3 945.5L945.9 945.5Z"/>
<path d="M1107.8 919.1L1111.5 926.5L1104.1 926.5Z"/>
<path d="M1093.6 914.4L1097.3 921.8L1089.9 921.8Z"/>
<path d="M1015.5 915.1L1019.2 922.5L1011.8 922.5Z"/>
<path d="M1090.0 858.9L1093.7 866.3L1086.3 866.3Z"/>
<path d="M1048.9 884.4L1052.6 891.8L1045.2 891.8Z"/>
<path d="M919.3 966.7L923.0 974.1L915.6 974.1Z"/>
<path d="M958.9 941.6L962.6 949.0L955.2 949.0Z"/>
<path d="M1053.6 883.1L1057.3 890.5L1049.9 890.5Z"/>
<path d="M1083.8 871.2L1087.5 878.6L1080.1 878.6Z"/>
<path d="M959.3 938.5L963.0 945.9L955.6 945.9Z"/>
<path d="M969.9 950.3L973.6 957.7L966.2 957.7Z"/>
<path d="M962.0 948.0L965.7 955.4L958.3 955.4Z"/>
<path d="M1030.1 885.2L1033.8 892.6L1026.4 892.6Z"/>
<path d="M1077.8 890.0L1081.5 897.4L1074.1 897.4Z"/>
<path d="M979.0 915.7L982.7 923.1L975.3 923.1Z"/>
<path d="M963.0 940.4L966.7 947.8L959.3 947.8Z"/>
<path d="M1066.0 952.6L1069.7 960.0L1062.3 960.0Z"/>
<path d="M963.2 943.6L966.9 951.0L959.5 951.0Z"/>
<path d="M1017.4 935.6L1021.1 943.0L1013.7 943.0Z"/>
<path d="M1022.5 883.8L1026.2 891.2L1018.8 891.2Z"/>
<path d="M958.4 942.2L962.1 949.6L954.7 949.6Z"/>
<path d="M1066.5 927.9L1070.2 935.3L1062.8 935.3Z"/>
<path d="M1080.2 881.6L1083.9 889.0L1076.5 889.0Z"/>
</g>
<line x1="873.4" y1="969.3" x2="1222.3" y2="839.5" stroke="#727272" stroke-width="1.5"/>
</g>
<text x="34.2" y="1070.5" text-anchor="end" fill="#000" stroke="#fff" stroke-width="0.7" transform="translate(32,0) scale(1.15,1) translate(-32,0)" style="font-family:'Liberation Serif',serif;font-size:39.5px">D</text>
<g>
<rect x="137.55" y="1089.75" width="3.5" height="274.75" fill="#000"/>
<rect x="128.30" y="1361.00" width="11.00" height="3.5" fill="#000"/>
<text x="125.30" y="1369.35" text-anchor="end" style="font-family:'Liberation Serif',serif;font-weight:bold;font-size:18.7px">-5</text>
<rect x="128.30" y="1306.75" width="11.00" height="3.5" fill="#000"/>
<text x="125.30" y="1315.10" text-anchor="end" style="font-family:'Liberation Serif',serif;font-weight:bold;font-size:18.7px">0</text>
<rect x="128.30" y="1252.50" width="11.00" height="3.5" fill="#000"/>
<text x="125.30" y="1260.85" text-anchor="end" style="font-family:'Liberation Serif',serif;font-weight:bold;font-size:18.7px">5</text>
<rect x="128.30" y="1198.25" width="11.00" height="3.5" fill="#000"/>
<text x="125.30" y="1206.60" text-anchor="end" style="font-family:'Liberation Serif',serif;font-weight:bold;font-size:18.7px">10</text>
<rect x="128.30" y="1144.00" width="11.00" height="3.5" fill="#000"/>
<text x="125.30" y="1152.35" text-anchor="end" style="font-family:'Liberation Serif',serif;font-weight:bold;font-size:18.7px">15</text>
<rect x="128.30" y="1089.75" width="11.00" height="3.5" fill="#000"/>
<text x="125.30" y="1098.10" text-anchor="end" style="font-family:'Liberation Serif',serif;font-weight:bold;font-size:18.7px">20</text>
<rect x="139.30" y="1306.75" width="493.45" height="3.5" fill="#000"/>
<rect x="260.48" y="1308.50" width="3.5" height="11.30" fill="#000"/>
<text x="262.23" y="1339.70" text-anchor="middle" style="font-family:'Liberation Serif',serif;font-weight:bold;font-size:18.7px">1</text>
<rect x="383.40" y="1308.50" width="3.5" height="11.30" fill="#000"/>
<text x="385.15" y="1339.70" text-anchor="middle" style="font-family:'Liberation Serif',serif;font-weight:bold;font-size:18.7px">2</text>
<rect x="506.32" y="1308.50" width="3.5" height="11.30" fill="#000"/>
<text x="508.07" y="1339.70" text-anchor="middle" style="font-family:'Liberation Serif',serif;font-weight:bold;font-size:18.7px">3</text>
<rect x="629.25" y="1308.50" width="3.5" height="11.30" fill="#000"/>
<text x="631.00" y="1339.70" text-anchor="middle" style="font-family:'Liberation Serif',serif;font-weight:bold;font-size:18.7px">4</text>
<text x="385.15" y="1372.00" text-anchor="middle" style="font-family:'Liberation Serif',serif;font-weight:bold;font-size:20.7px">S100A12_mRNA</text>
<text transform="translate(94.30,1227.12) rotate(-90)" text-anchor="middle" style="font-family:'Liberation Serif',serif;font-weight:bold;font-size:21px">PCT ng/mL</text>
<g fill="#d8486a" fill-opacity="0.55">
<path d="M240.1 1145.2L243.8 1137.8L236.4 1137.8Z"/>
<path d="M366.7 1143.2L370.4 1135.8L363.0 1135.8Z"/>
<path d="M372.7 1151.2L376.4 1143.8L369.0 1143.8Z"/>
<path d="M388.4 1141.1L392.1 1133.7L384.7 1133.7Z"/>
<path d="M344.1 1163.9L347.8 1156.5L340.4 1156.5Z"/>
<path d="M384.8 1166.3L388.5 1158.9L381.1 1158.9Z"/>
<path d="M365.3 1176.4L369.0 1169.0L361.6 1169.0Z"/>
<path d="M340.5 1181.5L344.2 1174.0L336.8 1174.0Z"/>
<path d="M393.5 1188.5L397.2 1181.1L389.8 1181.1Z"/>
<path d="M371.3 1194.5L375.0 1187.1L367.6 1187.1Z"/>
<path d="M390.9 1195.6L394.6 1188.2L387.2 1188.2Z"/>
<path d="M391.9 1196.6L395.6 1189.2L388.2 1189.2Z"/>
<path d="M379.8 1210.3L383.5 1202.9L376.1 1202.9Z"/>
<path d="M390.9 1208.3L394.6 1200.9L387.2 1200.9Z"/>
<path d="M405.6 1212.3L409.3 1204.9L401.9 1204.9Z"/>
<path d="M388.4 1230.8L392.1 1223.4L384.7 1223.4Z"/>
<path d="M408.6 1232.9L412.3 1225.5L404.9 1225.5Z"/>
<path d="M396.9 1242.9L400.6 1235.5L393.2 1235.5Z"/>
<path d="M393.5 1248.0L397.2 1240.6L389.8 1240.6Z"/>
<path d="M384.8 1249.0L388.5 1241.6L381.1 1241.6Z"/>
<path d="M357.6 1248.0L361.3 1240.6L353.9 1240.6Z"/>
<path d="M310.2 1254.0L313.9 1246.6L306.5 1246.6Z"/>
<path d="M409.0 1186.5L412.7 1179.1L405.3 1179.1Z"/>
<path d="M526.0 1109.9L529.7 1102.5L522.3 1102.5Z"/>
<path d="M451.4 1125.0L455.1 1117.6L447.7 1117.6Z"/>
<path d="M549.1 1131.1L552.9 1123.7L545.4 1123.7Z"/>
<path d="M478.2 1138.5L481.9 1131.1L474.5 1131.1Z"/>
<path d="M444.7 1142.5L448.4 1135.1L441.0 1135.1Z"/>
<path d="M514.9 1145.2L518.6 1137.8L511.2 1137.8Z"/>
<path d="M520.3 1149.8L524.0 1142.4L516.6 1142.4Z"/>
<path d="M537.0 1148.2L540.8 1140.8L533.3 1140.8Z"/>
<path d="M464.5 1151.2L468.2 1143.8L460.8 1143.8Z"/>
<path d="M464.9 1160.7L468.6 1153.3L461.2 1153.3Z"/>
<path d="M456.0 1163.9L459.7 1156.5L452.3 1156.5Z"/>
<path d="M493.1 1162.3L496.8 1154.9L489.4 1154.9Z"/>
<path d="M514.9 1168.0L518.6 1160.5L511.2 1160.5Z"/>
<path d="M576.4 1168.4L580.1 1161.0L572.7 1161.0Z"/>
<path d="M418.1 1170.4L421.8 1163.0L414.4 1163.0Z"/>
<path d="M433.9 1171.4L437.6 1164.0L430.2 1164.0Z"/>
<path d="M469.5 1171.4L473.2 1164.0L465.8 1164.0Z"/>
<path d="M471.6 1176.8L475.2 1169.4L467.9 1169.4Z"/>
<path d="M429.2 1178.4L432.9 1171.0L425.5 1171.0Z"/>
<path d="M503.8 1178.4L507.5 1171.0L500.1 1171.0Z"/>
<path d="M492.7 1181.5L496.4 1174.0L489.0 1174.0Z"/>
<path d="M493.7 1183.5L497.4 1176.1L490.0 1176.1Z"/>
<path d="M521.5 1182.9L525.2 1175.5L517.8 1175.5Z"/>
<path d="M535.0 1183.9L538.7 1176.5L531.3 1176.5Z"/>
<path d="M411.1 1186.9L414.8 1179.5L407.4 1179.5Z"/>
<path d="M427.8 1187.5L431.5 1180.1L424.1 1180.1Z"/>
<path d="M458.4 1183.5L462.1 1176.1L454.8 1176.1Z"/>
<path d="M460.9 1188.5L464.6 1181.1L457.2 1181.1Z"/>
<path d="M469.5 1189.5L473.2 1182.1L465.8 1182.1Z"/>
<path d="M468.5 1193.5L472.2 1186.1L464.8 1186.1Z"/>
<path d="M445.4 1196.0L449.1 1188.6L441.7 1188.6Z"/>
<path d="M498.8 1192.5L502.5 1185.1L495.1 1185.1Z"/>
<path d="M512.9 1192.5L516.6 1185.1L509.2 1185.1Z"/>
<path d="M544.7 1193.5L548.4 1186.1L541.0 1186.1Z"/>
<path d="M482.6 1195.6L486.3 1188.2L478.9 1188.2Z"/>
<path d="M479.6 1198.6L483.3 1191.2L475.9 1191.2Z"/>
<path d="M488.1 1198.6L491.8 1191.2L484.4 1191.2Z"/>
<path d="M416.1 1198.6L419.8 1191.2L412.4 1191.2Z"/>
<path d="M420.2 1200.2L423.9 1192.8L416.5 1192.8Z"/>
<path d="M413.1 1204.6L416.8 1197.2L409.4 1197.2Z"/>
<path d="M466.5 1202.2L470.2 1194.8L462.8 1194.8Z"/>
<path d="M451.4 1205.6L455.1 1198.2L447.7 1198.2Z"/>
<path d="M460.5 1208.3L464.2 1200.9L456.8 1200.9Z"/>
<path d="M443.9 1208.7L447.6 1201.3L440.2 1201.3Z"/>
<path d="M474.6 1205.6L478.3 1198.2L470.9 1198.2Z"/>
<path d="M479.2 1206.7L482.9 1199.2L475.5 1199.2Z"/>
<path d="M476.0 1212.3L479.7 1204.9L472.3 1204.9Z"/>
<path d="M497.8 1200.6L501.4 1193.2L494.1 1193.2Z"/>
<path d="M511.5 1204.6L515.2 1197.2L507.8 1197.2Z"/>
<path d="M511.3 1211.7L515.0 1204.3L507.6 1204.3Z"/>
<path d="M541.1 1202.6L544.8 1195.2L537.4 1195.2Z"/>
<path d="M406.1 1212.3L409.8 1204.9L402.4 1204.9Z"/>
<path d="M420.2 1217.7L423.9 1210.3L416.5 1210.3Z"/>
<path d="M435.3 1213.7L439.0 1206.3L431.6 1206.3Z"/>
<path d="M435.9 1217.7L439.6 1210.3L432.2 1210.3Z"/>
<path d="M447.8 1215.7L451.5 1208.3L444.1 1208.3Z"/>
<path d="M488.7 1212.7L492.4 1205.3L485.0 1205.3Z"/>
<path d="M494.7 1213.7L498.4 1206.3L491.0 1206.3Z"/>
<path d="M500.8 1213.7L504.5 1206.3L497.1 1206.3Z"/>
<path d="M571.3 1212.7L575.0 1205.3L567.6 1205.3Z"/>
<path d="M482.6 1222.8L486.3 1215.4L478.9 1215.4Z"/>
<path d="M484.2 1220.8L487.9 1213.3L480.6 1213.3Z"/>
<path d="M463.5 1226.8L467.2 1219.4L459.8 1219.4Z"/>
<path d="M466.1 1234.9L469.8 1227.5L462.4 1227.5Z"/>
<path d="M424.2 1226.8L427.9 1219.4L420.5 1219.4Z"/>
<path d="M423.2 1230.8L426.9 1223.4L419.5 1223.4Z"/>
<path d="M424.2 1234.9L427.9 1227.5L420.5 1227.5Z"/>
<path d="M409.7 1232.9L413.4 1225.5L406.0 1225.5Z"/>
<path d="M413.1 1240.9L416.8 1233.5L409.4 1233.5Z"/>
<path d="M512.9 1229.8L516.6 1222.4L509.2 1222.4Z"/>
<path d="M516.9 1232.9L520.6 1225.5L513.2 1225.5Z"/>
<path d="M542.1 1231.8L545.8 1224.4L538.4 1224.4Z"/>
<path d="M544.7 1243.9L548.4 1236.5L541.0 1236.5Z"/>
<path d="M486.7 1237.9L490.4 1230.5L483.0 1230.5Z"/>
<path d="M485.7 1244.9L489.4 1237.5L482.0 1237.5Z"/>
<path d="M489.7 1244.9L493.4 1237.5L486.0 1237.5Z"/>
<path d="M458.4 1256.0L462.1 1248.6L454.8 1248.6Z"/>
<path d="M508.8 1258.0L512.5 1250.6L505.1 1250.6Z"/>
<path d="M549.1 1269.1L552.9 1261.7L545.4 1261.7Z"/>
<path d="M445.4 1277.2L449.1 1269.8L441.7 1269.8Z"/>
<path d="M449.0 1280.8L452.7 1273.4L445.3 1273.4Z"/>
<path d="M484.6 1292.3L488.3 1284.9L480.9 1284.9Z"/>
<path d="M178.9 1312.2L182.6 1304.8L175.2 1304.8Z"/>
<path d="M180.9 1312.2L184.6 1304.8L177.2 1304.8Z"/>
<path d="M183.0 1312.2L186.7 1304.8L179.3 1304.8Z"/>
<path d="M184.4 1312.2L188.1 1304.8L180.7 1304.8Z"/>
<path d="M186.2 1312.2L189.9 1304.8L182.5 1304.8Z"/>
<path d="M188.1 1312.2L191.8 1304.8L184.4 1304.8Z"/>
<path d="M197.7 1312.2L201.4 1304.8L194.0 1304.8Z"/>
<path d="M200.0 1312.2L203.7 1304.8L196.3 1304.8Z"/>
<path d="M202.1 1312.2L205.8 1304.8L198.4 1304.8Z"/>
<path d="M204.3 1312.2L208.0 1304.8L200.6 1304.8Z"/>
<path d="M205.6 1312.2L209.3 1304.8L201.9 1304.8Z"/>
<path d="M207.8 1312.2L211.5 1304.8L204.1 1304.8Z"/>
<path d="M209.6 1312.2L213.3 1304.8L205.9 1304.8Z"/>
<path d="M212.3 1312.2L216.0 1304.8L208.6 1304.8Z"/>
<path d="M214.2 1312.2L217.9 1304.8L210.5 1304.8Z"/>
<path d="M215.5 1312.2L219.2 1304.8L211.8 1304.8Z"/>
<path d="M222.1 1312.2L225.8 1304.8L218.4 1304.8Z"/>
<path d="M223.7 1312.2L227.4 1304.8L220.0 1304.8Z"/>
<path d="M224.9 1312.2L228.6 1304.8L221.2 1304.8Z"/>
<path d="M226.5 1312.2L230.2 1304.8L222.8 1304.8Z"/>
<path d="M227.7 1312.2L231.4 1304.8L224.0 1304.8Z"/>
<path d="M229.1 1312.2L232.8 1304.8L225.4 1304.8Z"/>
<path d="M231.2 1312.2L234.9 1304.8L227.5 1304.8Z"/>
<path d="M232.4 1312.2L236.1 1304.8L228.7 1304.8Z"/>
<path d="M234.1 1312.2L237.8 1304.8L230.4 1304.8Z"/>
<path d="M235.7 1312.2L239.4 1304.8L232.0 1304.8Z"/>
<path d="M237.1 1312.2L240.8 1304.8L233.4 1304.8Z"/>
<path d="M239.2 1312.2L242.9 1304.8L235.5 1304.8Z"/>
<path d="M240.7 1312.2L244.4 1304.8L237.0 1304.8Z"/>
<path d="M242.7 1312.2L246.4 1304.8L239.0 1304.8Z"/>
<path d="M244.0 1312.2L247.7 1304.8L240.3 1304.8Z"/>
<path d="M245.7 1312.2L249.4 1304.8L242.0 1304.8Z"/>
<path d="M247.2 1312.2L250.9 1304.8L243.5 1304.8Z"/>
<path d="M249.0 1312.2L252.7 1304.8L245.3 1304.8Z"/>
<path d="M250.4 1312.2L254.1 1304.8L246.7 1304.8Z"/>
<path d="M251.8 1312.2L255.5 1304.8L248.1 1304.8Z"/>
<path d="M254.1 1312.2L257.8 1304.8L250.4 1304.8Z"/>
<path d="M255.7 1312.2L259.4 1304.8L252.0 1304.8Z"/>
<path d="M257.1 1312.2L260.8 1304.8L253.4 1304.8Z"/>
<path d="M258.6 1312.2L262.3 1304.8L254.9 1304.8Z"/>
<path d="M259.8 1312.2L263.5 1304.8L256.1 1304.8Z"/>
<path d="M261.3 1312.2L265.0 1304.8L257.6 1304.8Z"/>
<path d="M263.0 1312.2L266.7 1304.8L259.3 1304.8Z"/>
<path d="M264.4 1312.2L268.1 1304.8L260.7 1304.8Z"/>
<path d="M266.7 1312.2L270.4 1304.8L263.0 1304.8Z"/>
<path d="M267.9 1312.2L271.6 1304.8L264.2 1304.8Z"/>
<path d="M269.9 1312.2L273.6 1304.8L266.2 1304.8Z"/>
<path d="M271.1 1312.2L274.8 1304.8L267.4 1304.8Z"/>
<path d="M273.3 1312.2L277.0 1304.8L269.6 1304.8Z"/>
<path d="M274.8 1312.2L278.4 1304.8L271.1 1304.8Z"/>
<path d="M275.5 1312.2L279.2 1304.8L271.8 1304.8Z"/>
<path d="M277.3 1312.2L281.0 1304.8L273.6 1304.8Z"/>
<path d="M279.6 1312.2L283.3 1304.8L275.9 1304.8Z"/>
<path d="M280.8 1312.2L284.5 1304.8L277.1 1304.8Z"/>
<path d="M282.9 1312.2L286.6 1304.8L279.2 1304.8Z"/>
<path d="M283.9 1312.2L287.6 1304.8L280.2 1304.8Z"/>
<path d="M285.2 1312.2L288.9 1304.8L281.5 1304.8Z"/>
<path d="M287.3 1312.2L291.0 1304.8L283.6 1304.8Z"/>
<path d="M289.1 1312.2L292.8 1304.8L285.4 1304.8Z"/>
<path d="M290.2 1312.2L293.9 1304.8L286.5 1304.8Z"/>
<path d="M291.6 1312.2L295.3 1304.8L287.9 1304.8Z"/>
<path d="M293.4 1312.2L297.1 1304.8L289.7 1304.8Z"/>
<path d="M295.7 1312.2L299.4 1304.8L292.0 1304.8Z"/>
<path d="M297.1 1312.2L300.8 1304.8L293.4 1304.8Z"/>
<path d="M298.0 1312.2L301.7 1304.8L294.3 1304.8Z"/>
<path d="M299.8 1312.2L303.4 1304.8L296.1 1304.8Z"/>
<path d="M301.2 1312.2L304.9 1304.8L297.5 1304.8Z"/>
<path d="M302.8 1312.2L306.5 1304.8L299.1 1304.8Z"/>
<path d="M305.1 1312.2L308.8 1304.8L301.4 1304.8Z"/>
<path d="M306.1 1312.2L309.8 1304.8L302.4 1304.8Z"/>
<path d="M308.1 1312.2L311.8 1304.8L304.4 1304.8Z"/>
<path d="M309.6 1312.2L313.2 1304.8L305.9 1304.8Z"/>
<path d="M310.9 1312.2L314.6 1304.8L307.2 1304.8Z"/>
<path d="M313.0 1312.2L316.7 1304.8L309.3 1304.8Z"/>
<path d="M314.0 1312.2L317.7 1304.8L310.3 1304.8Z"/>
<path d="M316.1 1312.2L319.8 1304.8L312.4 1304.8Z"/>
<path d="M318.6 1312.2L322.3 1304.8L314.9 1304.8Z"/>
<path d="M320.7 1312.2L324.4 1304.8L317.0 1304.8Z"/>
<path d="M322.3 1312.2L326.0 1304.8L318.6 1304.8Z"/>
<path d="M324.2 1312.2L327.9 1304.8L320.5 1304.8Z"/>
<path d="M326.7 1312.2L330.4 1304.8L323.0 1304.8Z"/>
<path d="M328.3 1312.2L332.0 1304.8L324.6 1304.8Z"/>
<path d="M329.6 1312.2L333.3 1304.8L325.9 1304.8Z"/>
<path d="M332.0 1312.2L335.7 1304.8L328.3 1304.8Z"/>
<path d="M333.1 1312.2L336.8 1304.8L329.4 1304.8Z"/>
<path d="M335.1 1312.2L338.8 1304.8L331.4 1304.8Z"/>
<path d="M337.4 1312.2L341.1 1304.8L333.7 1304.8Z"/>
<path d="M338.9 1312.2L342.6 1304.8L335.2 1304.8Z"/>
<path d="M340.2 1312.2L343.9 1304.8L336.5 1304.8Z"/>
<path d="M342.9 1312.2L346.6 1304.8L339.2 1304.8Z"/>
<path d="M343.9 1312.2L347.6 1304.8L340.2 1304.8Z"/>
<path d="M345.8 1312.2L349.5 1304.8L342.1 1304.8Z"/>
<path d="M348.1 1312.2L351.8 1304.8L344.4 1304.8Z"/>
<path d="M349.4 1312.2L353.1 1304.8L345.7 1304.8Z"/>
<path d="M351.2 1312.2L354.9 1304.8L347.5 1304.8Z"/>
<path d="M353.2 1312.2L356.9 1304.8L349.5 1304.8Z"/>
<path d="M355.0 1312.2L358.7 1304.8L351.3 1304.8Z"/>
<path d="M357.3 1312.2L361.0 1304.8L353.6 1304.8Z"/>
<path d="M358.7 1312.2L362.4 1304.8L355.0 1304.8Z"/>
<path d="M360.9 1312.2L364.6 1304.8L357.2 1304.8Z"/>
<path d="M362.5 1312.2L366.2 1304.8L358.8 1304.8Z"/>
<path d="M364.4 1312.2L368.1 1304.8L360.7 1304.8Z"/>
<path d="M366.7 1312.2L370.4 1304.8L363.0 1304.8Z"/>
<path d="M368.0 1312.2L371.7 1304.8L364.3 1304.8Z"/>
<path d="M369.9 1312.2L373.6 1304.8L366.2 1304.8Z"/>
<path d="M372.0 1312.2L375.7 1304.8L368.3 1304.8Z"/>
<path d="M373.1 1312.2L376.8 1304.8L369.4 1304.8Z"/>
<path d="M374.9 1312.2L378.6 1304.8L371.2 1304.8Z"/>
<path d="M377.4 1312.2L381.1 1304.8L373.7 1304.8Z"/>
<path d="M379.1 1312.2L382.8 1304.8L375.4 1304.8Z"/>
<path d="M380.4 1312.2L384.1 1304.8L376.7 1304.8Z"/>
<path d="M382.1 1312.2L385.8 1304.8L378.4 1304.8Z"/>
<path d="M384.4 1312.2L388.1 1304.8L380.7 1304.8Z"/>
<path d="M386.4 1312.2L390.1 1304.8L382.7 1304.8Z"/>
<path d="M387.5 1312.2L391.2 1304.8L383.8 1304.8Z"/>
<path d="M390.1 1312.2L393.8 1304.8L386.4 1304.8Z"/>
<path d="M391.8 1312.2L395.5 1304.8L388.1 1304.8Z"/>
<path d="M393.3 1312.2L397.0 1304.8L389.6 1304.8Z"/>
<path d="M394.9 1312.2L398.6 1304.8L391.2 1304.8Z"/>
<path d="M396.4 1312.2L400.1 1304.8L392.7 1304.8Z"/>
<path d="M398.1 1312.2L401.8 1304.8L394.4 1304.8Z"/>
<path d="M400.9 1312.2L404.6 1304.8L397.2 1304.8Z"/>
<path d="M401.9 1312.2L405.6 1304.8L398.2 1304.8Z"/>
<path d="M404.2 1312.2L407.9 1304.8L400.5 1304.8Z"/>
<path d="M405.6 1312.2L409.3 1304.8L401.9 1304.8Z"/>
<path d="M407.9 1312.2L411.6 1304.8L404.2 1304.8Z"/>
<path d="M409.5 1312.2L413.2 1304.8L405.8 1304.8Z"/>
<path d="M411.0 1312.2L414.7 1304.8L407.3 1304.8Z"/>
<path d="M412.7 1312.2L416.4 1304.8L409.0 1304.8Z"/>
<path d="M415.0 1312.2L418.7 1304.8L411.3 1304.8Z"/>
<path d="M416.2 1312.2L419.9 1304.8L412.5 1304.8Z"/>
<path d="M418.1 1312.2L421.8 1304.8L414.4 1304.8Z"/>
<path d="M420.3 1312.2L424.0 1304.8L416.6 1304.8Z"/>
<path d="M422.4 1312.2L426.1 1304.8L418.7 1304.8Z"/>
<path d="M423.9 1312.2L427.6 1304.8L420.2 1304.8Z"/>
<path d="M425.4 1312.2L429.1 1304.8L421.7 1304.8Z"/>
<path d="M427.8 1312.2L431.5 1304.8L424.1 1304.8Z"/>
<path d="M428.9 1312.2L432.6 1304.8L425.2 1304.8Z"/>
<path d="M430.5 1312.2L434.2 1304.8L426.8 1304.8Z"/>
<path d="M444.0 1312.2L447.7 1304.8L440.3 1304.8Z"/>
<path d="M454.4 1312.2L458.1 1304.8L450.7 1304.8Z"/>
<path d="M458.5 1312.2L462.2 1304.8L454.8 1304.8Z"/>
<path d="M468.5 1312.2L472.2 1304.8L464.8 1304.8Z"/>
<path d="M481.6 1312.2L485.3 1304.8L477.9 1304.8Z"/>
</g>
<line x1="182.3" y1="1349.7" x2="575.7" y2="1179.4" stroke="#727272" stroke-width="1.5"/>
</g>
<g>
<rect x="778.25" y="1089.75" width="3.5" height="274.75" fill="#000"/>
<rect x="769.00" y="1361.00" width="11.00" height="3.5" fill="#000"/>
<text x="766.00" y="1369.35" text-anchor="end" style="font-family:'Liberation Serif',serif;font-weight:bold;font-size:18.7px">-5</text>
<rect x="769.00" y="1306.75" width="11.00" height="3.5" fill="#000"/>
<text x="766.00" y="1315.10" text-anchor="end" style="font-family:'Liberation Serif',serif;font-weight:bold;font-size:18.7px">0</text>
<rect x="769.00" y="1252.50" width="11.00" height="3.5" fill="#000"/>
<text x="766.00" y="1260.85" text-anchor="end" style="font-family:'Liberation Serif',serif;font-weight:bold;font-size:18.7px">5</text>
<rect x="769.00" y="1198.25" width="11.00" height="3.5" fill="#000"/>
<text x="766.00" y="1206.60" text-anchor="end" style="font-family:'Liberation Serif',serif;font-weight:bold;font-size:18.7px">10</text>
<rect x="769.00" y="1144.00" width="11.00" height="3.5" fill="#000"/>
<text x="766.00" y="1152.35" text-anchor="end" style="font-family:'Liberation Serif',serif;font-weight:bold;font-size:18.7px">15</text>
<rect x="769.00" y="1089.75" width="11.00" height="3.5" fill="#000"/>
<text x="766.00" y="1098.10" text-anchor="end" style="font-family:'Liberation Serif',serif;font-weight:bold;font-size:18.7px">20</text>
<rect x="780.00" y="1306.75" width="493.25" height="3.5" fill="#000"/>
<rect x="942.08" y="1308.50" width="3.5" height="11.30" fill="#000"/>
<text x="943.83" y="1339.70" text-anchor="middle" style="font-family:'Liberation Serif',serif;font-weight:bold;font-size:18.7px">10</text>
<rect x="1105.92" y="1308.50" width="3.5" height="11.30" fill="#000"/>
<text x="1107.67" y="1339.70" text-anchor="middle" style="font-family:'Liberation Serif',serif;font-weight:bold;font-size:18.7px">20</text>
<rect x="1269.75" y="1308.50" width="3.5" height="11.30" fill="#000"/>
<text x="1271.50" y="1339.70" text-anchor="middle" style="font-family:'Liberation Serif',serif;font-weight:bold;font-size:18.7px">30</text>
<rect x="794.63" y="1308.50" width="3.5" height="6.00" fill="#000"/>
<rect x="811.02" y="1308.50" width="3.5" height="6.00" fill="#000"/>
<rect x="827.40" y="1308.50" width="3.5" height="6.00" fill="#000"/>
<rect x="843.78" y="1308.50" width="3.5" height="6.00" fill="#000"/>
<rect x="860.17" y="1308.50" width="3.5" height="6.00" fill="#000"/>
<rect x="876.55" y="1308.50" width="3.5" height="6.00" fill="#000"/>
<rect x="892.93" y="1308.50" width="3.5" height="6.00" fill="#000"/>
<rect x="909.32" y="1308.50" width="3.5" height="6.00" fill="#000"/>
<rect x="925.70" y="1308.50" width="3.5" height="6.00" fill="#000"/>
<rect x="958.47" y="1308.50" width="3.5" height="6.00" fill="#000"/>
<rect x="974.85" y="1308.50" width="3.5" height="6.00" fill="#000"/>
<rect x="991.23" y="1308.50" width="3.5" height="6.00" fill="#000"/>
<rect x="1007.62" y="1308.50" width="3.5" height="6.00" fill="#000"/>
<rect x="1024.00" y="1308.50" width="3.5" height="6.00" fill="#000"/>
<rect x="1040.38" y="1308.50" width="3.5" height="6.00" fill="#000"/>
<rect x="1056.77" y="1308.50" width="3.5" height="6.00" fill="#000"/>
<rect x="1073.15" y="1308.50" width="3.5" height="6.00" fill="#000"/>
<rect x="1089.53" y="1308.50" width="3.5" height="6.00" fill="#000"/>
<rect x="1122.30" y="1308.50" width="3.5" height="6.00" fill="#000"/>
<rect x="1138.68" y="1308.50" width="3.5" height="6.00" fill="#000"/>
<rect x="1155.07" y="1308.50" width="3.5" height="6.00" fill="#000"/>
<rect x="1171.45" y="1308.50" width="3.5" height="6.00" fill="#000"/>
<rect x="1187.83" y="1308.50" width="3.5" height="6.00" fill="#000"/>
<rect x="1204.22" y="1308.50" width="3.5" height="6.00" fill="#000"/>
<rect x="1220.60" y="1308.50" width="3.5" height="6.00" fill="#000"/>
<rect x="1236.98" y="1308.50" width="3.5" height="6.00" fill="#000"/>
<rect x="1253.37" y="1308.50" width="3.5" height="6.00" fill="#000"/>
<text x="1025.75" y="1372.00" text-anchor="middle" style="font-family:'Liberation Serif',serif;font-weight:bold;font-size:20.7px">S100A12_Protein</text>
<text transform="translate(735.00,1227.12) rotate(-90)" text-anchor="middle" style="font-family:'Liberation Serif',serif;font-weight:bold;font-size:21px">PCT ng/mL</text>
<g fill="#d8486a" fill-opacity="0.55">
<path d="M1091.9 1145.2L1095.6 1137.8L1088.2 1137.8Z"/>
<path d="M1097.9 1141.1L1101.6 1133.7L1094.2 1133.7Z"/>
<path d="M1105.0 1151.2L1108.7 1143.8L1101.3 1143.8Z"/>
<path d="M1085.8 1162.3L1089.5 1154.9L1082.1 1154.9Z"/>
<path d="M1079.4 1166.3L1083.1 1158.9L1075.7 1158.9Z"/>
<path d="M1079.8 1172.4L1083.5 1165.0L1076.1 1165.0Z"/>
<path d="M1075.7 1180.4L1079.4 1173.0L1072.0 1173.0Z"/>
<path d="M1095.9 1183.5L1099.6 1176.1L1092.2 1176.1Z"/>
<path d="M1099.9 1178.4L1103.6 1171.0L1096.2 1171.0Z"/>
<path d="M1100.9 1170.4L1104.6 1163.0L1097.2 1163.0Z"/>
<path d="M1105.6 1171.4L1109.3 1164.0L1101.9 1164.0Z"/>
<path d="M1033.8 1196.6L1037.5 1189.2L1030.1 1189.2Z"/>
<path d="M1041.9 1194.5L1045.6 1187.1L1038.2 1187.1Z"/>
<path d="M1053.6 1193.5L1057.3 1186.1L1049.9 1186.1Z"/>
<path d="M1060.6 1197.6L1064.3 1190.2L1056.9 1190.2Z"/>
<path d="M1061.6 1198.6L1065.3 1191.2L1057.9 1191.2Z"/>
<path d="M1068.1 1189.5L1071.8 1182.1L1064.4 1182.1Z"/>
<path d="M1068.7 1194.5L1072.4 1187.1L1065.0 1187.1Z"/>
<path d="M1079.8 1195.6L1083.5 1188.2L1076.1 1188.2Z"/>
<path d="M1080.8 1198.6L1084.5 1191.2L1077.1 1191.2Z"/>
<path d="M1105.6 1193.5L1109.3 1186.1L1101.9 1186.1Z"/>
<path d="M1029.8 1206.2L1033.5 1198.8L1026.1 1198.8Z"/>
<path d="M1043.1 1213.7L1046.8 1206.3L1039.4 1206.3Z"/>
<path d="M1054.6 1212.7L1058.3 1205.3L1050.9 1205.3Z"/>
<path d="M1056.6 1207.7L1060.3 1200.2L1052.9 1200.2Z"/>
<path d="M1061.6 1220.4L1065.3 1213.0L1057.9 1213.0Z"/>
<path d="M1046.5 1223.8L1050.2 1216.4L1042.8 1216.4Z"/>
<path d="M1081.4 1217.3L1085.1 1209.9L1077.7 1209.9Z"/>
<path d="M1083.8 1208.7L1087.5 1201.3L1080.1 1201.3Z"/>
<path d="M1091.9 1209.7L1095.6 1202.3L1088.2 1202.3Z"/>
<path d="M1094.9 1205.6L1098.6 1198.2L1091.2 1198.2Z"/>
<path d="M1093.9 1207.7L1097.6 1200.2L1090.2 1200.2Z"/>
<path d="M1099.5 1213.7L1103.2 1206.3L1095.8 1206.3Z"/>
<path d="M1105.6 1204.6L1109.3 1197.2L1101.9 1197.2Z"/>
<path d="M952.4 1226.8L956.1 1219.4L948.7 1219.4Z"/>
<path d="M996.7 1226.8L1000.4 1219.4L993.0 1219.4Z"/>
<path d="M977.0 1233.9L980.7 1226.5L973.3 1226.5Z"/>
<path d="M980.0 1232.9L983.7 1225.5L976.3 1225.5Z"/>
<path d="M996.1 1238.9L999.8 1231.5L992.4 1231.5Z"/>
<path d="M985.6 1243.9L989.3 1236.5L981.9 1236.5Z"/>
<path d="M1046.5 1232.9L1050.2 1225.5L1042.8 1225.5Z"/>
<path d="M1052.6 1234.9L1056.3 1227.5L1048.9 1227.5Z"/>
<path d="M1057.6 1230.8L1061.3 1223.4L1053.9 1223.4Z"/>
<path d="M1059.6 1231.8L1063.3 1224.4L1055.9 1224.4Z"/>
<path d="M1067.7 1229.8L1071.4 1222.4L1064.0 1222.4Z"/>
<path d="M1050.5 1241.9L1054.2 1234.5L1046.8 1234.5Z"/>
<path d="M1051.5 1239.9L1055.2 1232.5L1047.8 1232.5Z"/>
<path d="M1031.0 1244.9L1034.7 1237.5L1027.3 1237.5Z"/>
<path d="M1065.7 1248.0L1069.4 1240.6L1062.0 1240.6Z"/>
<path d="M1086.8 1248.0L1090.5 1240.6L1083.1 1240.6Z"/>
<path d="M1090.8 1248.0L1094.5 1240.6L1087.1 1240.6Z"/>
<path d="M1093.9 1258.0L1097.6 1250.6L1090.2 1250.6Z"/>
<path d="M1098.9 1254.0L1102.6 1246.6L1095.2 1246.6Z"/>
<path d="M1043.5 1256.0L1047.2 1248.6L1039.8 1248.6Z"/>
<path d="M1002.8 1269.1L1006.5 1261.7L999.1 1261.7Z"/>
<path d="M1066.7 1276.8L1070.4 1269.4L1063.0 1269.4Z"/>
<path d="M1099.5 1291.9L1103.2 1284.5L1095.8 1284.5Z"/>
<path d="M1198.9 1109.9L1202.6 1102.5L1195.2 1102.5Z"/>
<path d="M1217.4 1125.0L1221.1 1117.6L1213.7 1117.6Z"/>
<path d="M1223.9 1131.1L1227.6 1123.7L1220.2 1123.7Z"/>
<path d="M1110.6 1138.1L1114.3 1130.7L1106.9 1130.7Z"/>
<path d="M1115.0 1147.8L1118.8 1140.4L1111.3 1140.4Z"/>
<path d="M1133.2 1143.2L1136.9 1135.8L1129.5 1135.8Z"/>
<path d="M1134.4 1149.2L1138.1 1141.8L1130.7 1141.8Z"/>
<path d="M1173.5 1145.2L1177.2 1137.8L1169.8 1137.8Z"/>
<path d="M1198.3 1142.5L1202.0 1135.1L1194.6 1135.1Z"/>
<path d="M1205.0 1151.2L1208.7 1143.8L1201.2 1143.8Z"/>
<path d="M1120.3 1163.3L1124.0 1155.9L1116.6 1155.9Z"/>
<path d="M1116.7 1168.4L1120.4 1161.0L1113.0 1161.0Z"/>
<path d="M1168.7 1163.9L1172.4 1156.5L1165.0 1156.5Z"/>
<path d="M1191.2 1160.3L1194.9 1152.9L1187.5 1152.9Z"/>
<path d="M1189.2 1168.0L1192.9 1160.5L1185.5 1160.5Z"/>
<path d="M1180.6 1176.4L1184.3 1169.0L1176.9 1169.0Z"/>
<path d="M1130.2 1176.8L1133.9 1169.4L1126.5 1169.4Z"/>
<path d="M1130.8 1179.4L1134.5 1172.0L1127.1 1172.0Z"/>
<path d="M1127.8 1183.5L1131.5 1176.1L1124.0 1176.1Z"/>
<path d="M1121.7 1183.1L1125.4 1175.7L1118.0 1175.7Z"/>
<path d="M1131.8 1188.5L1135.5 1181.1L1128.1 1181.1Z"/>
<path d="M1114.0 1187.5L1117.8 1180.1L1110.3 1180.1Z"/>
<path d="M1115.7 1193.5L1119.4 1186.1L1112.0 1186.1Z"/>
<path d="M1118.1 1200.6L1121.8 1193.2L1114.4 1193.2Z"/>
<path d="M1152.5 1183.5L1156.2 1176.1L1148.8 1176.1Z"/>
<path d="M1155.0 1184.5L1158.7 1177.1L1151.3 1177.1Z"/>
<path d="M1162.6 1189.5L1166.3 1182.1L1158.9 1182.1Z"/>
<path d="M1180.6 1186.5L1184.3 1179.1L1176.9 1179.1Z"/>
<path d="M1174.1 1195.6L1177.8 1188.2L1170.4 1188.2Z"/>
<path d="M1143.9 1200.6L1147.6 1193.2L1140.2 1193.2Z"/>
<path d="M1149.5 1206.0L1153.2 1198.6L1145.8 1198.6Z"/>
<path d="M1165.4 1203.0L1169.1 1195.6L1161.7 1195.6Z"/>
<path d="M1124.7 1202.2L1128.4 1194.8L1121.0 1194.8Z"/>
<path d="M1128.8 1204.6L1132.5 1197.2L1125.1 1197.2Z"/>
<path d="M1127.8 1212.7L1131.5 1205.3L1124.0 1205.3Z"/>
<path d="M1123.7 1212.7L1127.4 1205.3L1120.0 1205.3Z"/>
<path d="M1112.2 1211.7L1115.9 1204.3L1108.5 1204.3Z"/>
<path d="M1111.6 1215.7L1115.3 1208.3L1107.9 1208.3Z"/>
<path d="M1137.8 1212.7L1141.5 1205.3L1134.1 1205.3Z"/>
<path d="M1139.8 1212.7L1143.5 1205.3L1136.1 1205.3Z"/>
<path d="M1165.4 1217.7L1169.1 1210.3L1161.7 1210.3Z"/>
<path d="M1179.5 1223.2L1183.2 1215.8L1175.8 1215.8Z"/>
<path d="M1138.8 1229.8L1142.5 1222.4L1135.1 1222.4Z"/>
<path d="M1172.1 1233.9L1175.8 1226.5L1168.4 1226.5Z"/>
<path d="M1128.2 1243.5L1131.9 1236.1L1124.5 1236.1Z"/>
<path d="M1138.4 1280.2L1142.1 1272.8L1134.7 1272.8Z"/>
<path d="M887.0 1312.2L890.7 1304.8L883.3 1304.8Z"/>
<path d="M888.8 1312.2L892.5 1304.8L885.1 1304.8Z"/>
<path d="M890.4 1312.2L894.1 1304.8L886.7 1304.8Z"/>
<path d="M891.4 1312.2L895.1 1304.8L887.7 1304.8Z"/>
<path d="M892.9 1312.2L896.6 1304.8L889.2 1304.8Z"/>
<path d="M894.9 1312.2L898.6 1304.8L891.2 1304.8Z"/>
<path d="M896.4 1312.2L900.1 1304.8L892.7 1304.8Z"/>
<path d="M898.5 1312.2L902.2 1304.8L894.8 1304.8Z"/>
<path d="M900.0 1312.2L903.7 1304.8L896.3 1304.8Z"/>
<path d="M901.5 1312.2L905.2 1304.8L897.8 1304.8Z"/>
<path d="M903.1 1312.2L906.8 1304.8L899.4 1304.8Z"/>
<path d="M904.8 1312.2L908.5 1304.8L901.1 1304.8Z"/>
<path d="M905.9 1312.2L909.6 1304.8L902.1 1304.8Z"/>
<path d="M907.7 1312.2L911.4 1304.8L904.0 1304.8Z"/>
<path d="M909.1 1312.2L912.8 1304.8L905.4 1304.8Z"/>
<path d="M911.4 1312.2L915.1 1304.8L907.7 1304.8Z"/>
<path d="M912.2 1312.2L915.9 1304.8L908.5 1304.8Z"/>
<path d="M914.5 1312.2L918.2 1304.8L910.8 1304.8Z"/>
<path d="M915.4 1312.2L919.1 1304.8L911.7 1304.8Z"/>
<path d="M917.6 1312.2L921.3 1304.8L913.9 1304.8Z"/>
<path d="M918.8 1312.2L922.5 1304.8L915.1 1304.8Z"/>
<path d="M920.5 1312.2L924.2 1304.8L916.8 1304.8Z"/>
<path d="M922.5 1312.2L926.2 1304.8L918.8 1304.8Z"/>
<path d="M923.3 1312.2L927.0 1304.8L919.6 1304.8Z"/>
<path d="M925.0 1312.2L928.7 1304.8L921.3 1304.8Z"/>
<path d="M927.4 1312.2L931.1 1304.8L923.7 1304.8Z"/>
<path d="M928.6 1312.2L932.3 1304.8L924.9 1304.8Z"/>
<path d="M929.8 1312.2L933.5 1304.8L926.1 1304.8Z"/>
<path d="M932.3 1312.2L936.0 1304.8L928.6 1304.8Z"/>
<path d="M933.9 1312.2L937.6 1304.8L930.1 1304.8Z"/>
<path d="M934.6 1312.2L938.3 1304.8L930.9 1304.8Z"/>
<path d="M936.5 1312.2L940.2 1304.8L932.8 1304.8Z"/>
<path d="M937.8 1312.2L941.5 1304.8L934.1 1304.8Z"/>
<path d="M939.6 1312.2L943.3 1304.8L935.9 1304.8Z"/>
<path d="M941.5 1312.2L945.2 1304.8L937.8 1304.8Z"/>
<path d="M942.7 1312.2L946.4 1304.8L939.0 1304.8Z"/>
<path d="M944.8 1312.2L948.5 1304.8L941.1 1304.8Z"/>
<path d="M945.8 1312.2L949.5 1304.8L942.0 1304.8Z"/>
<path d="M947.5 1312.2L951.2 1304.8L943.8 1304.8Z"/>
<path d="M949.7 1312.2L953.4 1304.8L946.0 1304.8Z"/>
<path d="M950.9 1312.2L954.6 1304.8L947.2 1304.8Z"/>
<path d="M952.5 1312.2L956.2 1304.8L948.8 1304.8Z"/>
<path d="M954.3 1312.2L958.0 1304.8L950.6 1304.8Z"/>
<path d="M955.8 1312.2L959.5 1304.8L952.1 1304.8Z"/>
<path d="M957.3 1312.2L961.0 1304.8L953.6 1304.8Z"/>
<path d="M958.5 1312.2L962.2 1304.8L954.8 1304.8Z"/>
<path d="M960.8 1312.2L964.5 1304.8L957.1 1304.8Z"/>
<path d="M962.7 1312.2L966.4 1304.8L959.0 1304.8Z"/>
<path d="M964.3 1312.2L968.0 1304.8L960.6 1304.8Z"/>
<path d="M965.6 1312.2L969.3 1304.8L961.9 1304.8Z"/>
<path d="M966.9 1312.2L970.6 1304.8L963.2 1304.8Z"/>
<path d="M968.5 1312.2L972.2 1304.8L964.8 1304.8Z"/>
<path d="M970.4 1312.2L974.1 1304.8L966.7 1304.8Z"/>
<path d="M972.0 1312.2L975.7 1304.8L968.3 1304.8Z"/>
<path d="M973.0 1312.2L976.7 1304.8L969.3 1304.8Z"/>
<path d="M974.7 1312.2L978.4 1304.8L971.0 1304.8Z"/>
<path d="M976.5 1312.2L980.2 1304.8L972.8 1304.8Z"/>
<path d="M978.2 1312.2L981.9 1304.8L974.5 1304.8Z"/>
<path d="M980.1 1312.2L983.8 1304.8L976.4 1304.8Z"/>
<path d="M981.4 1312.2L985.1 1304.8L977.7 1304.8Z"/>
<path d="M982.5 1312.2L986.2 1304.8L978.8 1304.8Z"/>
<path d="M984.9 1312.2L988.6 1304.8L981.2 1304.8Z"/>
<path d="M986.1 1312.2L989.8 1304.8L982.4 1304.8Z"/>
<path d="M987.8 1312.2L991.5 1304.8L984.1 1304.8Z"/>
<path d="M989.1 1312.2L992.8 1304.8L985.4 1304.8Z"/>
<path d="M990.9 1312.2L994.6 1304.8L987.2 1304.8Z"/>
<path d="M992.5 1312.2L996.2 1304.8L988.8 1304.8Z"/>
<path d="M994.5 1312.2L998.2 1304.8L990.8 1304.8Z"/>
<path d="M995.4 1312.2L999.1 1304.8L991.7 1304.8Z"/>
<path d="M997.5 1312.2L1001.2 1304.8L993.8 1304.8Z"/>
<path d="M998.7 1312.2L1002.4 1304.8L995.0 1304.8Z"/>
<path d="M1000.8 1312.2L1004.5 1304.8L997.1 1304.8Z"/>
<path d="M1001.7 1312.2L1005.4 1304.8L998.0 1304.8Z"/>
<path d="M1003.6 1312.2L1007.3 1304.8L999.9 1304.8Z"/>
<path d="M1005.2 1312.2L1008.9 1304.8L1001.5 1304.8Z"/>
<path d="M1007.1 1312.2L1010.8 1304.8L1003.4 1304.8Z"/>
<path d="M1008.1 1312.2L1011.9 1304.8L1004.4 1304.8Z"/>
<path d="M1010.2 1312.2L1013.9 1304.8L1006.5 1304.8Z"/>
<path d="M1011.5 1312.2L1015.2 1304.8L1007.8 1304.8Z"/>
<path d="M1013.2 1312.2L1016.9 1304.8L1009.5 1304.8Z"/>
<path d="M1015.0 1312.2L1018.7 1304.8L1011.3 1304.8Z"/>
<path d="M1017.1 1312.2L1020.8 1304.8L1013.4 1304.8Z"/>
<path d="M1018.2 1312.2L1021.9 1304.8L1014.5 1304.8Z"/>
<path d="M1020.3 1312.2L1024.0 1304.8L1016.6 1304.8Z"/>
<path d="M1021.1 1312.2L1024.8 1304.8L1017.4 1304.8Z"/>
<path d="M1023.4 1312.2L1027.1 1304.8L1019.7 1304.8Z"/>
<path d="M1024.5 1312.2L1028.2 1304.8L1020.8 1304.8Z"/>
<path d="M1025.9 1312.2L1029.6 1304.8L1022.2 1304.8Z"/>
<path d="M1028.0 1312.2L1031.8 1304.8L1024.3 1304.8Z"/>
<path d="M1029.8 1312.2L1033.5 1304.8L1026.1 1304.8Z"/>
<path d="M1030.5 1312.2L1034.2 1304.8L1026.8 1304.8Z"/>
<path d="M1032.4 1312.2L1036.1 1304.8L1028.7 1304.8Z"/>
<path d="M1034.5 1312.2L1038.2 1304.8L1030.8 1304.8Z"/>
<path d="M1035.6 1312.2L1039.3 1304.8L1031.9 1304.8Z"/>
<path d="M1037.1 1312.2L1040.8 1304.8L1033.4 1304.8Z"/>
<path d="M1038.5 1312.2L1042.2 1304.8L1034.8 1304.8Z"/>
<path d="M1040.1 1312.2L1043.8 1304.8L1036.4 1304.8Z"/>
<path d="M1042.3 1312.2L1046.0 1304.8L1038.6 1304.8Z"/>
<path d="M1044.3 1312.2L1048.0 1304.8L1040.6 1304.8Z"/>
<path d="M1045.9 1312.2L1049.6 1304.8L1042.2 1304.8Z"/>
<path d="M1047.0 1312.2L1050.7 1304.8L1043.3 1304.8Z"/>
<path d="M1048.1 1312.2L1051.8 1304.8L1044.4 1304.8Z"/>
<path d="M1050.0 1312.2L1053.7 1304.8L1046.3 1304.8Z"/>
<path d="M1052.1 1312.2L1055.8 1304.8L1048.4 1304.8Z"/>
<path d="M1053.7 1312.2L1057.4 1304.8L1050.0 1304.8Z"/>
<path d="M1055.1 1312.2L1058.8 1304.8L1051.4 1304.8Z"/>
<path d="M1056.3 1312.2L1060.0 1304.8L1052.6 1304.8Z"/>
<path d="M1058.2 1312.2L1061.9 1304.8L1054.5 1304.8Z"/>
<path d="M1059.8 1312.2L1063.5 1304.8L1056.1 1304.8Z"/>
<path d="M1061.5 1312.2L1065.2 1304.8L1057.8 1304.8Z"/>
<path d="M1062.8 1312.2L1066.5 1304.8L1059.1 1304.8Z"/>
<path d="M1065.0 1312.2L1068.8 1304.8L1061.3 1304.8Z"/>
<path d="M1066.6 1312.2L1070.3 1304.8L1062.9 1304.8Z"/>
<path d="M1067.5 1312.2L1071.2 1304.8L1063.8 1304.8Z"/>
<path d="M1069.2 1312.2L1072.9 1304.8L1065.5 1304.8Z"/>
<path d="M1071.4 1312.2L1075.1 1304.8L1067.7 1304.8Z"/>
<path d="M1072.4 1312.2L1076.1 1304.8L1068.7 1304.8Z"/>
<path d="M1074.6 1312.2L1078.3 1304.8L1070.9 1304.8Z"/>
<path d="M1075.8 1312.2L1079.5 1304.8L1072.1 1304.8Z"/>
<path d="M1077.6 1312.2L1081.3 1304.8L1073.9 1304.8Z"/>
<path d="M1079.2 1312.2L1082.9 1304.8L1075.5 1304.8Z"/>
<path d="M1080.3 1312.2L1084.0 1304.8L1076.6 1304.8Z"/>
<path d="M1082.0 1312.2L1085.7 1304.8L1078.3 1304.8Z"/>
<path d="M1083.5 1312.2L1087.2 1304.8L1079.8 1304.8Z"/>
<path d="M1085.6 1312.2L1089.3 1304.8L1081.9 1304.8Z"/>
<path d="M1087.2 1312.2L1090.9 1304.8L1083.5 1304.8Z"/>
<path d="M1088.2 1312.2L1091.9 1304.8L1084.5 1304.8Z"/>
<path d="M1090.6 1312.2L1094.3 1304.8L1086.9 1304.8Z"/>
<path d="M1091.7 1312.2L1095.4 1304.8L1088.0 1304.8Z"/>
<path d="M1093.1 1312.2L1096.8 1304.8L1089.4 1304.8Z"/>
<path d="M1094.9 1312.2L1098.6 1304.8L1091.2 1304.8Z"/>
<path d="M872.0 1312.2L875.7 1304.8L868.3 1304.8Z"/>
<path d="M1101.6 1312.2L1105.3 1304.8L1097.9 1304.8Z"/>
<path d="M1106.6 1312.2L1110.3 1304.8L1102.9 1304.8Z"/>
<path d="M1159.0 1312.2L1162.7 1304.8L1155.3 1304.8Z"/>
</g>
<line x1="873.4" y1="1357.3" x2="1222.3" y2="1162.0" stroke="#727272" stroke-width="1.5"/>
</g>
<text x="34.2" y="1391.6" text-anchor="end" fill="#000" stroke="#fff" stroke-width="0.7" transform="translate(32,0) scale(1.07,1) translate(-32,0)" style="font-family:'Liberation Serif',serif;font-size:39.5px">E</text>
<g>
<rect x="141.25" y="1429.55" width="3.5" height="274.12" fill="#000"/>
<rect x="132.00" y="1700.17" width="11.00" height="3.5" fill="#000"/>
<text x="129.00" y="1708.52" text-anchor="end" style="font-family:'Liberation Serif',serif;font-weight:bold;font-size:18.7px">-20</text>
<rect x="132.00" y="1646.05" width="11.00" height="3.5" fill="#000"/>
<text x="129.00" y="1654.40" text-anchor="end" style="font-family:'Liberation Serif',serif;font-weight:bold;font-size:18.7px">0</text>
<rect x="132.00" y="1591.92" width="11.00" height="3.5" fill="#000"/>
<text x="129.00" y="1600.27" text-anchor="end" style="font-family:'Liberation Serif',serif;font-weight:bold;font-size:18.7px">20</text>
<rect x="132.00" y="1537.80" width="11.00" height="3.5" fill="#000"/>
<text x="129.00" y="1546.15" text-anchor="end" style="font-family:'Liberation Serif',serif;font-weight:bold;font-size:18.7px">40</text>
<rect x="132.00" y="1483.67" width="11.00" height="3.5" fill="#000"/>
<text x="129.00" y="1492.02" text-anchor="end" style="font-family:'Liberation Serif',serif;font-weight:bold;font-size:18.7px">60</text>
<rect x="132.00" y="1429.55" width="11.00" height="3.5" fill="#000"/>
<text x="129.00" y="1437.90" text-anchor="end" style="font-family:'Liberation Serif',serif;font-weight:bold;font-size:18.7px">80</text>
<rect x="143.00" y="1646.05" width="492.75" height="3.5" fill="#000"/>
<rect x="264.00" y="1647.80" width="3.5" height="11.30" fill="#000"/>
<text x="265.75" y="1679.00" text-anchor="middle" style="font-family:'Liberation Serif',serif;font-weight:bold;font-size:18.7px">1</text>
<rect x="386.75" y="1647.80" width="3.5" height="11.30" fill="#000"/>
<text x="388.50" y="1679.00" text-anchor="middle" style="font-family:'Liberation Serif',serif;font-weight:bold;font-size:18.7px">2</text>
<rect x="509.50" y="1647.80" width="3.5" height="11.30" fill="#000"/>
<text x="511.25" y="1679.00" text-anchor="middle" style="font-family:'Liberation Serif',serif;font-weight:bold;font-size:18.7px">3</text>
<rect x="632.25" y="1647.80" width="3.5" height="11.30" fill="#000"/>
<text x="634.00" y="1679.00" text-anchor="middle" style="font-family:'Liberation Serif',serif;font-weight:bold;font-size:18.7px">4</text>
<text x="388.50" y="1711.30" text-anchor="middle" style="font-family:'Liberation Serif',serif;font-weight:bold;font-size:20.7px">S100A12_mRNA</text>
<text transform="translate(91.77,1566.61) rotate(-90)" text-anchor="middle" style="font-family:'Liberation Serif',serif;font-weight:bold;font-size:21px">IL-6 pg/mL</text>
<g fill="#ee8a55" fill-opacity="0.6">
<path d="M187.5 1627.4L191.4 1631.3L187.5 1635.2L183.6 1631.3Z"/>
<path d="M184.8 1635.9L188.7 1639.8L184.8 1643.7L180.9 1639.8Z"/>
<path d="M190.3 1634.6L194.2 1638.5L190.3 1642.4L186.4 1638.5Z"/>
<path d="M211.0 1623.8L214.9 1627.8L211.0 1631.7L207.1 1627.8Z"/>
<path d="M203.4 1637.5L207.3 1641.4L203.4 1645.3L199.5 1641.4Z"/>
<path d="M205.9 1635.9L209.8 1639.8L205.9 1643.7L202.0 1639.8Z"/>
<path d="M216.0 1640.5L219.9 1644.4L216.0 1648.3L212.1 1644.4Z"/>
<path d="M226.8 1626.9L230.7 1630.8L226.8 1634.7L222.9 1630.8Z"/>
<path d="M239.2 1613.3L243.1 1617.2L239.2 1621.1L235.3 1617.2Z"/>
<path d="M266.4 1606.7L270.3 1610.6L266.4 1614.5L262.5 1610.6Z"/>
<path d="M235.2 1623.1L239.1 1627.0L235.2 1631.0L231.3 1627.0Z"/>
<path d="M238.2 1626.4L242.1 1630.3L238.2 1634.2L234.3 1630.3Z"/>
<path d="M242.7 1624.9L246.6 1628.8L242.7 1632.7L238.8 1628.8Z"/>
<path d="M247.2 1625.4L251.2 1629.3L247.2 1633.2L243.3 1629.3Z"/>
<path d="M249.8 1624.4L253.7 1628.3L249.8 1632.2L245.9 1628.3Z"/>
<path d="M252.8 1623.8L256.7 1627.8L252.8 1631.7L248.9 1627.8Z"/>
<path d="M255.8 1625.9L259.7 1629.8L255.8 1633.7L251.9 1629.8Z"/>
<path d="M258.3 1625.9L262.2 1629.8L258.3 1633.7L254.4 1629.8Z"/>
<path d="M263.9 1622.3L267.8 1626.2L263.9 1630.1L260.0 1626.2Z"/>
<path d="M265.9 1624.4L269.8 1628.3L265.9 1632.2L262.0 1628.3Z"/>
<path d="M272.4 1624.4L276.3 1628.3L272.4 1632.2L268.5 1628.3Z"/>
<path d="M275.0 1625.9L278.9 1629.8L275.0 1633.7L271.1 1629.8Z"/>
<path d="M279.0 1615.3L282.9 1619.2L279.0 1623.1L275.1 1619.2Z"/>
<path d="M279.0 1624.4L282.9 1628.3L279.0 1632.2L275.1 1628.3Z"/>
<path d="M228.1 1635.4L232.0 1639.3L228.1 1643.2L224.2 1639.3Z"/>
<path d="M232.1 1636.4L236.0 1640.3L232.1 1644.2L228.2 1640.3Z"/>
<path d="M233.6 1635.4L237.5 1639.3L233.6 1643.2L229.7 1639.3Z"/>
<path d="M242.7 1636.4L246.6 1640.3L242.7 1644.2L238.8 1640.3Z"/>
<path d="M245.2 1642.0L249.1 1645.9L245.2 1649.8L241.3 1645.9Z"/>
<path d="M249.8 1640.5L253.7 1644.4L249.8 1648.3L245.9 1644.4Z"/>
<path d="M251.8 1635.4L255.7 1639.3L251.8 1643.2L247.9 1639.3Z"/>
<path d="M255.3 1637.5L259.2 1641.4L255.3 1645.3L251.4 1641.4Z"/>
<path d="M260.9 1633.4L264.8 1637.3L260.9 1641.2L257.0 1637.3Z"/>
<path d="M264.4 1635.4L268.3 1639.3L264.4 1643.2L260.5 1639.3Z"/>
<path d="M266.9 1638.5L270.8 1642.4L266.9 1646.3L263.0 1642.4Z"/>
<path d="M269.9 1641.0L273.8 1644.9L269.9 1648.8L266.0 1644.9Z"/>
<path d="M271.4 1633.4L275.3 1637.3L271.4 1641.2L267.5 1637.3Z"/>
<path d="M279.0 1632.4L282.9 1636.3L279.0 1640.2L275.1 1636.3Z"/>
<path d="M279.0 1643.5L282.9 1647.4L279.0 1651.3L275.1 1647.4Z"/>
<path d="M289.6 1604.2L293.5 1608.1L289.6 1612.0L285.7 1608.1Z"/>
<path d="M287.1 1610.8L290.9 1614.7L287.1 1618.6L283.2 1614.7Z"/>
<path d="M281.5 1615.3L285.4 1619.2L281.5 1623.1L277.6 1619.2Z"/>
<path d="M287.1 1618.3L290.9 1622.2L287.1 1626.1L283.2 1622.2Z"/>
<path d="M282.0 1631.4L285.9 1635.3L282.0 1639.2L278.1 1635.3Z"/>
<path d="M283.0 1638.5L286.9 1642.4L283.0 1646.3L279.1 1642.4Z"/>
<path d="M284.0 1644.0L287.9 1647.9L284.0 1651.8L280.1 1647.9Z"/>
<path d="M289.1 1624.4L293.0 1628.3L289.1 1632.2L285.2 1628.3Z"/>
<path d="M295.1 1621.3L299.0 1625.2L295.1 1629.1L291.2 1625.2Z"/>
<path d="M299.6 1615.3L303.5 1619.2L299.6 1623.1L295.8 1619.2Z"/>
<path d="M301.7 1616.3L305.6 1620.2L301.7 1624.1L297.8 1620.2Z"/>
<path d="M306.7 1611.8L310.6 1615.7L306.7 1619.6L302.8 1615.7Z"/>
<path d="M315.3 1611.8L319.2 1615.7L315.3 1619.6L311.4 1615.7Z"/>
<path d="M312.2 1618.3L316.1 1622.2L312.2 1626.1L308.4 1622.2Z"/>
<path d="M304.2 1623.3L308.1 1627.2L304.2 1631.2L300.3 1627.2Z"/>
<path d="M308.2 1625.9L312.1 1629.8L308.2 1633.7L304.3 1629.8Z"/>
<path d="M312.8 1629.4L316.6 1633.3L312.8 1637.2L308.9 1633.3Z"/>
<path d="M293.1 1632.4L297.0 1636.3L293.1 1640.2L289.2 1636.3Z"/>
<path d="M298.1 1629.4L302.0 1633.3L298.1 1637.2L294.2 1633.3Z"/>
<path d="M303.2 1632.4L307.1 1636.3L303.2 1640.2L299.3 1636.3Z"/>
<path d="M296.6 1640.5L300.5 1644.4L296.6 1648.3L292.7 1644.4Z"/>
<path d="M304.2 1640.0L308.1 1643.9L304.2 1647.8L300.3 1643.9Z"/>
<path d="M318.3 1623.8L322.2 1627.8L318.3 1631.7L314.4 1627.8Z"/>
<path d="M324.3 1624.9L328.2 1628.8L324.3 1632.7L320.4 1628.8Z"/>
<path d="M327.4 1613.8L331.3 1617.7L327.4 1621.6L323.5 1617.7Z"/>
<path d="M327.9 1620.3L331.8 1624.2L327.9 1628.1L324.0 1624.2Z"/>
<path d="M332.4 1624.4L336.3 1628.3L332.4 1632.2L328.5 1628.3Z"/>
<path d="M336.4 1610.8L340.3 1614.7L336.4 1618.6L332.5 1614.7Z"/>
<path d="M338.4 1618.3L342.3 1622.2L338.4 1626.1L334.6 1622.2Z"/>
<path d="M342.5 1617.8L346.4 1621.7L342.5 1625.6L338.6 1621.7Z"/>
<path d="M336.4 1630.4L340.3 1634.3L336.4 1638.2L332.5 1634.3Z"/>
<path d="M330.4 1631.4L334.3 1635.3L330.4 1639.2L326.5 1635.3Z"/>
<path d="M324.3 1636.4L328.2 1640.3L324.3 1644.2L320.4 1640.3Z"/>
<path d="M331.4 1640.5L335.3 1644.4L331.4 1648.3L327.5 1644.4Z"/>
<path d="M338.4 1631.4L342.3 1635.3L338.4 1639.2L334.6 1635.3Z"/>
<path d="M343.5 1634.4L347.4 1638.3L343.5 1642.2L339.6 1638.3Z"/>
<path d="M344.5 1637.5L348.4 1641.4L344.5 1645.3L340.6 1641.4Z"/>
<path d="M346.5 1628.4L350.4 1632.3L346.5 1636.2L342.6 1632.3Z"/>
<path d="M350.5 1621.3L354.4 1625.2L350.5 1629.1L346.6 1625.2Z"/>
<path d="M352.6 1617.3L356.5 1621.2L352.6 1625.1L348.7 1621.2Z"/>
<path d="M352.1 1606.7L355.9 1610.6L352.1 1614.5L348.2 1610.6Z"/>
<path d="M349.5 1623.3L353.4 1627.2L349.5 1631.2L345.6 1627.2Z"/>
<path d="M359.6 1614.8L363.5 1618.7L359.6 1622.6L355.7 1618.7Z"/>
<path d="M362.6 1617.8L366.5 1621.7L362.6 1625.6L358.7 1621.7Z"/>
<path d="M365.2 1610.2L369.1 1614.2L365.2 1618.1L361.3 1614.2Z"/>
<path d="M368.7 1615.3L372.6 1619.2L368.7 1623.1L364.8 1619.2Z"/>
<path d="M371.7 1611.8L375.6 1615.7L371.7 1619.6L367.8 1615.7Z"/>
<path d="M372.7 1618.3L376.6 1622.2L372.7 1626.1L368.8 1622.2Z"/>
<path d="M360.6 1623.3L364.5 1627.2L360.6 1631.2L356.7 1627.2Z"/>
<path d="M363.6 1626.4L367.5 1630.3L363.6 1634.2L359.7 1630.3Z"/>
<path d="M369.7 1623.3L373.6 1627.2L369.7 1631.2L365.8 1627.2Z"/>
<path d="M373.7 1624.4L377.6 1628.3L373.7 1632.2L369.8 1628.3Z"/>
<path d="M376.7 1620.3L380.6 1624.2L376.7 1628.1L372.8 1624.2Z"/>
<path d="M380.8 1624.4L384.7 1628.3L380.8 1632.2L376.9 1628.3Z"/>
<path d="M382.8 1609.2L386.7 1613.1L382.8 1617.0L378.9 1613.1Z"/>
<path d="M385.8 1613.3L389.7 1617.2L385.8 1621.1L381.9 1617.2Z"/>
<path d="M388.8 1614.3L392.7 1618.2L388.8 1622.1L384.9 1618.2Z"/>
<path d="M387.8 1620.3L391.7 1624.2L387.8 1628.1L383.9 1624.2Z"/>
<path d="M392.9 1620.3L396.8 1624.2L392.9 1628.1L389.0 1624.2Z"/>
<path d="M396.9 1616.3L400.8 1620.2L396.9 1624.1L393.0 1620.2Z"/>
<path d="M398.9 1610.8L402.8 1614.7L398.9 1618.6L395.0 1614.7Z"/>
<path d="M406.0 1615.8L409.9 1619.7L406.0 1623.6L402.1 1619.7Z"/>
<path d="M407.0 1620.3L410.9 1624.2L407.0 1628.1L403.1 1624.2Z"/>
<path d="M400.9 1623.3L404.8 1627.2L400.9 1631.2L397.0 1627.2Z"/>
<path d="M403.9 1627.4L407.8 1631.3L403.9 1635.2L400.1 1631.3Z"/>
<path d="M396.9 1626.4L400.8 1630.3L396.9 1634.2L393.0 1630.3Z"/>
<path d="M391.9 1624.4L395.8 1628.3L391.9 1632.2L388.0 1628.3Z"/>
<path d="M380.8 1630.4L384.7 1634.3L380.8 1638.2L376.9 1634.3Z"/>
<path d="M376.7 1630.4L380.6 1634.3L376.7 1638.2L372.8 1634.3Z"/>
<path d="M374.7 1637.5L378.6 1641.4L374.7 1645.3L370.8 1641.4Z"/>
<path d="M369.7 1641.0L373.6 1644.9L369.7 1648.8L365.8 1644.9Z"/>
<path d="M362.1 1643.5L366.0 1647.4L362.1 1651.3L358.2 1647.4Z"/>
<path d="M357.6 1635.9L361.5 1639.8L357.6 1643.7L353.7 1639.8Z"/>
<path d="M387.8 1632.4L391.7 1636.3L387.8 1640.2L383.9 1636.3Z"/>
<path d="M391.9 1633.4L395.8 1637.3L391.9 1641.2L388.0 1637.3Z"/>
<path d="M395.9 1631.4L399.8 1635.3L395.9 1639.2L392.0 1635.3Z"/>
<path d="M396.9 1637.5L400.8 1641.4L396.9 1645.3L393.0 1641.4Z"/>
<path d="M400.9 1634.4L404.8 1638.3L400.9 1642.2L397.0 1638.3Z"/>
<path d="M406.0 1600.2L409.9 1604.1L406.0 1608.0L402.1 1604.1Z"/>
<path d="M409.0 1624.4L412.9 1628.3L409.0 1632.2L405.1 1628.3Z"/>
<path d="M448.3 1600.0L452.2 1603.9L448.3 1607.8L444.4 1603.9Z"/>
<path d="M417.3 1606.7L421.2 1610.6L417.3 1614.5L413.4 1610.6Z"/>
<path d="M424.9 1604.2L428.8 1608.1L424.9 1612.0L421.0 1608.1Z"/>
<path d="M413.0 1617.3L416.9 1621.2L413.0 1625.1L409.1 1621.2Z"/>
<path d="M415.0 1618.3L418.9 1622.2L415.0 1626.1L411.1 1622.2Z"/>
<path d="M417.6 1620.3L421.5 1624.2L417.6 1628.1L413.7 1624.2Z"/>
<path d="M420.1 1619.8L424.0 1623.7L420.1 1627.6L416.2 1623.7Z"/>
<path d="M412.0 1624.4L415.9 1628.3L412.0 1632.2L408.1 1628.3Z"/>
<path d="M416.1 1622.3L419.9 1626.2L416.1 1630.1L412.2 1626.2Z"/>
<path d="M418.6 1629.4L422.5 1633.3L418.6 1637.2L414.7 1633.3Z"/>
<path d="M423.1 1631.4L427.0 1635.3L423.1 1639.2L419.2 1635.3Z"/>
<path d="M425.1 1633.4L429.0 1637.3L425.1 1641.2L421.2 1637.3Z"/>
<path d="M422.1 1637.5L426.0 1641.4L422.1 1645.3L418.2 1641.4Z"/>
<path d="M427.1 1614.8L431.0 1618.7L427.1 1622.6L423.2 1618.7Z"/>
<path d="M430.2 1617.3L434.1 1621.2L430.2 1625.1L426.3 1621.2Z"/>
<path d="M426.6 1622.3L430.5 1626.2L426.6 1630.1L422.7 1626.2Z"/>
<path d="M431.7 1626.4L435.6 1630.3L431.7 1634.2L427.8 1630.3Z"/>
<path d="M438.2 1620.8L442.1 1624.7L438.2 1628.6L434.3 1624.7Z"/>
<path d="M438.2 1631.9L442.1 1635.8L438.2 1639.7L434.3 1635.8Z"/>
<path d="M446.8 1613.8L450.7 1617.7L446.8 1621.6L442.9 1617.7Z"/>
<path d="M447.3 1619.3L451.2 1623.2L447.3 1627.1L443.4 1623.2Z"/>
<path d="M446.3 1626.4L450.2 1630.3L446.3 1634.2L442.4 1630.3Z"/>
<path d="M450.3 1626.9L454.2 1630.8L450.3 1634.7L446.4 1630.8Z"/>
<path d="M455.4 1618.3L459.2 1622.2L455.4 1626.1L451.5 1622.2Z"/>
<path d="M457.4 1619.8L461.3 1623.7L457.4 1627.6L453.5 1623.7Z"/>
<path d="M460.4 1620.3L464.3 1624.2L460.4 1628.1L456.5 1624.2Z"/>
<path d="M462.4 1618.8L466.3 1622.7L462.4 1626.6L458.5 1622.7Z"/>
<path d="M460.4 1627.4L464.3 1631.3L460.4 1635.2L456.5 1631.3Z"/>
<path d="M464.4 1629.4L468.3 1633.3L464.4 1637.2L460.5 1633.3Z"/>
<path d="M467.9 1616.3L471.8 1620.2L467.9 1624.1L464.1 1620.2Z"/>
<path d="M472.5 1620.3L476.4 1624.2L472.5 1628.1L468.6 1624.2Z"/>
<path d="M470.5 1623.3L474.4 1627.2L470.5 1631.2L466.6 1627.2Z"/>
<path d="M469.5 1630.4L473.4 1634.3L469.5 1638.2L465.6 1634.3Z"/>
<path d="M472.5 1632.4L476.4 1636.3L472.5 1640.2L468.6 1636.3Z"/>
<path d="M472.0 1636.4L475.9 1640.3L472.0 1644.2L468.1 1640.3Z"/>
<path d="M477.5 1626.9L481.4 1630.8L477.5 1634.7L473.6 1630.8Z"/>
<path d="M480.5 1627.9L484.4 1631.8L480.5 1635.7L476.6 1631.8Z"/>
<path d="M482.6 1616.8L486.5 1620.7L482.6 1624.6L478.7 1620.7Z"/>
<path d="M485.6 1620.3L489.5 1624.2L485.6 1628.1L481.7 1624.2Z"/>
<path d="M486.6 1623.3L490.5 1627.2L486.6 1631.2L482.7 1627.2Z"/>
<path d="M488.6 1625.4L492.5 1629.3L488.6 1633.2L484.7 1629.3Z"/>
<path d="M491.6 1623.3L495.5 1627.2L491.6 1631.2L487.7 1627.2Z"/>
<path d="M486.6 1629.4L490.5 1633.3L486.6 1637.2L482.7 1633.3Z"/>
<path d="M482.6 1633.4L486.5 1637.3L482.6 1641.2L478.7 1637.3Z"/>
<path d="M492.6 1634.9L496.5 1638.8L492.6 1642.7L488.7 1638.8Z"/>
<path d="M496.2 1628.4L500.1 1632.3L496.2 1636.2L492.3 1632.3Z"/>
<path d="M502.2 1619.8L506.1 1623.7L502.2 1627.6L498.3 1623.7Z"/>
<path d="M514.8 1620.3L518.7 1624.2L514.8 1628.1L510.9 1624.2Z"/>
<path d="M516.8 1621.3L520.7 1625.2L516.8 1629.1L512.9 1625.2Z"/>
<path d="M522.9 1618.3L526.8 1622.2L522.9 1626.1L519.0 1622.2Z"/>
<path d="M524.9 1619.8L528.8 1623.7L524.9 1627.6L521.0 1623.7Z"/>
<path d="M529.4 1620.8L533.3 1624.7L529.4 1628.6L525.5 1624.7Z"/>
<path d="M518.3 1628.9L522.2 1632.8L518.3 1636.7L514.4 1632.8Z"/>
<path d="M506.7 1635.9L510.6 1639.8L506.7 1643.7L502.8 1639.8Z"/>
<path d="M511.8 1634.4L515.7 1638.3L511.8 1642.2L507.9 1638.3Z"/>
<path d="M461.9 1642.0L465.8 1645.9L461.9 1649.8L458.0 1645.9Z"/>
<path d="M243.1 1498.1L247.0 1502.0L243.1 1505.9L239.2 1502.0Z"/>
<path d="M343.9 1483.6L347.8 1487.5L343.9 1491.4L340.0 1487.5Z"/>
<path d="M347.5 1493.1L351.4 1497.0L347.5 1500.9L343.6 1497.0Z"/>
<path d="M360.6 1497.3L364.5 1501.2L360.6 1505.1L356.7 1501.2Z"/>
<path d="M368.3 1499.3L372.2 1503.2L368.3 1507.1L364.4 1503.2Z"/>
<path d="M375.7 1498.7L379.6 1502.6L375.7 1506.5L371.8 1502.6Z"/>
<path d="M391.5 1508.2L395.4 1512.1L391.5 1516.0L387.6 1512.1Z"/>
<path d="M408.0 1498.7L411.9 1502.6L408.0 1506.5L404.1 1502.6Z"/>
<path d="M349.9 1588.0L353.8 1591.9L349.9 1595.8L346.0 1591.9Z"/>
<path d="M421.2 1498.3L425.1 1502.2L421.2 1506.1L417.3 1502.2Z"/>
<path d="M423.8 1508.4L427.7 1512.3L423.8 1516.2L419.9 1512.3Z"/>
<path d="M423.2 1493.7L427.1 1497.6L423.2 1501.5L419.3 1497.6Z"/>
<path d="M427.2 1493.7L431.1 1497.6L427.2 1501.5L423.3 1497.6Z"/>
<path d="M432.2 1494.7L436.1 1498.6L432.2 1502.5L428.4 1498.6Z"/>
<path d="M436.9 1499.1L440.8 1503.0L436.9 1506.9L433.0 1503.0Z"/>
<path d="M448.0 1484.6L451.9 1488.5L448.0 1492.4L444.1 1488.5Z"/>
<path d="M448.4 1494.7L452.3 1498.6L448.4 1502.5L444.5 1498.6Z"/>
<path d="M452.4 1493.7L456.3 1497.6L452.4 1501.5L448.5 1497.6Z"/>
<path d="M455.4 1493.3L459.3 1497.2L455.4 1501.1L451.5 1497.2Z"/>
<path d="M464.1 1499.7L468.0 1503.6L464.1 1507.5L460.2 1503.6Z"/>
<path d="M467.5 1492.7L471.4 1496.6L467.5 1500.5L463.6 1496.6Z"/>
<path d="M469.1 1508.2L473.0 1512.1L469.1 1516.0L465.2 1512.1Z"/>
<path d="M475.6 1496.7L479.5 1500.6L475.6 1504.5L471.7 1500.6Z"/>
<path d="M479.2 1494.1L483.1 1498.0L479.2 1501.9L475.3 1498.0Z"/>
<path d="M491.3 1508.2L495.2 1512.1L491.3 1516.0L487.4 1512.1Z"/>
<path d="M495.7 1494.7L499.6 1498.6L495.7 1502.5L491.8 1498.6Z"/>
<path d="M497.4 1507.8L501.2 1511.7L497.4 1515.6L493.5 1511.7Z"/>
<path d="M501.8 1500.8L505.7 1504.7L501.8 1508.6L497.9 1504.7Z"/>
<path d="M503.8 1492.7L507.7 1496.6L503.8 1500.5L499.9 1496.6Z"/>
<path d="M515.9 1507.8L519.8 1511.7L515.9 1515.6L512.0 1511.7Z"/>
<path d="M518.3 1499.7L522.2 1503.6L518.3 1507.5L514.4 1503.6Z"/>
<path d="M538.1 1502.8L542.0 1506.7L538.1 1510.6L534.2 1506.7Z"/>
<path d="M540.5 1508.2L544.4 1512.1L540.5 1516.0L536.6 1512.1Z"/>
<path d="M547.7 1496.1L551.6 1500.0L547.7 1503.9L543.8 1500.0Z"/>
<path d="M552.8 1494.1L556.7 1498.0L552.8 1501.9L548.9 1498.0Z"/>
<path d="M552.8 1507.2L556.7 1511.1L552.8 1515.0L548.9 1511.1Z"/>
<path d="M575.0 1487.0L578.9 1491.0L575.0 1494.9L571.1 1491.0Z"/>
<path d="M428.8 1547.5L432.7 1551.4L428.8 1555.3L424.9 1551.4Z"/>
<path d="M547.7 1619.3L551.6 1623.2L547.7 1627.1L543.8 1623.2Z"/>
<path d="M544.7 1625.7L548.6 1629.6L544.7 1633.5L540.8 1629.6Z"/>
<path d="M543.5 1628.7L547.4 1632.6L543.5 1636.5L539.6 1632.6Z"/>
<path d="M580.0 1637.2L583.9 1641.1L580.0 1645.0L576.1 1641.1Z"/>
<path d="M286.9 1612.3L290.8 1616.2L286.9 1620.1L283.0 1616.2Z"/>
<path d="M388.2 1621.3L392.1 1625.2L388.2 1629.1L384.3 1625.2Z"/>
<path d="M414.2 1622.9L418.1 1626.8L414.2 1630.7L410.3 1626.8Z"/>
<path d="M241.8 1634.7L245.7 1638.6L241.8 1642.5L237.9 1638.6Z"/>
<path d="M369.2 1494.7L373.1 1498.6L369.2 1502.5L365.3 1498.6Z"/>
<path d="M286.9 1608.4L290.8 1612.3L286.9 1616.2L283.0 1612.3Z"/>
<path d="M423.1 1491.2L427.0 1495.1L423.1 1499.0L419.2 1495.1Z"/>
<path d="M179.1 1628.1L183.0 1632.0L179.1 1635.9L175.2 1632.0Z"/>
<path d="M404.5 1622.9L408.4 1626.8L404.5 1630.7L400.6 1626.8Z"/>
<path d="M528.8 1621.2L532.7 1625.1L528.8 1629.0L524.9 1625.1Z"/>
<path d="M499.6 1501.2L503.5 1505.1L499.6 1509.0L495.7 1505.1Z"/>
<path d="M370.1 1619.5L374.0 1623.4L370.1 1627.3L366.2 1623.4Z"/>
<path d="M431.6 1619.5L435.5 1623.4L431.6 1627.3L427.7 1623.4Z"/>
<path d="M383.1 1625.2L387.0 1629.1L383.1 1633.0L379.2 1629.1Z"/>
<path d="M420.4 1619.2L424.3 1623.1L420.4 1627.0L416.5 1623.1Z"/>
<path d="M429.8 1620.2L433.7 1624.1L429.8 1628.0L425.9 1624.1Z"/>
<path d="M361.8 1623.4L365.7 1627.3L361.8 1631.2L357.9 1627.3Z"/>
<path d="M311.1 1624.9L315.0 1628.8L311.1 1632.7L307.2 1628.8Z"/>
<path d="M480.4 1627.4L484.3 1631.3L480.4 1635.2L476.5 1631.3Z"/>
<path d="M405.1 1621.5L409.0 1625.4L405.1 1629.3L401.2 1625.4Z"/>
<path d="M260.1 1632.8L264.0 1636.7L260.1 1640.6L256.2 1636.7Z"/>
<path d="M415.1 1623.3L419.0 1627.2L415.1 1631.1L411.2 1627.2Z"/>
<path d="M505.3 1495.8L509.2 1499.7L505.3 1503.6L501.4 1499.7Z"/>
<path d="M442.6 1629.2L446.5 1633.1L442.6 1637.0L438.7 1633.1Z"/>
<path d="M477.9 1622.3L481.8 1626.2L477.9 1630.1L474.0 1626.2Z"/>
<path d="M340.2 1625.2L344.1 1629.1L340.2 1633.0L336.3 1629.1Z"/>
<path d="M239.5 1627.1L243.4 1631.0L239.5 1634.9L235.6 1631.0Z"/>
<path d="M370.5 1620.0L374.4 1623.9L370.5 1627.8L366.6 1623.9Z"/>
<path d="M322.3 1614.2L326.2 1618.1L322.3 1622.0L318.4 1618.1Z"/>
<path d="M397.0 1627.8L400.9 1631.7L397.0 1635.6L393.1 1631.7Z"/>
<path d="M347.1 1627.6L351.0 1631.5L347.1 1635.4L343.2 1631.5Z"/>
<path d="M495.9 1495.6L499.8 1499.5L495.9 1503.4L492.0 1499.5Z"/>
<path d="M254.2 1623.1L258.1 1627.0L254.2 1630.9L250.3 1627.0Z"/>
<path d="M314.9 1616.8L318.8 1620.7L314.9 1624.6L311.0 1620.7Z"/>
<path d="M458.3 1615.9L462.2 1619.8L458.3 1623.7L454.4 1619.8Z"/>
<path d="M397.5 1623.7L401.4 1627.6L397.5 1631.5L393.6 1627.6Z"/>
<path d="M484.8 1624.5L488.7 1628.4L484.8 1632.3L480.9 1628.4Z"/>
<path d="M367.6 1617.8L371.5 1621.7L367.6 1625.6L363.7 1621.7Z"/>
<path d="M388.1 1633.3L392.0 1637.2L388.1 1641.1L384.2 1637.2Z"/>
<path d="M450.1 1623.3L454.0 1627.2L450.1 1631.1L446.2 1627.2Z"/>
<path d="M331.3 1638.0L335.2 1641.9L331.3 1645.8L327.4 1641.9Z"/>
<path d="M397.3 1633.6L401.2 1637.5L397.3 1641.4L393.4 1637.5Z"/>
<path d="M483.7 1640.7L487.6 1644.6L483.7 1648.5L479.8 1644.6Z"/>
<path d="M482.4 1630.3L486.3 1634.2L482.4 1638.1L478.5 1634.2Z"/>
<path d="M243.7 1640.3L247.6 1644.2L243.7 1648.1L239.8 1644.2Z"/>
<path d="M489.6 1624.2L493.5 1628.1L489.6 1632.0L485.7 1628.1Z"/>
<path d="M440.9 1614.4L444.8 1618.3L440.9 1622.2L437.0 1618.3Z"/>
<path d="M402.5 1612.6L406.4 1616.5L402.5 1620.4L398.6 1616.5Z"/>
<path d="M545.4 1634.8L549.3 1638.7L545.4 1642.6L541.5 1638.7Z"/>
<path d="M247.1 1641.4L251.0 1645.3L247.1 1649.2L243.2 1645.3Z"/>
<path d="M496.7 1507.9L500.6 1511.8L496.7 1515.7L492.8 1511.8Z"/>
<path d="M366.9 1621.0L370.8 1624.9L366.9 1628.8L363.0 1624.9Z"/>
<path d="M280.6 1624.3L284.5 1628.2L280.6 1632.1L276.7 1628.2Z"/>
<path d="M324.1 1619.7L328.0 1623.6L324.1 1627.5L320.2 1623.6Z"/>
<path d="M299.3 1611.3L303.2 1615.2L299.3 1619.1L295.4 1615.2Z"/>
<path d="M518.7 1622.5L522.6 1626.4L518.7 1630.3L514.8 1626.4Z"/>
<path d="M392.8 1624.4L396.7 1628.3L392.8 1632.2L388.9 1628.3Z"/>
<path d="M302.0 1624.8L305.9 1628.7L302.0 1632.6L298.1 1628.7Z"/>
<path d="M340.6 1633.4L344.5 1637.3L340.6 1641.2L336.7 1637.3Z"/>
<path d="M433.9 1614.8L437.8 1618.7L433.9 1622.6L430.0 1618.7Z"/>
<path d="M412.7 1630.4L416.6 1634.3L412.7 1638.2L408.8 1634.3Z"/>
<path d="M270.3 1630.5L274.2 1634.4L270.3 1638.3L266.4 1634.4Z"/>
<path d="M403.7 1625.6L407.6 1629.5L403.7 1633.4L399.8 1629.5Z"/>
<path d="M358.5 1618.8L362.4 1622.7L358.5 1626.6L354.6 1622.7Z"/>
<path d="M544.7 1620.6L548.6 1624.5L544.7 1628.4L540.8 1624.5Z"/>
<path d="M305.7 1627.3L309.6 1631.2L305.7 1635.1L301.8 1631.2Z"/>
<path d="M225.8 1625.5L229.7 1629.4L225.8 1633.3L221.9 1629.4Z"/>
<path d="M493.4 1628.2L497.3 1632.1L493.4 1636.0L489.5 1632.1Z"/>
</g>
<line x1="198.2" y1="1647.8" x2="578.8" y2="1570.7" stroke="#727272" stroke-width="1.5"/>
</g>
<g>
<rect x="781.35" y="1429.55" width="3.5" height="274.12" fill="#000"/>
<rect x="772.10" y="1700.17" width="11.00" height="3.5" fill="#000"/>
<text x="769.10" y="1708.52" text-anchor="end" style="font-family:'Liberation Serif',serif;font-weight:bold;font-size:18.7px">-20</text>
<rect x="772.10" y="1646.05" width="11.00" height="3.5" fill="#000"/>
<text x="769.10" y="1654.40" text-anchor="end" style="font-family:'Liberation Serif',serif;font-weight:bold;font-size:18.7px">0</text>
<rect x="772.10" y="1591.92" width="11.00" height="3.5" fill="#000"/>
<text x="769.10" y="1600.27" text-anchor="end" style="font-family:'Liberation Serif',serif;font-weight:bold;font-size:18.7px">20</text>
<rect x="772.10" y="1537.80" width="11.00" height="3.5" fill="#000"/>
<text x="769.10" y="1546.15" text-anchor="end" style="font-family:'Liberation Serif',serif;font-weight:bold;font-size:18.7px">40</text>
<rect x="772.10" y="1483.67" width="11.00" height="3.5" fill="#000"/>
<text x="769.10" y="1492.02" text-anchor="end" style="font-family:'Liberation Serif',serif;font-weight:bold;font-size:18.7px">60</text>
<rect x="772.10" y="1429.55" width="11.00" height="3.5" fill="#000"/>
<text x="769.10" y="1437.90" text-anchor="end" style="font-family:'Liberation Serif',serif;font-weight:bold;font-size:18.7px">80</text>
<rect x="783.10" y="1646.05" width="493.65" height="3.5" fill="#000"/>
<rect x="945.32" y="1647.80" width="3.5" height="11.30" fill="#000"/>
<text x="947.07" y="1679.00" text-anchor="middle" style="font-family:'Liberation Serif',serif;font-weight:bold;font-size:18.7px">10</text>
<rect x="1109.28" y="1647.80" width="3.5" height="11.30" fill="#000"/>
<text x="1111.03" y="1679.00" text-anchor="middle" style="font-family:'Liberation Serif',serif;font-weight:bold;font-size:18.7px">20</text>
<rect x="1273.25" y="1647.80" width="3.5" height="11.30" fill="#000"/>
<text x="1275.00" y="1679.00" text-anchor="middle" style="font-family:'Liberation Serif',serif;font-weight:bold;font-size:18.7px">30</text>
<rect x="797.75" y="1647.80" width="3.5" height="6.00" fill="#000"/>
<rect x="814.14" y="1647.80" width="3.5" height="6.00" fill="#000"/>
<rect x="830.54" y="1647.80" width="3.5" height="6.00" fill="#000"/>
<rect x="846.94" y="1647.80" width="3.5" height="6.00" fill="#000"/>
<rect x="863.33" y="1647.80" width="3.5" height="6.00" fill="#000"/>
<rect x="879.73" y="1647.80" width="3.5" height="6.00" fill="#000"/>
<rect x="896.13" y="1647.80" width="3.5" height="6.00" fill="#000"/>
<rect x="912.52" y="1647.80" width="3.5" height="6.00" fill="#000"/>
<rect x="928.92" y="1647.80" width="3.5" height="6.00" fill="#000"/>
<rect x="961.71" y="1647.80" width="3.5" height="6.00" fill="#000"/>
<rect x="978.11" y="1647.80" width="3.5" height="6.00" fill="#000"/>
<rect x="994.51" y="1647.80" width="3.5" height="6.00" fill="#000"/>
<rect x="1010.90" y="1647.80" width="3.5" height="6.00" fill="#000"/>
<rect x="1027.30" y="1647.80" width="3.5" height="6.00" fill="#000"/>
<rect x="1043.70" y="1647.80" width="3.5" height="6.00" fill="#000"/>
<rect x="1060.09" y="1647.80" width="3.5" height="6.00" fill="#000"/>
<rect x="1076.49" y="1647.80" width="3.5" height="6.00" fill="#000"/>
<rect x="1092.89" y="1647.80" width="3.5" height="6.00" fill="#000"/>
<rect x="1125.68" y="1647.80" width="3.5" height="6.00" fill="#000"/>
<rect x="1142.08" y="1647.80" width="3.5" height="6.00" fill="#000"/>
<rect x="1158.47" y="1647.80" width="3.5" height="6.00" fill="#000"/>
<rect x="1174.87" y="1647.80" width="3.5" height="6.00" fill="#000"/>
<rect x="1191.27" y="1647.80" width="3.5" height="6.00" fill="#000"/>
<rect x="1207.66" y="1647.80" width="3.5" height="6.00" fill="#000"/>
<rect x="1224.06" y="1647.80" width="3.5" height="6.00" fill="#000"/>
<rect x="1240.46" y="1647.80" width="3.5" height="6.00" fill="#000"/>
<rect x="1256.85" y="1647.80" width="3.5" height="6.00" fill="#000"/>
<text x="1029.05" y="1711.30" text-anchor="middle" style="font-family:'Liberation Serif',serif;font-weight:bold;font-size:20.7px">S100A12_Protein</text>
<text transform="translate(731.87,1566.61) rotate(-90)" text-anchor="middle" style="font-family:'Liberation Serif',serif;font-weight:bold;font-size:21px">IL-6 pg/mL</text>
<g fill="#ee8a55" fill-opacity="0.6">
<path d="M999.5 1493.3L1003.4 1497.2L999.5 1501.1L995.6 1497.2Z"/>
<path d="M1005.6 1494.3L1009.5 1498.2L1005.6 1502.1L1001.7 1498.2Z"/>
<path d="M1046.5 1492.7L1050.4 1496.6L1046.5 1500.5L1042.6 1496.6Z"/>
<path d="M1057.6 1507.2L1061.5 1511.1L1057.6 1515.0L1053.7 1511.1Z"/>
<path d="M1060.6 1508.4L1064.5 1512.3L1060.6 1516.2L1056.7 1512.3Z"/>
<path d="M1070.3 1495.1L1074.2 1499.0L1070.3 1502.9L1066.4 1499.0Z"/>
<path d="M1070.7 1507.8L1074.6 1511.7L1070.7 1515.6L1066.8 1511.7Z"/>
<path d="M1082.8 1493.7L1086.7 1497.6L1082.8 1501.5L1078.9 1497.6Z"/>
<path d="M1088.8 1494.7L1092.7 1498.6L1088.8 1502.5L1084.9 1498.6Z"/>
<path d="M1093.9 1497.7L1097.8 1501.6L1093.9 1505.5L1090.0 1501.6Z"/>
<path d="M1103.5 1498.3L1107.5 1502.2L1103.5 1506.1L1099.6 1502.2Z"/>
<path d="M1107.6 1493.7L1111.5 1497.6L1107.6 1501.5L1103.7 1497.6Z"/>
<path d="M954.8 1547.5L958.7 1551.4L954.8 1555.3L950.9 1551.4Z"/>
<path d="M1053.2 1588.0L1057.1 1591.9L1053.2 1595.8L1049.3 1591.9Z"/>
<path d="M875.4 1637.5L879.3 1641.4L875.4 1645.3L871.5 1641.4Z"/>
<path d="M893.3 1642.5L897.2 1646.4L893.3 1650.3L889.4 1646.4Z"/>
<path d="M893.8 1628.9L897.7 1632.8L893.8 1636.7L889.9 1632.8Z"/>
<path d="M900.7 1622.1L904.6 1626.0L900.7 1629.9L896.8 1626.0Z"/>
<path d="M908.2 1625.9L912.1 1629.8L908.2 1633.7L904.4 1629.8Z"/>
<path d="M911.5 1624.9L915.4 1628.8L911.5 1632.7L907.6 1628.8Z"/>
<path d="M909.5 1637.5L913.4 1641.4L909.5 1645.3L905.6 1641.4Z"/>
<path d="M914.0 1635.4L917.9 1639.3L914.0 1643.2L910.1 1639.3Z"/>
<path d="M918.5 1629.4L922.4 1633.3L918.5 1637.2L914.6 1633.3Z"/>
<path d="M920.5 1630.9L924.4 1634.8L920.5 1638.7L916.6 1634.8Z"/>
<path d="M922.6 1621.3L926.5 1625.2L922.6 1629.1L918.7 1625.2Z"/>
<path d="M924.6 1618.3L928.5 1622.2L924.6 1626.1L920.7 1622.2Z"/>
<path d="M929.6 1615.8L933.5 1619.7L929.6 1623.6L925.7 1619.7Z"/>
<path d="M930.6 1622.3L934.5 1626.2L930.6 1630.1L926.7 1626.2Z"/>
<path d="M931.6 1625.4L935.5 1629.3L931.6 1633.2L927.7 1629.3Z"/>
<path d="M933.6 1626.9L937.5 1630.8L933.6 1634.7L929.7 1630.8Z"/>
<path d="M931.6 1630.4L935.5 1634.3L931.6 1638.2L927.7 1634.3Z"/>
<path d="M925.1 1635.4L929.0 1639.3L925.1 1643.2L921.2 1639.3Z"/>
<path d="M932.6 1641.5L936.5 1645.4L932.6 1649.3L928.7 1645.4Z"/>
<path d="M940.7 1623.3L944.6 1627.2L940.7 1631.2L936.8 1627.2Z"/>
<path d="M943.7 1625.4L947.6 1629.3L943.7 1633.2L939.8 1629.3Z"/>
<path d="M945.7 1627.4L949.6 1631.3L945.7 1635.2L941.8 1631.3Z"/>
<path d="M948.3 1630.4L952.2 1634.3L948.3 1638.2L944.4 1634.3Z"/>
<path d="M940.7 1633.4L944.6 1637.3L940.7 1641.2L936.8 1637.3Z"/>
<path d="M942.7 1638.5L946.6 1642.4L942.7 1646.3L938.8 1642.4Z"/>
<path d="M948.8 1639.5L952.7 1643.4L948.8 1647.3L944.9 1643.4Z"/>
<path d="M953.8 1618.3L957.7 1622.2L953.8 1626.1L949.9 1622.2Z"/>
<path d="M955.3 1621.3L959.2 1625.2L955.3 1629.1L951.4 1625.2Z"/>
<path d="M956.8 1624.4L960.7 1628.3L956.8 1632.2L952.9 1628.3Z"/>
<path d="M959.8 1625.4L963.7 1629.3L959.8 1633.2L955.9 1629.3Z"/>
<path d="M962.9 1624.4L966.8 1628.3L962.9 1632.2L959.0 1628.3Z"/>
<path d="M965.9 1615.3L969.8 1619.2L965.9 1623.1L962.0 1619.2Z"/>
<path d="M971.9 1617.3L975.8 1621.2L971.9 1625.1L968.0 1621.2Z"/>
<path d="M976.0 1606.7L979.9 1610.6L976.0 1614.5L972.1 1610.6Z"/>
<path d="M978.0 1615.3L981.9 1619.2L978.0 1623.1L974.1 1619.2Z"/>
<path d="M975.0 1622.3L978.9 1626.2L975.0 1630.1L971.1 1626.2Z"/>
<path d="M978.0 1626.4L981.9 1630.3L978.0 1634.2L974.1 1630.3Z"/>
<path d="M977.0 1630.4L980.9 1634.3L977.0 1638.2L973.1 1634.3Z"/>
<path d="M975.0 1633.4L978.9 1637.3L975.0 1641.2L971.1 1637.3Z"/>
<path d="M966.9 1635.4L970.8 1639.3L966.9 1643.2L963.0 1639.3Z"/>
<path d="M967.9 1640.5L971.8 1644.4L967.9 1648.3L964.0 1644.4Z"/>
<path d="M958.8 1637.5L962.7 1641.4L958.8 1645.3L954.9 1641.4Z"/>
<path d="M954.8 1635.4L958.7 1639.3L954.8 1643.2L950.9 1639.3Z"/>
<path d="M951.8 1634.4L955.7 1638.3L951.8 1642.2L947.9 1638.3Z"/>
<path d="M978.0 1638.5L981.9 1642.4L978.0 1646.3L974.1 1642.4Z"/>
<path d="M1007.7 1600.0L1011.6 1603.9L1007.7 1607.8L1003.8 1603.9Z"/>
<path d="M1023.3 1600.2L1027.2 1604.1L1023.3 1608.0L1019.4 1604.1Z"/>
<path d="M1020.8 1606.7L1024.7 1610.6L1020.8 1614.5L1016.9 1610.6Z"/>
<path d="M995.1 1611.3L999.0 1615.2L995.1 1619.1L991.2 1615.2Z"/>
<path d="M999.1 1613.8L1003.0 1617.7L999.1 1621.6L995.2 1617.7Z"/>
<path d="M994.1 1615.8L998.0 1619.7L994.1 1623.6L990.2 1619.7Z"/>
<path d="M1008.7 1612.3L1012.6 1616.2L1008.7 1620.1L1004.8 1616.2Z"/>
<path d="M1016.3 1613.3L1020.2 1617.2L1016.3 1621.1L1012.4 1617.2Z"/>
<path d="M1017.3 1616.3L1021.2 1620.2L1017.3 1624.1L1013.4 1620.2Z"/>
<path d="M1027.4 1611.3L1031.3 1615.2L1027.4 1619.1L1023.5 1615.2Z"/>
<path d="M1007.2 1622.3L1011.1 1626.2L1007.2 1630.1L1003.3 1626.2Z"/>
<path d="M981.0 1616.3L984.9 1620.2L981.0 1624.1L977.1 1620.2Z"/>
<path d="M982.0 1621.3L985.9 1625.2L982.0 1629.1L978.1 1625.2Z"/>
<path d="M986.0 1624.4L989.9 1628.3L986.0 1632.2L982.1 1628.3Z"/>
<path d="M991.1 1627.4L995.0 1631.3L991.1 1635.2L987.2 1631.3Z"/>
<path d="M990.1 1635.4L994.0 1639.3L990.1 1643.2L986.2 1639.3Z"/>
<path d="M996.1 1631.4L1000.0 1635.3L996.1 1639.2L992.2 1635.3Z"/>
<path d="M998.1 1635.4L1002.0 1639.3L998.1 1643.2L994.2 1639.3Z"/>
<path d="M984.0 1632.4L987.9 1636.3L984.0 1640.2L980.1 1636.3Z"/>
<path d="M981.0 1636.4L984.9 1640.3L981.0 1644.2L977.1 1640.3Z"/>
<path d="M1005.2 1632.9L1009.1 1636.8L1005.2 1640.7L1001.3 1636.8Z"/>
<path d="M1009.7 1630.4L1013.6 1634.3L1009.7 1638.2L1005.8 1634.3Z"/>
<path d="M1013.3 1631.4L1017.2 1635.3L1013.3 1639.2L1009.4 1635.3Z"/>
<path d="M1009.2 1639.5L1013.1 1643.4L1009.2 1647.3L1005.3 1643.4Z"/>
<path d="M1020.3 1628.4L1024.2 1632.3L1020.3 1636.2L1016.4 1632.3Z"/>
<path d="M1022.3 1621.3L1026.2 1625.2L1022.3 1629.1L1018.4 1625.2Z"/>
<path d="M1024.8 1623.3L1028.7 1627.2L1024.8 1631.2L1020.9 1627.2Z"/>
<path d="M1028.4 1620.3L1032.3 1624.2L1028.4 1628.1L1024.5 1624.2Z"/>
<path d="M1030.4 1619.3L1034.3 1623.2L1030.4 1627.1L1026.5 1623.2Z"/>
<path d="M1032.4 1621.3L1036.3 1625.2L1032.4 1629.1L1028.5 1625.2Z"/>
<path d="M1027.4 1626.4L1031.3 1630.3L1027.4 1634.2L1023.5 1630.3Z"/>
<path d="M1025.3 1631.4L1029.2 1635.3L1025.3 1639.2L1021.4 1635.3Z"/>
<path d="M1028.4 1636.4L1032.3 1640.3L1028.4 1644.2L1024.5 1640.3Z"/>
<path d="M1023.3 1643.0L1027.2 1646.9L1023.3 1650.8L1019.4 1646.9Z"/>
<path d="M1037.4 1636.9L1041.3 1640.8L1037.4 1644.8L1033.5 1640.8Z"/>
<path d="M1036.4 1622.3L1040.3 1626.2L1036.4 1630.1L1032.5 1626.2Z"/>
<path d="M1039.5 1625.9L1043.4 1629.8L1039.5 1633.7L1035.6 1629.8Z"/>
<path d="M1044.5 1611.8L1048.4 1615.7L1044.5 1619.6L1040.6 1615.7Z"/>
<path d="M1046.5 1614.3L1050.4 1618.2L1046.5 1622.1L1042.6 1618.2Z"/>
<path d="M1050.5 1615.3L1054.4 1619.2L1050.5 1623.1L1046.6 1619.2Z"/>
<path d="M1052.6 1617.3L1056.5 1621.2L1052.6 1625.1L1048.7 1621.2Z"/>
<path d="M1055.6 1619.3L1059.5 1623.2L1055.6 1627.1L1051.7 1623.2Z"/>
<path d="M1044.5 1622.3L1048.4 1626.2L1044.5 1630.1L1040.6 1626.2Z"/>
<path d="M1048.5 1621.3L1052.4 1625.2L1048.5 1629.1L1044.6 1625.2Z"/>
<path d="M1050.5 1626.4L1054.4 1630.3L1050.5 1634.2L1046.6 1630.3Z"/>
<path d="M1054.6 1624.4L1058.5 1628.3L1054.6 1632.2L1050.7 1628.3Z"/>
<path d="M1057.6 1621.3L1061.5 1625.2L1057.6 1629.1L1053.7 1625.2Z"/>
<path d="M1060.6 1623.3L1064.5 1627.2L1060.6 1631.2L1056.7 1627.2Z"/>
<path d="M1063.6 1621.3L1067.5 1625.2L1063.6 1629.1L1059.7 1625.2Z"/>
<path d="M1045.5 1635.4L1049.4 1639.3L1045.5 1643.2L1041.6 1639.3Z"/>
<path d="M1052.6 1633.4L1056.5 1637.3L1052.6 1641.2L1048.7 1637.3Z"/>
<path d="M1056.6 1635.4L1060.5 1639.3L1056.6 1643.2L1052.7 1639.3Z"/>
<path d="M1054.6 1643.0L1058.5 1646.9L1054.6 1650.8L1050.7 1646.9Z"/>
<path d="M1062.6 1641.5L1066.5 1645.4L1062.6 1649.3L1058.7 1645.4Z"/>
<path d="M1061.6 1629.4L1065.5 1633.3L1061.6 1637.2L1057.7 1633.3Z"/>
<path d="M1065.7 1626.4L1069.6 1630.3L1065.7 1634.2L1061.8 1630.3Z"/>
<path d="M1067.7 1630.4L1071.6 1634.3L1067.7 1638.2L1063.8 1634.3Z"/>
<path d="M1069.7 1633.4L1073.6 1637.3L1069.7 1641.2L1065.8 1637.3Z"/>
<path d="M1070.7 1637.5L1074.6 1641.4L1070.7 1645.3L1066.8 1641.4Z"/>
<path d="M1075.2 1642.0L1079.1 1645.9L1075.2 1649.8L1071.3 1645.9Z"/>
<path d="M1071.7 1611.3L1075.6 1615.2L1071.7 1619.1L1067.8 1615.2Z"/>
<path d="M1074.7 1618.3L1078.6 1622.2L1074.7 1626.1L1070.8 1622.2Z"/>
<path d="M1077.8 1609.2L1081.7 1613.1L1077.8 1617.0L1073.8 1613.1Z"/>
<path d="M1079.8 1603.2L1083.7 1607.1L1079.8 1611.0L1075.9 1607.1Z"/>
<path d="M1082.8 1606.2L1086.7 1610.1L1082.8 1614.0L1078.9 1610.1Z"/>
<path d="M1085.8 1607.2L1089.7 1611.1L1085.8 1615.0L1081.9 1611.1Z"/>
<path d="M1081.8 1613.3L1085.7 1617.2L1081.8 1621.1L1077.9 1617.2Z"/>
<path d="M1084.8 1615.3L1088.7 1619.2L1084.8 1623.1L1080.9 1619.2Z"/>
<path d="M1082.8 1621.3L1086.7 1625.2L1082.8 1629.1L1078.9 1625.2Z"/>
<path d="M1078.8 1627.4L1082.7 1631.3L1078.8 1635.2L1074.9 1631.3Z"/>
<path d="M1086.8 1626.4L1090.7 1630.3L1086.8 1634.2L1082.9 1630.3Z"/>
<path d="M1089.8 1632.4L1093.7 1636.3L1089.8 1640.2L1085.9 1636.3Z"/>
<path d="M1090.8 1614.3L1094.8 1618.2L1090.8 1622.1L1086.9 1618.2Z"/>
<path d="M1093.9 1612.3L1097.8 1616.2L1093.9 1620.1L1090.0 1616.2Z"/>
<path d="M1095.9 1616.3L1099.8 1620.2L1095.9 1624.1L1092.0 1620.2Z"/>
<path d="M1098.9 1619.3L1102.8 1623.2L1098.9 1627.1L1095.0 1623.2Z"/>
<path d="M1101.9 1620.3L1105.8 1624.2L1101.9 1628.1L1098.0 1624.2Z"/>
<path d="M1104.0 1623.3L1107.9 1627.2L1104.0 1631.2L1100.0 1627.2Z"/>
<path d="M1109.0 1618.3L1112.9 1622.2L1109.0 1626.1L1105.1 1622.2Z"/>
<path d="M1095.9 1626.4L1099.8 1630.3L1095.9 1634.2L1092.0 1630.3Z"/>
<path d="M1097.9 1631.4L1101.8 1635.3L1097.9 1639.2L1094.0 1635.3Z"/>
<path d="M1101.9 1631.4L1105.8 1635.3L1101.9 1639.2L1098.0 1635.3Z"/>
<path d="M1104.0 1636.4L1107.9 1640.3L1104.0 1644.2L1100.0 1640.3Z"/>
<path d="M1096.9 1635.4L1100.8 1639.3L1096.9 1643.2L1093.0 1639.3Z"/>
<path d="M1110.6 1499.1L1114.5 1503.0L1110.6 1506.9L1106.7 1503.0Z"/>
<path d="M1118.7 1508.2L1122.6 1512.1L1118.7 1516.0L1114.8 1512.1Z"/>
<path d="M1120.7 1493.7L1124.6 1497.6L1120.7 1501.5L1116.8 1497.6Z"/>
<path d="M1123.7 1492.7L1127.6 1496.6L1123.7 1500.5L1119.8 1496.6Z"/>
<path d="M1124.7 1508.2L1128.6 1512.1L1124.7 1516.0L1120.8 1512.1Z"/>
<path d="M1126.7 1498.7L1130.6 1502.6L1126.7 1506.5L1122.8 1502.6Z"/>
<path d="M1129.8 1508.2L1133.7 1512.1L1129.8 1516.0L1125.9 1512.1Z"/>
<path d="M1131.8 1493.7L1135.7 1497.6L1131.8 1501.5L1127.9 1497.6Z"/>
<path d="M1133.8 1495.7L1137.7 1499.6L1133.8 1503.5L1129.9 1499.6Z"/>
<path d="M1134.8 1498.7L1138.7 1502.6L1134.8 1506.5L1130.9 1502.6Z"/>
<path d="M1140.8 1486.6L1144.8 1490.5L1140.8 1494.4L1136.9 1490.5Z"/>
<path d="M1141.9 1493.7L1145.8 1497.6L1141.9 1501.5L1138.0 1497.6Z"/>
<path d="M1146.9 1500.8L1150.8 1504.7L1146.9 1508.6L1143.0 1504.7Z"/>
<path d="M1155.4 1502.8L1159.3 1506.7L1155.4 1510.6L1151.5 1506.7Z"/>
<path d="M1157.4 1483.6L1161.3 1487.5L1157.4 1491.4L1153.5 1487.5Z"/>
<path d="M1159.4 1494.3L1163.3 1498.2L1159.4 1502.1L1155.5 1498.2Z"/>
<path d="M1168.7 1507.8L1172.6 1511.7L1168.7 1515.6L1164.8 1511.7Z"/>
<path d="M1176.7 1497.7L1180.6 1501.6L1176.7 1505.5L1172.8 1501.6Z"/>
<path d="M1183.6 1499.1L1187.5 1503.0L1183.6 1506.9L1179.7 1503.0Z"/>
<path d="M1192.8 1499.7L1196.8 1503.6L1192.8 1507.5L1188.9 1503.6Z"/>
<path d="M1201.3 1484.6L1205.2 1488.5L1201.3 1492.4L1197.4 1488.5Z"/>
<path d="M1207.4 1498.3L1211.3 1502.2L1207.4 1506.1L1203.5 1502.2Z"/>
<path d="M1226.5 1506.8L1230.4 1510.7L1226.5 1514.6L1222.6 1510.7Z"/>
<path d="M1117.3 1617.6L1121.2 1621.5L1117.3 1625.5L1113.4 1621.5Z"/>
<path d="M1113.6 1623.7L1117.5 1627.6L1113.6 1631.5L1109.7 1627.6Z"/>
<path d="M1114.7 1627.7L1118.6 1631.6L1114.7 1635.5L1110.8 1631.6Z"/>
<path d="M1119.7 1637.2L1123.6 1641.1L1119.7 1645.0L1115.8 1641.1Z"/>
<path d="M1127.8 1628.7L1131.7 1632.6L1127.8 1636.5L1123.8 1632.6Z"/>
<path d="M1130.8 1627.7L1134.7 1631.6L1130.8 1635.5L1126.9 1631.6Z"/>
<path d="M1134.8 1625.7L1138.7 1629.6L1134.8 1633.5L1130.9 1629.6Z"/>
<path d="M1137.8 1618.7L1141.7 1622.6L1137.8 1626.5L1133.9 1622.6Z"/>
<path d="M1151.9 1617.6L1155.8 1621.5L1151.9 1625.5L1148.0 1621.5Z"/>
<path d="M1161.4 1604.1L1165.3 1608.0L1161.4 1612.0L1157.5 1608.0Z"/>
<path d="M1165.4 1626.3L1169.3 1630.2L1165.4 1634.1L1161.5 1630.2Z"/>
<path d="M1172.1 1620.7L1176.0 1624.6L1172.1 1628.5L1168.2 1624.6Z"/>
<path d="M1175.1 1625.7L1179.0 1629.6L1175.1 1633.5L1171.2 1629.6Z"/>
<path d="M1177.1 1620.7L1181.0 1624.6L1177.1 1628.5L1173.2 1624.6Z"/>
<path d="M1182.8 1631.4L1186.7 1635.3L1182.8 1639.2L1178.9 1635.3Z"/>
<path d="M1183.6 1617.6L1187.5 1621.5L1183.6 1625.5L1179.7 1621.5Z"/>
<path d="M1194.3 1616.6L1198.2 1620.5L1194.3 1624.4L1190.4 1620.5Z"/>
<path d="M1201.7 1620.7L1205.6 1624.6L1201.7 1628.5L1197.8 1624.6Z"/>
<path d="M1220.5 1619.7L1224.4 1623.6L1220.5 1627.5L1216.6 1623.6Z"/>
<path d="M909.8 1631.8L913.7 1635.7L909.8 1639.6L905.9 1635.7Z"/>
<path d="M992.2 1626.3L996.1 1630.2L992.2 1634.1L988.3 1630.2Z"/>
<path d="M1177.6 1622.9L1181.5 1626.8L1177.6 1630.7L1173.7 1626.8Z"/>
<path d="M1066.5 1631.1L1070.4 1635.0L1066.5 1638.9L1062.6 1635.0Z"/>
<path d="M986.7 1630.7L990.6 1634.6L986.7 1638.5L982.8 1634.6Z"/>
<path d="M981.1 1631.6L985.0 1635.5L981.1 1639.4L977.2 1635.5Z"/>
<path d="M995.3 1609.0L999.2 1612.9L995.3 1616.8L991.4 1612.9Z"/>
<path d="M974.1 1636.0L978.0 1639.9L974.1 1643.8L970.2 1639.9Z"/>
<path d="M1085.9 1621.2L1089.8 1625.1L1085.9 1629.0L1082.0 1625.1Z"/>
<path d="M1004.2 1631.0L1008.1 1634.9L1004.2 1638.8L1000.3 1634.9Z"/>
<path d="M1014.1 1613.1L1018.0 1617.0L1014.1 1620.9L1010.2 1617.0Z"/>
<path d="M967.0 1639.9L970.9 1643.8L967.0 1647.7L963.1 1643.8Z"/>
<path d="M1056.8 1621.0L1060.7 1624.9L1056.8 1628.8L1052.9 1624.9Z"/>
<path d="M1025.7 1626.7L1029.6 1630.6L1025.7 1634.5L1021.8 1630.6Z"/>
<path d="M1129.4 1499.3L1133.3 1503.2L1129.4 1507.1L1125.5 1503.2Z"/>
<path d="M976.6 1615.2L980.5 1619.1L976.6 1623.0L972.7 1619.1Z"/>
<path d="M1047.2 1614.6L1051.1 1618.5L1047.2 1622.4L1043.3 1618.5Z"/>
<path d="M1167.0 1628.4L1170.9 1632.3L1167.0 1636.2L1163.1 1632.3Z"/>
<path d="M1066.8 1620.9L1070.7 1624.8L1066.8 1628.7L1062.9 1624.8Z"/>
<path d="M1084.7 1610.0L1088.6 1613.9L1084.7 1617.8L1080.8 1613.9Z"/>
<path d="M1062.5 1625.2L1066.4 1629.1L1062.5 1633.0L1058.6 1629.1Z"/>
<path d="M1079.6 1620.0L1083.5 1623.9L1079.6 1627.8L1075.7 1623.9Z"/>
<path d="M1077.2 1619.3L1081.1 1623.2L1077.2 1627.1L1073.3 1623.2Z"/>
<path d="M988.0 1628.0L991.9 1631.9L988.0 1635.8L984.1 1631.9Z"/>
<path d="M1042.7 1630.2L1046.6 1634.1L1042.7 1638.0L1038.8 1634.1Z"/>
<path d="M1106.7 1616.3L1110.6 1620.2L1106.7 1624.1L1102.8 1620.2Z"/>
<path d="M1085.7 1616.9L1089.6 1620.8L1085.7 1624.7L1081.8 1620.8Z"/>
<path d="M1107.3 1492.6L1111.2 1496.5L1107.3 1500.4L1103.4 1496.5Z"/>
<path d="M940.0 1631.5L943.9 1635.4L940.0 1639.3L936.1 1635.4Z"/>
<path d="M1053.9 1629.9L1057.8 1633.8L1053.9 1637.7L1050.0 1633.8Z"/>
<path d="M951.5 1639.6L955.4 1643.5L951.5 1647.4L947.6 1643.5Z"/>
<path d="M932.0 1619.5L935.9 1623.4L932.0 1627.3L928.1 1623.4Z"/>
<path d="M1093.5 1620.8L1097.4 1624.7L1093.5 1628.6L1089.6 1624.7Z"/>
<path d="M963.8 1626.7L967.7 1630.6L963.8 1634.5L959.9 1630.6Z"/>
<path d="M1046.6 1616.4L1050.5 1620.3L1046.6 1624.2L1042.7 1620.3Z"/>
<path d="M1055.8 1632.9L1059.7 1636.8L1055.8 1640.7L1051.9 1636.8Z"/>
<path d="M1018.4 1611.9L1022.3 1615.8L1018.4 1619.7L1014.5 1615.8Z"/>
<path d="M1008.5 1629.6L1012.4 1633.5L1008.5 1637.4L1004.6 1633.5Z"/>
<path d="M1101.8 1629.2L1105.7 1633.1L1101.8 1637.0L1097.9 1633.1Z"/>
<path d="M929.4 1629.4L933.3 1633.3L929.4 1637.2L925.5 1633.3Z"/>
<path d="M1012.9 1642.4L1016.8 1646.3L1012.9 1650.2L1009.0 1646.3Z"/>
<path d="M1058.9 1620.2L1062.8 1624.1L1058.9 1628.0L1055.0 1624.1Z"/>
<path d="M935.4 1623.5L939.3 1627.4L935.4 1631.3L931.5 1627.4Z"/>
<path d="M1050.9 1609.3L1054.8 1613.2L1050.9 1617.1L1047.0 1613.2Z"/>
<path d="M1054.5 1634.6L1058.4 1638.5L1054.5 1642.4L1050.6 1638.5Z"/>
<path d="M984.7 1633.6L988.6 1637.5L984.7 1641.4L980.8 1637.5Z"/>
<path d="M1059.5 1636.1L1063.4 1640.0L1059.5 1643.9L1055.6 1640.0Z"/>
<path d="M1002.2 1614.5L1006.1 1618.4L1002.2 1622.3L998.3 1618.4Z"/>
<path d="M1025.9 1609.5L1029.8 1613.4L1025.9 1617.3L1022.0 1613.4Z"/>
<path d="M1008.4 1641.7L1012.3 1645.6L1008.4 1649.5L1004.5 1645.6Z"/>
<path d="M983.5 1632.1L987.4 1636.0L983.5 1639.9L979.6 1636.0Z"/>
<path d="M958.4 1633.2L962.3 1637.1L958.4 1641.0L954.5 1637.1Z"/>
<path d="M975.6 1636.9L979.5 1640.8L975.6 1644.7L971.7 1640.8Z"/>
<path d="M1072.1 1612.2L1076.0 1616.1L1072.1 1620.0L1068.2 1616.1Z"/>
<path d="M991.5 1614.8L995.4 1618.7L991.5 1622.6L987.6 1618.7Z"/>
<path d="M952.3 1638.1L956.2 1642.0L952.3 1645.9L948.4 1642.0Z"/>
<path d="M1089.5 1629.2L1093.4 1633.1L1089.5 1637.0L1085.6 1633.1Z"/>
<path d="M1055.3 1617.4L1059.2 1621.3L1055.3 1625.2L1051.4 1621.3Z"/>
<path d="M1055.2 1623.7L1059.1 1627.6L1055.2 1631.5L1051.3 1627.6Z"/>
<path d="M963.4 1621.2L967.3 1625.1L963.4 1629.0L959.5 1625.1Z"/>
<path d="M1071.2 1634.7L1075.1 1638.6L1071.2 1642.5L1067.3 1638.6Z"/>
<path d="M1060.0 1616.3L1063.9 1620.2L1060.0 1624.1L1056.1 1620.2Z"/>
<path d="M1049.7 1622.7L1053.6 1626.6L1049.7 1630.5L1045.8 1626.6Z"/>
<path d="M937.7 1628.2L941.6 1632.1L937.7 1636.0L933.8 1632.1Z"/>
<path d="M976.9 1627.5L980.8 1631.4L976.9 1635.3L973.0 1631.4Z"/>
<path d="M1051.9 1628.1L1055.8 1632.0L1051.9 1635.9L1048.0 1632.0Z"/>
<path d="M1066.0 1624.6L1069.9 1628.5L1066.0 1632.4L1062.1 1628.5Z"/>
<path d="M945.0 1638.1L948.9 1642.0L945.0 1645.9L941.1 1642.0Z"/>
<path d="M1128.6 1503.6L1132.5 1507.5L1128.6 1511.4L1124.7 1507.5Z"/>
<path d="M905.9 1619.5L909.8 1623.4L905.9 1627.3L902.0 1623.4Z"/>
<path d="M941.4 1629.2L945.3 1633.1L941.4 1637.0L937.5 1633.1Z"/>
<path d="M1173.2 1619.6L1177.1 1623.5L1173.2 1627.4L1169.3 1623.5Z"/>
<path d="M979.6 1630.3L983.5 1634.2L979.6 1638.1L975.7 1634.2Z"/>
<path d="M1127.8 1499.5L1131.7 1503.4L1127.8 1507.3L1123.9 1503.4Z"/>
<path d="M926.5 1623.1L930.4 1627.0L926.5 1630.9L922.6 1627.0Z"/>
<path d="M1174.4 1628.2L1178.3 1632.1L1174.4 1636.0L1170.5 1632.1Z"/>
<path d="M1086.9 1618.6L1090.8 1622.5L1086.9 1626.4L1083.0 1622.5Z"/>
<path d="M1160.9 1493.7L1164.8 1497.6L1160.9 1501.5L1157.0 1497.6Z"/>
<path d="M1027.4 1623.9L1031.3 1627.8L1027.4 1631.7L1023.5 1627.8Z"/>
<path d="M1059.4 1625.9L1063.3 1629.8L1059.4 1633.7L1055.5 1629.8Z"/>
<path d="M1027.0 1622.5L1030.9 1626.4L1027.0 1630.3L1023.1 1626.4Z"/>
<path d="M980.8 1632.7L984.7 1636.6L980.8 1640.5L976.9 1636.6Z"/>
<path d="M1027.2 1633.1L1031.1 1637.0L1027.2 1640.9L1023.3 1637.0Z"/>
<path d="M1097.1 1634.0L1101.0 1637.9L1097.1 1641.8L1093.2 1637.9Z"/>
<path d="M923.9 1636.9L927.8 1640.8L923.9 1644.7L920.0 1640.8Z"/>
<path d="M1091.5 1620.6L1095.4 1624.5L1091.5 1628.4L1087.6 1624.5Z"/>
<path d="M955.3 1623.4L959.2 1627.3L955.3 1631.2L951.4 1627.3Z"/>
<path d="M1059.9 1612.8L1063.8 1616.7L1059.9 1620.6L1056.0 1616.7Z"/>
<path d="M1038.1 1621.3L1042.0 1625.2L1038.1 1629.1L1034.2 1625.2Z"/>
<path d="M1061.4 1625.6L1065.3 1629.5L1061.4 1633.4L1057.5 1629.5Z"/>
<path d="M1090.5 1630.3L1094.4 1634.2L1090.5 1638.1L1086.6 1634.2Z"/>
<path d="M1045.2 1611.8L1049.1 1615.7L1045.2 1619.6L1041.3 1615.7Z"/>
<path d="M1061.2 1626.9L1065.1 1630.8L1061.2 1634.7L1057.3 1630.8Z"/>
<path d="M969.6 1610.4L973.5 1614.3L969.6 1618.2L965.7 1614.3Z"/>
<path d="M1059.1 1625.8L1063.0 1629.7L1059.1 1633.6L1055.2 1629.7Z"/>
</g>
<line x1="876.6" y1="1660.0" x2="1225.8" y2="1553.1" stroke="#727272" stroke-width="1.5"/>
</g>
<text x="34.2" y="1756.6" text-anchor="end" fill="#000" stroke="#fff" stroke-width="0.7" transform="translate(32,0) scale(1.0,1) translate(-32,0)" style="font-family:'Liberation Serif',serif;font-size:39.5px">F</text>
<g>
<rect x="142.25" y="1769.30" width="3.5" height="274.35" fill="#000"/>
<rect x="133.00" y="2040.15" width="11.00" height="3.5" fill="#000"/>
<text x="130.00" y="2048.50" text-anchor="end" style="font-family:'Liberation Serif',serif;font-weight:bold;font-size:18.7px">0</text>
<rect x="133.00" y="1985.98" width="11.00" height="3.5" fill="#000"/>
<text x="130.00" y="1994.33" text-anchor="end" style="font-family:'Liberation Serif',serif;font-weight:bold;font-size:18.7px">20</text>
<rect x="133.00" y="1931.81" width="11.00" height="3.5" fill="#000"/>
<text x="130.00" y="1940.16" text-anchor="end" style="font-family:'Liberation Serif',serif;font-weight:bold;font-size:18.7px">40</text>
<rect x="133.00" y="1877.64" width="11.00" height="3.5" fill="#000"/>
<text x="130.00" y="1885.99" text-anchor="end" style="font-family:'Liberation Serif',serif;font-weight:bold;font-size:18.7px">60</text>
<rect x="133.00" y="1823.47" width="11.00" height="3.5" fill="#000"/>
<text x="130.00" y="1831.82" text-anchor="end" style="font-family:'Liberation Serif',serif;font-weight:bold;font-size:18.7px">80</text>
<rect x="133.00" y="1769.30" width="11.00" height="3.5" fill="#000"/>
<text x="130.00" y="1777.65" text-anchor="end" style="font-family:'Liberation Serif',serif;font-weight:bold;font-size:18.7px">100</text>
<rect x="144.00" y="2040.15" width="492.75" height="3.5" fill="#000"/>
<rect x="142.25" y="2041.90" width="3.5" height="11.30" fill="#000"/>
<text x="144.00" y="2073.10" text-anchor="middle" style="font-family:'Liberation Serif',serif;font-weight:bold;font-size:18.7px">0</text>
<rect x="265.00" y="2041.90" width="3.5" height="11.30" fill="#000"/>
<text x="266.75" y="2073.10" text-anchor="middle" style="font-family:'Liberation Serif',serif;font-weight:bold;font-size:18.7px">1</text>
<rect x="387.75" y="2041.90" width="3.5" height="11.30" fill="#000"/>
<text x="389.50" y="2073.10" text-anchor="middle" style="font-family:'Liberation Serif',serif;font-weight:bold;font-size:18.7px">2</text>
<rect x="510.50" y="2041.90" width="3.5" height="11.30" fill="#000"/>
<text x="512.25" y="2073.10" text-anchor="middle" style="font-family:'Liberation Serif',serif;font-weight:bold;font-size:18.7px">3</text>
<rect x="633.25" y="2041.90" width="3.5" height="11.30" fill="#000"/>
<text x="635.00" y="2073.10" text-anchor="middle" style="font-family:'Liberation Serif',serif;font-weight:bold;font-size:18.7px">4</text>
<text x="389.50" y="2106.20" text-anchor="middle" style="font-family:'Liberation Serif',serif;font-weight:bold;font-size:20.7px">S100A12_mRNA</text>
<text transform="translate(89.65,1906.47) rotate(-90)" text-anchor="middle" style="font-family:'Liberation Serif',serif;font-weight:bold;font-size:21px">LVEF %</text>
<g fill="#f4f4cc" fill-opacity="0.75" stroke="#1e1e14" stroke-opacity="0.85" stroke-width="1.9">
<circle cx="186.9" cy="1854.4" r="3.4"/>
<circle cx="189.3" cy="1865.5" r="3.4"/>
<circle cx="191.9" cy="1843.9" r="3.4"/>
<circle cx="205.4" cy="1835.9" r="3.4"/>
<circle cx="208.1" cy="1849.4" r="3.4"/>
<circle cx="212.9" cy="1843.3" r="3.4"/>
<circle cx="217.5" cy="1865.5" r="3.4"/>
<circle cx="230.0" cy="1838.3" r="3.4"/>
<circle cx="229.0" cy="1854.4" r="3.4"/>
<circle cx="234.7" cy="1858.5" r="3.4"/>
<circle cx="237.3" cy="1846.8" r="3.4"/>
<circle cx="239.7" cy="1862.9" r="3.4"/>
<circle cx="244.7" cy="1846.4" r="3.4"/>
<circle cx="246.7" cy="1843.3" r="3.4"/>
<circle cx="234.7" cy="1887.1" r="3.4"/>
<circle cx="241.1" cy="1892.7" r="3.4"/>
<circle cx="244.7" cy="1898.2" r="3.4"/>
<circle cx="244.3" cy="1903.8" r="3.4"/>
<circle cx="250.8" cy="1879.6" r="3.4"/>
<circle cx="254.4" cy="1876.2" r="3.4"/>
<circle cx="249.8" cy="1862.5" r="3.4"/>
<circle cx="252.8" cy="1859.5" r="3.4"/>
<circle cx="254.8" cy="1865.5" r="3.4"/>
<circle cx="258.8" cy="1846.4" r="3.4"/>
<circle cx="258.8" cy="1852.4" r="3.4"/>
<circle cx="262.9" cy="1854.4" r="3.4"/>
<circle cx="263.9" cy="1862.5" r="3.4"/>
<circle cx="265.9" cy="1832.2" r="3.4"/>
<circle cx="266.5" cy="1836.3" r="3.4"/>
<circle cx="268.9" cy="1846.8" r="3.4"/>
<circle cx="273.4" cy="1846.8" r="3.4"/>
<circle cx="274.6" cy="1857.4" r="3.4"/>
<circle cx="270.9" cy="1864.5" r="3.4"/>
<circle cx="273.9" cy="1870.5" r="3.4"/>
<circle cx="267.9" cy="1876.2" r="3.4"/>
<circle cx="266.5" cy="1881.6" r="3.4"/>
<circle cx="268.9" cy="1887.7" r="3.4"/>
<circle cx="279.0" cy="1854.4" r="3.4"/>
<circle cx="282.0" cy="1859.5" r="3.4"/>
<circle cx="283.0" cy="1860.5" r="3.4"/>
<circle cx="285.0" cy="1865.5" r="3.4"/>
<circle cx="285.4" cy="1843.9" r="3.4"/>
<circle cx="288.1" cy="1838.3" r="3.4"/>
<circle cx="290.7" cy="1832.2" r="3.4"/>
<circle cx="297.1" cy="1832.2" r="3.4"/>
<circle cx="296.1" cy="1836.3" r="3.4"/>
<circle cx="289.1" cy="1853.4" r="3.4"/>
<circle cx="293.1" cy="1856.4" r="3.4"/>
<circle cx="298.1" cy="1857.4" r="3.4"/>
<circle cx="301.2" cy="1862.5" r="3.4"/>
<circle cx="303.2" cy="1854.4" r="3.4"/>
<circle cx="306.2" cy="1851.4" r="3.4"/>
<circle cx="307.2" cy="1857.4" r="3.4"/>
<circle cx="313.7" cy="1854.4" r="3.4"/>
<circle cx="316.3" cy="1857.4" r="3.4"/>
<circle cx="314.9" cy="1868.5" r="3.4"/>
<circle cx="311.2" cy="1875.6" r="3.4"/>
<circle cx="313.3" cy="1876.6" r="3.4"/>
<circle cx="317.3" cy="1830.2" r="3.4"/>
<circle cx="332.4" cy="1827.2" r="3.4"/>
<circle cx="334.4" cy="1833.3" r="3.4"/>
<circle cx="324.9" cy="1854.4" r="3.4"/>
<circle cx="329.4" cy="1856.4" r="3.4"/>
<circle cx="331.4" cy="1860.5" r="3.4"/>
<circle cx="337.4" cy="1859.5" r="3.4"/>
<circle cx="338.4" cy="1852.4" r="3.4"/>
<circle cx="344.5" cy="1846.4" r="3.4"/>
<circle cx="353.6" cy="1846.4" r="3.4"/>
<circle cx="354.6" cy="1849.4" r="3.4"/>
<circle cx="360.6" cy="1846.4" r="3.4"/>
<circle cx="371.3" cy="1846.4" r="3.4"/>
<circle cx="377.4" cy="1857.4" r="3.4"/>
<circle cx="354.2" cy="1857.4" r="3.4"/>
<circle cx="326.4" cy="1869.5" r="3.4"/>
<circle cx="328.4" cy="1875.6" r="3.4"/>
<circle cx="338.4" cy="1869.5" r="3.4"/>
<circle cx="340.5" cy="1876.6" r="3.4"/>
<circle cx="344.5" cy="1867.5" r="3.4"/>
<circle cx="348.5" cy="1865.5" r="3.4"/>
<circle cx="350.5" cy="1873.6" r="3.4"/>
<circle cx="352.6" cy="1869.5" r="3.4"/>
<circle cx="359.6" cy="1873.6" r="3.4"/>
<circle cx="361.6" cy="1879.6" r="3.4"/>
<circle cx="365.7" cy="1862.5" r="3.4"/>
<circle cx="366.7" cy="1866.5" r="3.4"/>
<circle cx="368.7" cy="1864.5" r="3.4"/>
<circle cx="291.1" cy="1874.6" r="3.4"/>
<circle cx="289.1" cy="1879.6" r="3.4"/>
<circle cx="289.1" cy="1884.7" r="3.4"/>
<circle cx="295.1" cy="1878.6" r="3.4"/>
<circle cx="298.1" cy="1881.6" r="3.4"/>
<circle cx="305.2" cy="1879.6" r="3.4"/>
<circle cx="308.2" cy="1882.6" r="3.4"/>
<circle cx="309.2" cy="1889.7" r="3.4"/>
<circle cx="330.4" cy="1884.7" r="3.4"/>
<circle cx="300.2" cy="1895.7" r="3.4"/>
<circle cx="289.1" cy="1892.7" r="3.4"/>
<circle cx="283.0" cy="1894.7" r="3.4"/>
<circle cx="282.0" cy="1898.8" r="3.4"/>
<circle cx="276.6" cy="1900.8" r="3.4"/>
<circle cx="308.2" cy="1914.9" r="3.4"/>
<circle cx="319.9" cy="1908.8" r="3.4"/>
<circle cx="345.1" cy="1914.9" r="3.4"/>
<circle cx="350.1" cy="1898.4" r="3.4"/>
<circle cx="362.6" cy="1900.8" r="3.4"/>
<circle cx="362.6" cy="1911.9" r="3.4"/>
<circle cx="367.7" cy="1904.8" r="3.4"/>
<circle cx="372.7" cy="1905.8" r="3.4"/>
<circle cx="365.7" cy="1887.1" r="3.4"/>
<circle cx="371.7" cy="1886.7" r="3.4"/>
<circle cx="369.7" cy="1892.7" r="3.4"/>
<circle cx="370.7" cy="1898.8" r="3.4"/>
<circle cx="376.7" cy="1896.7" r="3.4"/>
<circle cx="377.8" cy="1878.6" r="3.4"/>
<circle cx="381.8" cy="1874.6" r="3.4"/>
<circle cx="384.8" cy="1881.6" r="3.4"/>
<circle cx="387.8" cy="1873.6" r="3.4"/>
<circle cx="390.9" cy="1872.6" r="3.4"/>
<circle cx="393.9" cy="1879.6" r="3.4"/>
<circle cx="396.9" cy="1882.6" r="3.4"/>
<circle cx="399.9" cy="1888.7" r="3.4"/>
<circle cx="397.9" cy="1895.7" r="3.4"/>
<circle cx="391.9" cy="1892.7" r="3.4"/>
<circle cx="388.8" cy="1899.8" r="3.4"/>
<circle cx="383.8" cy="1889.7" r="3.4"/>
<circle cx="383.8" cy="1903.8" r="3.4"/>
<circle cx="398.3" cy="1900.8" r="3.4"/>
<circle cx="402.9" cy="1909.8" r="3.4"/>
<circle cx="399.5" cy="1919.9" r="3.4"/>
<circle cx="391.9" cy="1863.5" r="3.4"/>
<circle cx="396.9" cy="1855.4" r="3.4"/>
<circle cx="397.9" cy="1849.4" r="3.4"/>
<circle cx="401.9" cy="1865.5" r="3.4"/>
<circle cx="406.0" cy="1886.7" r="3.4"/>
<circle cx="408.1" cy="1819.5" r="3.4"/>
<circle cx="473.0" cy="1817.1" r="3.4"/>
<circle cx="408.1" cy="1846.8" r="3.4"/>
<circle cx="426.6" cy="1846.8" r="3.4"/>
<circle cx="414.5" cy="1852.0" r="3.4"/>
<circle cx="429.8" cy="1854.4" r="3.4"/>
<circle cx="425.2" cy="1857.4" r="3.4"/>
<circle cx="430.2" cy="1856.4" r="3.4"/>
<circle cx="408.1" cy="1860.1" r="3.4"/>
<circle cx="419.1" cy="1865.5" r="3.4"/>
<circle cx="426.2" cy="1867.5" r="3.4"/>
<circle cx="450.0" cy="1857.4" r="3.4"/>
<circle cx="463.5" cy="1860.1" r="3.4"/>
<circle cx="469.5" cy="1865.5" r="3.4"/>
<circle cx="470.5" cy="1865.5" r="3.4"/>
<circle cx="456.4" cy="1868.5" r="3.4"/>
<circle cx="479.6" cy="1846.8" r="3.4"/>
<circle cx="486.7" cy="1857.4" r="3.4"/>
<circle cx="494.3" cy="1852.0" r="3.4"/>
<circle cx="498.2" cy="1857.8" r="3.4"/>
<circle cx="520.9" cy="1857.0" r="3.4"/>
<circle cx="516.5" cy="1863.1" r="3.4"/>
<circle cx="526.0" cy="1865.5" r="3.4"/>
<circle cx="505.2" cy="1871.0" r="3.4"/>
<circle cx="515.9" cy="1876.6" r="3.4"/>
<circle cx="545.1" cy="1871.0" r="3.4"/>
<circle cx="554.2" cy="1868.5" r="3.4"/>
<circle cx="548.1" cy="1876.6" r="3.4"/>
<circle cx="547.1" cy="1875.6" r="3.4"/>
<circle cx="410.1" cy="1876.2" r="3.4"/>
<circle cx="418.1" cy="1873.6" r="3.4"/>
<circle cx="424.2" cy="1876.6" r="3.4"/>
<circle cx="432.2" cy="1873.6" r="3.4"/>
<circle cx="439.3" cy="1876.6" r="3.4"/>
<circle cx="420.2" cy="1882.6" r="3.4"/>
<circle cx="424.2" cy="1884.7" r="3.4"/>
<circle cx="429.2" cy="1883.6" r="3.4"/>
<circle cx="434.3" cy="1889.7" r="3.4"/>
<circle cx="440.3" cy="1884.7" r="3.4"/>
<circle cx="414.1" cy="1887.1" r="3.4"/>
<circle cx="426.2" cy="1892.7" r="3.4"/>
<circle cx="449.4" cy="1878.6" r="3.4"/>
<circle cx="448.4" cy="1881.6" r="3.4"/>
<circle cx="458.4" cy="1873.6" r="3.4"/>
<circle cx="464.5" cy="1871.5" r="3.4"/>
<circle cx="466.5" cy="1874.6" r="3.4"/>
<circle cx="473.6" cy="1877.6" r="3.4"/>
<circle cx="480.6" cy="1873.6" r="3.4"/>
<circle cx="469.5" cy="1884.7" r="3.4"/>
<circle cx="491.7" cy="1870.5" r="3.4"/>
<circle cx="489.7" cy="1876.6" r="3.4"/>
<circle cx="493.7" cy="1876.6" r="3.4"/>
<circle cx="498.8" cy="1881.6" r="3.4"/>
<circle cx="482.6" cy="1887.1" r="3.4"/>
<circle cx="488.7" cy="1888.7" r="3.4"/>
<circle cx="490.7" cy="1886.7" r="3.4"/>
<circle cx="497.8" cy="1890.7" r="3.4"/>
<circle cx="498.8" cy="1892.7" r="3.4"/>
<circle cx="508.8" cy="1889.7" r="3.4"/>
<circle cx="514.9" cy="1892.7" r="3.4"/>
<circle cx="518.9" cy="1889.7" r="3.4"/>
<circle cx="549.1" cy="1889.7" r="3.4"/>
<circle cx="554.2" cy="1895.3" r="3.4"/>
<circle cx="581.0" cy="1887.1" r="3.4"/>
<circle cx="408.1" cy="1905.8" r="3.4"/>
<circle cx="403.0" cy="1908.8" r="3.4"/>
<circle cx="415.1" cy="1911.9" r="3.4"/>
<circle cx="420.2" cy="1908.8" r="3.4"/>
<circle cx="417.7" cy="1919.9" r="3.4"/>
<circle cx="428.8" cy="1928.0" r="3.4"/>
<circle cx="439.9" cy="1919.9" r="3.4"/>
<circle cx="448.4" cy="1897.8" r="3.4"/>
<circle cx="453.4" cy="1898.8" r="3.4"/>
<circle cx="449.4" cy="1905.8" r="3.4"/>
<circle cx="450.4" cy="1909.8" r="3.4"/>
<circle cx="460.5" cy="1898.8" r="3.4"/>
<circle cx="464.5" cy="1897.8" r="3.4"/>
<circle cx="471.6" cy="1894.7" r="3.4"/>
<circle cx="474.6" cy="1895.7" r="3.4"/>
<circle cx="476.6" cy="1905.8" r="3.4"/>
<circle cx="469.5" cy="1911.9" r="3.4"/>
<circle cx="469.5" cy="1914.9" r="3.4"/>
<circle cx="484.6" cy="1916.9" r="3.4"/>
<circle cx="487.7" cy="1913.9" r="3.4"/>
<circle cx="496.7" cy="1916.9" r="3.4"/>
<circle cx="503.8" cy="1922.3" r="3.4"/>
<circle cx="502.8" cy="1908.8" r="3.4"/>
<circle cx="484.6" cy="1898.8" r="3.4"/>
<circle cx="486.7" cy="1893.7" r="3.4"/>
<circle cx="519.9" cy="1931.0" r="3.4"/>
<circle cx="525.0" cy="1911.5" r="3.4"/>
<circle cx="531.0" cy="1911.9" r="3.4"/>
<circle cx="539.1" cy="1905.8" r="3.4"/>
<circle cx="542.1" cy="1903.2" r="3.4"/>
<circle cx="576.4" cy="1909.2" r="3.4"/>
<circle cx="461.6" cy="1898.4" r="3.4"/>
<circle cx="277.5" cy="1852.5" r="3.4"/>
<circle cx="467.8" cy="1870.0" r="3.4"/>
<circle cx="382.0" cy="1902.8" r="3.4"/>
<circle cx="303.8" cy="1886.1" r="3.4"/>
<circle cx="535.2" cy="1910.5" r="3.4"/>
<circle cx="282.9" cy="1895.7" r="3.4"/>
<circle cx="241.3" cy="1904.5" r="3.4"/>
<circle cx="294.4" cy="1871.9" r="3.4"/>
<circle cx="393.9" cy="1880.4" r="3.4"/>
<circle cx="347.2" cy="1870.7" r="3.4"/>
<circle cx="541.1" cy="1901.2" r="3.4"/>
<circle cx="492.4" cy="1881.2" r="3.4"/>
<circle cx="515.4" cy="1886.5" r="3.4"/>
<circle cx="368.5" cy="1872.5" r="3.4"/>
<circle cx="296.3" cy="1830.7" r="3.4"/>
<circle cx="358.7" cy="1900.0" r="3.4"/>
<circle cx="396.4" cy="1908.8" r="3.4"/>
<circle cx="365.2" cy="1868.5" r="3.4"/>
<circle cx="355.5" cy="1897.5" r="3.4"/>
<circle cx="544.7" cy="1875.8" r="3.4"/>
<circle cx="343.8" cy="1865.5" r="3.4"/>
<circle cx="514.0" cy="1900.4" r="3.4"/>
<circle cx="333.7" cy="1874.1" r="3.4"/>
<circle cx="365.7" cy="1898.2" r="3.4"/>
<circle cx="391.0" cy="1894.9" r="3.4"/>
<circle cx="381.2" cy="1894.8" r="3.4"/>
<circle cx="271.3" cy="1841.7" r="3.4"/>
<circle cx="517.0" cy="1898.1" r="3.4"/>
<circle cx="261.3" cy="1852.1" r="3.4"/>
<circle cx="317.5" cy="1856.3" r="3.4"/>
<circle cx="383.4" cy="1872.5" r="3.4"/>
<circle cx="309.9" cy="1854.9" r="3.4"/>
<circle cx="551.4" cy="1877.3" r="3.4"/>
<circle cx="292.4" cy="1855.1" r="3.4"/>
<circle cx="466.1" cy="1899.7" r="3.4"/>
<circle cx="240.9" cy="1899.1" r="3.4"/>
<circle cx="299.3" cy="1837.2" r="3.4"/>
<circle cx="299.3" cy="1882.5" r="3.4"/>
<circle cx="293.8" cy="1833.0" r="3.4"/>
<circle cx="402.9" cy="1908.1" r="3.4"/>
<circle cx="354.3" cy="1874.3" r="3.4"/>
<circle cx="419.7" cy="1875.1" r="3.4"/>
<circle cx="442.9" cy="1872.4" r="3.4"/>
<circle cx="373.5" cy="1910.9" r="3.4"/>
<circle cx="343.5" cy="1878.9" r="3.4"/>
<circle cx="485.9" cy="1890.4" r="3.4"/>
<circle cx="287.1" cy="1884.5" r="3.4"/>
<circle cx="464.2" cy="1902.5" r="3.4"/>
<circle cx="309.6" cy="1880.1" r="3.4"/>
<circle cx="286.3" cy="1844.3" r="3.4"/>
</g>
<line x1="187.0" y1="1857.7" x2="579.8" y2="1895.6" stroke="#727272" stroke-width="1.5"/>
</g>
<g>
<rect x="783.25" y="1769.30" width="3.5" height="274.35" fill="#000"/>
<rect x="774.00" y="2040.15" width="11.00" height="3.5" fill="#000"/>
<text x="771.00" y="2048.50" text-anchor="end" style="font-family:'Liberation Serif',serif;font-weight:bold;font-size:18.7px">0</text>
<rect x="774.00" y="1985.98" width="11.00" height="3.5" fill="#000"/>
<text x="771.00" y="1994.33" text-anchor="end" style="font-family:'Liberation Serif',serif;font-weight:bold;font-size:18.7px">20</text>
<rect x="774.00" y="1931.81" width="11.00" height="3.5" fill="#000"/>
<text x="771.00" y="1940.16" text-anchor="end" style="font-family:'Liberation Serif',serif;font-weight:bold;font-size:18.7px">40</text>
<rect x="774.00" y="1877.64" width="11.00" height="3.5" fill="#000"/>
<text x="771.00" y="1885.99" text-anchor="end" style="font-family:'Liberation Serif',serif;font-weight:bold;font-size:18.7px">60</text>
<rect x="774.00" y="1823.47" width="11.00" height="3.5" fill="#000"/>
<text x="771.00" y="1831.82" text-anchor="end" style="font-family:'Liberation Serif',serif;font-weight:bold;font-size:18.7px">80</text>
<rect x="774.00" y="1769.30" width="11.00" height="3.5" fill="#000"/>
<text x="771.00" y="1777.65" text-anchor="end" style="font-family:'Liberation Serif',serif;font-weight:bold;font-size:18.7px">100</text>
<rect x="785.00" y="2040.15" width="493.25" height="3.5" fill="#000"/>
<rect x="783.25" y="2041.90" width="3.5" height="11.30" fill="#000"/>
<text x="785.00" y="2073.10" text-anchor="middle" style="font-family:'Liberation Serif',serif;font-weight:bold;font-size:18.7px">0</text>
<rect x="947.08" y="2041.90" width="3.5" height="11.30" fill="#000"/>
<text x="948.83" y="2073.10" text-anchor="middle" style="font-family:'Liberation Serif',serif;font-weight:bold;font-size:18.7px">10</text>
<rect x="1110.92" y="2041.90" width="3.5" height="11.30" fill="#000"/>
<text x="1112.67" y="2073.10" text-anchor="middle" style="font-family:'Liberation Serif',serif;font-weight:bold;font-size:18.7px">20</text>
<rect x="1274.75" y="2041.90" width="3.5" height="11.30" fill="#000"/>
<text x="1276.50" y="2073.10" text-anchor="middle" style="font-family:'Liberation Serif',serif;font-weight:bold;font-size:18.7px">30</text>
<rect x="799.63" y="2041.90" width="3.5" height="6.00" fill="#000"/>
<rect x="816.02" y="2041.90" width="3.5" height="6.00" fill="#000"/>
<rect x="832.40" y="2041.90" width="3.5" height="6.00" fill="#000"/>
<rect x="848.78" y="2041.90" width="3.5" height="6.00" fill="#000"/>
<rect x="865.17" y="2041.90" width="3.5" height="6.00" fill="#000"/>
<rect x="881.55" y="2041.90" width="3.5" height="6.00" fill="#000"/>
<rect x="897.93" y="2041.90" width="3.5" height="6.00" fill="#000"/>
<rect x="914.32" y="2041.90" width="3.5" height="6.00" fill="#000"/>
<rect x="930.70" y="2041.90" width="3.5" height="6.00" fill="#000"/>
<rect x="963.47" y="2041.90" width="3.5" height="6.00" fill="#000"/>
<rect x="979.85" y="2041.90" width="3.5" height="6.00" fill="#000"/>
<rect x="996.23" y="2041.90" width="3.5" height="6.00" fill="#000"/>
<rect x="1012.62" y="2041.90" width="3.5" height="6.00" fill="#000"/>
<rect x="1029.00" y="2041.90" width="3.5" height="6.00" fill="#000"/>
<rect x="1045.38" y="2041.90" width="3.5" height="6.00" fill="#000"/>
<rect x="1061.77" y="2041.90" width="3.5" height="6.00" fill="#000"/>
<rect x="1078.15" y="2041.90" width="3.5" height="6.00" fill="#000"/>
<rect x="1094.53" y="2041.90" width="3.5" height="6.00" fill="#000"/>
<rect x="1127.30" y="2041.90" width="3.5" height="6.00" fill="#000"/>
<rect x="1143.68" y="2041.90" width="3.5" height="6.00" fill="#000"/>
<rect x="1160.07" y="2041.90" width="3.5" height="6.00" fill="#000"/>
<rect x="1176.45" y="2041.90" width="3.5" height="6.00" fill="#000"/>
<rect x="1192.83" y="2041.90" width="3.5" height="6.00" fill="#000"/>
<rect x="1209.22" y="2041.90" width="3.5" height="6.00" fill="#000"/>
<rect x="1225.60" y="2041.90" width="3.5" height="6.00" fill="#000"/>
<rect x="1241.98" y="2041.90" width="3.5" height="6.00" fill="#000"/>
<rect x="1258.37" y="2041.90" width="3.5" height="6.00" fill="#000"/>
<text x="1030.75" y="2106.20" text-anchor="middle" style="font-family:'Liberation Serif',serif;font-weight:bold;font-size:20.7px">S100A12_Protein</text>
<text transform="translate(730.65,1906.47) rotate(-90)" text-anchor="middle" style="font-family:'Liberation Serif',serif;font-weight:bold;font-size:21px">LVEF %</text>
<g fill="#f4f4cc" fill-opacity="0.75" stroke="#1e1e14" stroke-opacity="0.85" stroke-width="1.9">
<circle cx="876.8" cy="1835.9" r="3.4"/>
<circle cx="902.0" cy="1832.8" r="3.4"/>
<circle cx="922.2" cy="1817.1" r="3.4"/>
<circle cx="918.9" cy="1827.8" r="3.4"/>
<circle cx="915.5" cy="1836.3" r="3.4"/>
<circle cx="925.6" cy="1838.3" r="3.4"/>
<circle cx="933.2" cy="1832.8" r="3.4"/>
<circle cx="940.7" cy="1835.9" r="3.4"/>
<circle cx="934.6" cy="1843.9" r="3.4"/>
<circle cx="943.1" cy="1846.8" r="3.4"/>
<circle cx="910.1" cy="1846.8" r="3.4"/>
<circle cx="910.5" cy="1848.4" r="3.4"/>
<circle cx="913.1" cy="1854.8" r="3.4"/>
<circle cx="895.4" cy="1860.1" r="3.4"/>
<circle cx="895.4" cy="1865.5" r="3.4"/>
<circle cx="909.5" cy="1862.9" r="3.4"/>
<circle cx="911.5" cy="1871.0" r="3.4"/>
<circle cx="920.5" cy="1876.6" r="3.4"/>
<circle cx="923.6" cy="1873.6" r="3.4"/>
<circle cx="926.6" cy="1865.5" r="3.4"/>
<circle cx="930.6" cy="1876.6" r="3.4"/>
<circle cx="932.6" cy="1854.4" r="3.4"/>
<circle cx="931.6" cy="1858.5" r="3.4"/>
<circle cx="934.6" cy="1884.7" r="3.4"/>
<circle cx="944.7" cy="1886.7" r="3.4"/>
<circle cx="945.7" cy="1890.7" r="3.4"/>
<circle cx="946.7" cy="1879.0" r="3.4"/>
<circle cx="948.8" cy="1871.0" r="3.4"/>
<circle cx="943.7" cy="1857.4" r="3.4"/>
<circle cx="944.7" cy="1862.5" r="3.4"/>
<circle cx="953.8" cy="1842.3" r="3.4"/>
<circle cx="954.8" cy="1836.3" r="3.4"/>
<circle cx="956.8" cy="1832.2" r="3.4"/>
<circle cx="959.8" cy="1838.3" r="3.4"/>
<circle cx="949.8" cy="1844.3" r="3.4"/>
<circle cx="951.8" cy="1850.4" r="3.4"/>
<circle cx="956.8" cy="1851.4" r="3.4"/>
<circle cx="959.8" cy="1854.4" r="3.4"/>
<circle cx="962.9" cy="1846.8" r="3.4"/>
<circle cx="950.8" cy="1859.5" r="3.4"/>
<circle cx="954.8" cy="1860.5" r="3.4"/>
<circle cx="961.9" cy="1858.5" r="3.4"/>
<circle cx="965.9" cy="1857.4" r="3.4"/>
<circle cx="968.9" cy="1854.4" r="3.4"/>
<circle cx="973.0" cy="1854.4" r="3.4"/>
<circle cx="966.9" cy="1864.5" r="3.4"/>
<circle cx="964.9" cy="1870.5" r="3.4"/>
<circle cx="975.0" cy="1868.5" r="3.4"/>
<circle cx="979.0" cy="1864.5" r="3.4"/>
<circle cx="982.0" cy="1865.5" r="3.4"/>
<circle cx="978.0" cy="1852.4" r="3.4"/>
<circle cx="980.0" cy="1846.4" r="3.4"/>
<circle cx="982.0" cy="1856.4" r="3.4"/>
<circle cx="985.0" cy="1855.4" r="3.4"/>
<circle cx="989.1" cy="1852.4" r="3.4"/>
<circle cx="996.1" cy="1848.8" r="3.4"/>
<circle cx="999.1" cy="1857.4" r="3.4"/>
<circle cx="1001.2" cy="1857.4" r="3.4"/>
<circle cx="1010.2" cy="1849.4" r="3.4"/>
<circle cx="1009.2" cy="1819.5" r="3.4"/>
<circle cx="1002.8" cy="1833.3" r="3.4"/>
<circle cx="1011.2" cy="1858.5" r="3.4"/>
<circle cx="1017.3" cy="1862.5" r="3.4"/>
<circle cx="969.9" cy="1881.6" r="3.4"/>
<circle cx="968.9" cy="1887.7" r="3.4"/>
<circle cx="976.0" cy="1874.6" r="3.4"/>
<circle cx="980.0" cy="1878.6" r="3.4"/>
<circle cx="981.0" cy="1880.6" r="3.4"/>
<circle cx="976.6" cy="1898.4" r="3.4"/>
<circle cx="986.0" cy="1889.7" r="3.4"/>
<circle cx="991.1" cy="1888.7" r="3.4"/>
<circle cx="991.1" cy="1878.6" r="3.4"/>
<circle cx="995.1" cy="1881.6" r="3.4"/>
<circle cx="992.1" cy="1862.5" r="3.4"/>
<circle cx="995.1" cy="1870.5" r="3.4"/>
<circle cx="999.1" cy="1871.5" r="3.4"/>
<circle cx="1003.2" cy="1870.5" r="3.4"/>
<circle cx="1007.2" cy="1868.5" r="3.4"/>
<circle cx="999.1" cy="1897.8" r="3.4"/>
<circle cx="1002.8" cy="1905.8" r="3.4"/>
<circle cx="1011.2" cy="1878.6" r="3.4"/>
<circle cx="1015.3" cy="1891.7" r="3.4"/>
<circle cx="1018.3" cy="1889.7" r="3.4"/>
<circle cx="1018.3" cy="1914.5" r="3.4"/>
<circle cx="1023.3" cy="1902.8" r="3.4"/>
<circle cx="1025.3" cy="1905.8" r="3.4"/>
<circle cx="1026.4" cy="1919.9" r="3.4"/>
<circle cx="1021.3" cy="1846.8" r="3.4"/>
<circle cx="1025.3" cy="1846.8" r="3.4"/>
<circle cx="1031.4" cy="1842.7" r="3.4"/>
<circle cx="1034.4" cy="1846.4" r="3.4"/>
<circle cx="1027.4" cy="1856.4" r="3.4"/>
<circle cx="1028.4" cy="1860.5" r="3.4"/>
<circle cx="1030.4" cy="1864.5" r="3.4"/>
<circle cx="1023.3" cy="1868.5" r="3.4"/>
<circle cx="1021.3" cy="1874.6" r="3.4"/>
<circle cx="1025.3" cy="1876.6" r="3.4"/>
<circle cx="1032.4" cy="1876.6" r="3.4"/>
<circle cx="1038.5" cy="1854.4" r="3.4"/>
<circle cx="1039.5" cy="1876.6" r="3.4"/>
<circle cx="1033.4" cy="1884.7" r="3.4"/>
<circle cx="1036.4" cy="1886.7" r="3.4"/>
<circle cx="1041.5" cy="1884.7" r="3.4"/>
<circle cx="1045.5" cy="1830.2" r="3.4"/>
<circle cx="1048.5" cy="1859.5" r="3.4"/>
<circle cx="1052.6" cy="1846.4" r="3.4"/>
<circle cx="1057.6" cy="1846.8" r="3.4"/>
<circle cx="1055.6" cy="1864.5" r="3.4"/>
<circle cx="1059.6" cy="1865.5" r="3.4"/>
<circle cx="1046.5" cy="1869.5" r="3.4"/>
<circle cx="1048.5" cy="1871.5" r="3.4"/>
<circle cx="1047.5" cy="1877.6" r="3.4"/>
<circle cx="1051.5" cy="1879.6" r="3.4"/>
<circle cx="1051.5" cy="1886.7" r="3.4"/>
<circle cx="1055.6" cy="1875.6" r="3.4"/>
<circle cx="1059.6" cy="1876.6" r="3.4"/>
<circle cx="1061.6" cy="1879.6" r="3.4"/>
<circle cx="1063.6" cy="1880.6" r="3.4"/>
<circle cx="1066.7" cy="1879.6" r="3.4"/>
<circle cx="1067.7" cy="1876.6" r="3.4"/>
<circle cx="1065.7" cy="1882.6" r="3.4"/>
<circle cx="1071.7" cy="1862.5" r="3.4"/>
<circle cx="1072.7" cy="1877.6" r="3.4"/>
<circle cx="1072.7" cy="1882.6" r="3.4"/>
<circle cx="1077.8" cy="1870.5" r="3.4"/>
<circle cx="1083.8" cy="1862.5" r="3.4"/>
<circle cx="1087.8" cy="1864.5" r="3.4"/>
<circle cx="1090.8" cy="1857.4" r="3.4"/>
<circle cx="1084.8" cy="1878.6" r="3.4"/>
<circle cx="1081.8" cy="1884.7" r="3.4"/>
<circle cx="1085.8" cy="1888.7" r="3.4"/>
<circle cx="1091.9" cy="1884.7" r="3.4"/>
<circle cx="1093.9" cy="1888.7" r="3.4"/>
<circle cx="1097.9" cy="1881.6" r="3.4"/>
<circle cx="1100.9" cy="1865.5" r="3.4"/>
<circle cx="1099.9" cy="1875.6" r="3.4"/>
<circle cx="1103.0" cy="1879.6" r="3.4"/>
<circle cx="1050.5" cy="1894.7" r="3.4"/>
<circle cx="1057.6" cy="1894.7" r="3.4"/>
<circle cx="1064.7" cy="1892.7" r="3.4"/>
<circle cx="1067.7" cy="1898.8" r="3.4"/>
<circle cx="1071.7" cy="1894.7" r="3.4"/>
<circle cx="1072.7" cy="1904.8" r="3.4"/>
<circle cx="1079.8" cy="1890.7" r="3.4"/>
<circle cx="1083.8" cy="1898.8" r="3.4"/>
<circle cx="1083.8" cy="1908.8" r="3.4"/>
<circle cx="1089.8" cy="1892.7" r="3.4"/>
<circle cx="1093.9" cy="1894.7" r="3.4"/>
<circle cx="1097.9" cy="1892.7" r="3.4"/>
<circle cx="1103.0" cy="1894.7" r="3.4"/>
<circle cx="1040.5" cy="1899.8" r="3.4"/>
<circle cx="1038.5" cy="1908.8" r="3.4"/>
<circle cx="1046.5" cy="1908.8" r="3.4"/>
<circle cx="1056.6" cy="1905.8" r="3.4"/>
<circle cx="1058.2" cy="1922.3" r="3.4"/>
<circle cx="1094.9" cy="1911.9" r="3.4"/>
<circle cx="1103.5" cy="1919.9" r="3.4"/>
<circle cx="1117.1" cy="1862.9" r="3.4"/>
<circle cx="1125.7" cy="1865.5" r="3.4"/>
<circle cx="1130.8" cy="1869.5" r="3.4"/>
<circle cx="1133.8" cy="1867.5" r="3.4"/>
<circle cx="1143.9" cy="1873.6" r="3.4"/>
<circle cx="1163.0" cy="1868.5" r="3.4"/>
<circle cx="1170.1" cy="1876.6" r="3.4"/>
<circle cx="1176.7" cy="1884.7" r="3.4"/>
<circle cx="1184.2" cy="1881.6" r="3.4"/>
<circle cx="1111.6" cy="1874.6" r="3.4"/>
<circle cx="1118.7" cy="1874.6" r="3.4"/>
<circle cx="1120.7" cy="1876.6" r="3.4"/>
<circle cx="1127.8" cy="1876.6" r="3.4"/>
<circle cx="1105.6" cy="1884.7" r="3.4"/>
<circle cx="1115.7" cy="1886.7" r="3.4"/>
<circle cx="1121.7" cy="1887.1" r="3.4"/>
<circle cx="1126.7" cy="1892.7" r="3.4"/>
<circle cx="1132.8" cy="1888.7" r="3.4"/>
<circle cx="1134.8" cy="1891.7" r="3.4"/>
<circle cx="1136.8" cy="1892.7" r="3.4"/>
<circle cx="1111.6" cy="1892.7" r="3.4"/>
<circle cx="1116.7" cy="1898.8" r="3.4"/>
<circle cx="1119.7" cy="1903.8" r="3.4"/>
<circle cx="1132.8" cy="1898.8" r="3.4"/>
<circle cx="1133.8" cy="1905.8" r="3.4"/>
<circle cx="1138.8" cy="1911.9" r="3.4"/>
<circle cx="1142.9" cy="1903.8" r="3.4"/>
<circle cx="1148.9" cy="1908.8" r="3.4"/>
<circle cx="1153.0" cy="1916.9" r="3.4"/>
<circle cx="1157.0" cy="1905.8" r="3.4"/>
<circle cx="1160.0" cy="1915.9" r="3.4"/>
<circle cx="1161.0" cy="1916.9" r="3.4"/>
<circle cx="1143.9" cy="1928.0" r="3.4"/>
<circle cx="1167.0" cy="1900.8" r="3.4"/>
<circle cx="1170.1" cy="1911.9" r="3.4"/>
<circle cx="1175.1" cy="1900.8" r="3.4"/>
<circle cx="1178.1" cy="1903.8" r="3.4"/>
<circle cx="1179.2" cy="1914.9" r="3.4"/>
<circle cx="1185.2" cy="1897.8" r="3.4"/>
<circle cx="1185.2" cy="1911.9" r="3.4"/>
<circle cx="1195.3" cy="1914.9" r="3.4"/>
<circle cx="1203.3" cy="1908.8" r="3.4"/>
<circle cx="1203.3" cy="1910.8" r="3.4"/>
<circle cx="1194.3" cy="1931.0" r="3.4"/>
<circle cx="1209.4" cy="1898.2" r="3.4"/>
<circle cx="1222.5" cy="1900.8" r="3.4"/>
<circle cx="1228.5" cy="1895.1" r="3.4"/>
<circle cx="1105.6" cy="1898.8" r="3.4"/>
<circle cx="1111.6" cy="1919.9" r="3.4"/>
<circle cx="939.8" cy="1876.7" r="3.4"/>
<circle cx="969.2" cy="1859.7" r="3.4"/>
<circle cx="1125.9" cy="1890.9" r="3.4"/>
<circle cx="1128.9" cy="1869.2" r="3.4"/>
<circle cx="1030.2" cy="1864.5" r="3.4"/>
<circle cx="915.0" cy="1854.5" r="3.4"/>
<circle cx="1137.5" cy="1897.3" r="3.4"/>
<circle cx="1126.8" cy="1875.1" r="3.4"/>
<circle cx="973.4" cy="1881.8" r="3.4"/>
<circle cx="943.1" cy="1894.0" r="3.4"/>
<circle cx="954.9" cy="1853.6" r="3.4"/>
<circle cx="1050.4" cy="1873.9" r="3.4"/>
<circle cx="911.8" cy="1869.4" r="3.4"/>
<circle cx="1047.6" cy="1877.3" r="3.4"/>
<circle cx="1095.4" cy="1886.5" r="3.4"/>
<circle cx="1138.6" cy="1892.1" r="3.4"/>
<circle cx="1051.8" cy="1892.5" r="3.4"/>
<circle cx="1083.0" cy="1903.8" r="3.4"/>
<circle cx="1037.2" cy="1889.9" r="3.4"/>
<circle cx="1092.4" cy="1881.5" r="3.4"/>
<circle cx="1026.8" cy="1900.3" r="3.4"/>
<circle cx="1139.8" cy="1913.2" r="3.4"/>
<circle cx="1076.7" cy="1887.2" r="3.4"/>
<circle cx="1066.8" cy="1873.9" r="3.4"/>
<circle cx="1002.4" cy="1841.0" r="3.4"/>
<circle cx="965.1" cy="1855.3" r="3.4"/>
<circle cx="1060.6" cy="1873.2" r="3.4"/>
<circle cx="1081.7" cy="1900.6" r="3.4"/>
<circle cx="1199.4" cy="1914.6" r="3.4"/>
<circle cx="1099.8" cy="1890.3" r="3.4"/>
<circle cx="1091.1" cy="1891.8" r="3.4"/>
<circle cx="1004.8" cy="1855.7" r="3.4"/>
<circle cx="942.5" cy="1843.7" r="3.4"/>
<circle cx="936.8" cy="1844.8" r="3.4"/>
<circle cx="1117.9" cy="1886.0" r="3.4"/>
<circle cx="1064.3" cy="1881.3" r="3.4"/>
<circle cx="1180.4" cy="1904.2" r="3.4"/>
<circle cx="1134.5" cy="1871.3" r="3.4"/>
<circle cx="1076.5" cy="1909.6" r="3.4"/>
<circle cx="1024.4" cy="1859.4" r="3.4"/>
<circle cx="970.1" cy="1862.7" r="3.4"/>
<circle cx="1095.7" cy="1898.5" r="3.4"/>
<circle cx="1048.6" cy="1868.7" r="3.4"/>
<circle cx="1012.8" cy="1894.0" r="3.4"/>
<circle cx="1201.3" cy="1906.2" r="3.4"/>
<circle cx="980.1" cy="1859.4" r="3.4"/>
<circle cx="1181.5" cy="1914.6" r="3.4"/>
<circle cx="1067.3" cy="1871.1" r="3.4"/>
<circle cx="953.2" cy="1843.8" r="3.4"/>
<circle cx="960.0" cy="1845.7" r="3.4"/>
<circle cx="1038.1" cy="1882.0" r="3.4"/>
<circle cx="1205.5" cy="1912.4" r="3.4"/>
<circle cx="912.0" cy="1863.7" r="3.4"/>
<circle cx="959.6" cy="1856.7" r="3.4"/>
<circle cx="960.2" cy="1871.7" r="3.4"/>
<circle cx="1082.4" cy="1895.2" r="3.4"/>
<circle cx="1075.5" cy="1887.7" r="3.4"/>
<circle cx="980.1" cy="1872.3" r="3.4"/>
<circle cx="914.9" cy="1836.5" r="3.4"/>
<circle cx="955.1" cy="1858.6" r="3.4"/>
<circle cx="1098.2" cy="1881.2" r="3.4"/>
<circle cx="1036.0" cy="1878.9" r="3.4"/>
<circle cx="1072.9" cy="1887.0" r="3.4"/>
<circle cx="1136.5" cy="1901.7" r="3.4"/>
<circle cx="1182.6" cy="1882.5" r="3.4"/>
<circle cx="1040.2" cy="1884.4" r="3.4"/>
<circle cx="979.0" cy="1856.2" r="3.4"/>
<circle cx="1183.6" cy="1893.7" r="3.4"/>
<circle cx="1063.5" cy="1879.8" r="3.4"/>
<circle cx="960.1" cy="1861.6" r="3.4"/>
<circle cx="1121.7" cy="1864.0" r="3.4"/>
<circle cx="1179.2" cy="1903.2" r="3.4"/>
<circle cx="918.4" cy="1876.0" r="3.4"/>
<circle cx="1056.1" cy="1897.5" r="3.4"/>
<circle cx="953.1" cy="1841.6" r="3.4"/>
<circle cx="1054.5" cy="1882.7" r="3.4"/>
<circle cx="1143.6" cy="1893.5" r="3.4"/>
<circle cx="1055.1" cy="1870.8" r="3.4"/>
<circle cx="989.7" cy="1853.6" r="3.4"/>
<circle cx="1163.7" cy="1908.0" r="3.4"/>
<circle cx="924.1" cy="1839.2" r="3.4"/>
<circle cx="1080.4" cy="1887.4" r="3.4"/>
<circle cx="1052.5" cy="1878.1" r="3.4"/>
<circle cx="975.5" cy="1856.3" r="3.4"/>
</g>
<line x1="878.4" y1="1845.5" x2="1227.3" y2="1910.5" stroke="#727272" stroke-width="1.5"/>
</g>
<text x="34.2" y="2111.8" text-anchor="end" fill="#000" stroke="#fff" stroke-width="0.7" transform="translate(32,0) scale(1.13,1) translate(-32,0)" style="font-family:'Liberation Serif',serif;font-size:39.5px">G</text>
<g>
<rect x="142.25" y="2154.25" width="3.5" height="273.50" fill="#000"/>
<rect x="133.00" y="2424.25" width="11.00" height="3.5" fill="#000"/>
<text x="130.00" y="2432.60" text-anchor="end" style="font-family:'Liberation Serif',serif;font-weight:bold;font-size:18.7px">0</text>
<rect x="133.00" y="2370.25" width="11.00" height="3.5" fill="#000"/>
<text x="130.00" y="2378.60" text-anchor="end" style="font-family:'Liberation Serif',serif;font-weight:bold;font-size:18.7px">30</text>
<rect x="133.00" y="2316.25" width="11.00" height="3.5" fill="#000"/>
<text x="130.00" y="2324.60" text-anchor="end" style="font-family:'Liberation Serif',serif;font-weight:bold;font-size:18.7px">60</text>
<rect x="133.00" y="2262.25" width="11.00" height="3.5" fill="#000"/>
<text x="130.00" y="2270.60" text-anchor="end" style="font-family:'Liberation Serif',serif;font-weight:bold;font-size:18.7px">90</text>
<rect x="133.00" y="2208.25" width="11.00" height="3.5" fill="#000"/>
<text x="130.00" y="2216.60" text-anchor="end" style="font-family:'Liberation Serif',serif;font-weight:bold;font-size:18.7px">120</text>
<rect x="133.00" y="2154.25" width="11.00" height="3.5" fill="#000"/>
<text x="130.00" y="2162.60" text-anchor="end" style="font-family:'Liberation Serif',serif;font-weight:bold;font-size:18.7px">150</text>
<rect x="144.00" y="2424.25" width="492.75" height="3.5" fill="#000"/>
<rect x="142.25" y="2426.00" width="3.5" height="11.30" fill="#000"/>
<text x="144.00" y="2457.20" text-anchor="middle" style="font-family:'Liberation Serif',serif;font-weight:bold;font-size:18.7px">0</text>
<rect x="265.00" y="2426.00" width="3.5" height="11.30" fill="#000"/>
<text x="266.75" y="2457.20" text-anchor="middle" style="font-family:'Liberation Serif',serif;font-weight:bold;font-size:18.7px">1</text>
<rect x="387.75" y="2426.00" width="3.5" height="11.30" fill="#000"/>
<text x="389.50" y="2457.20" text-anchor="middle" style="font-family:'Liberation Serif',serif;font-weight:bold;font-size:18.7px">2</text>
<rect x="510.50" y="2426.00" width="3.5" height="11.30" fill="#000"/>
<text x="512.25" y="2457.20" text-anchor="middle" style="font-family:'Liberation Serif',serif;font-weight:bold;font-size:18.7px">3</text>
<rect x="633.25" y="2426.00" width="3.5" height="11.30" fill="#000"/>
<text x="635.00" y="2457.20" text-anchor="middle" style="font-family:'Liberation Serif',serif;font-weight:bold;font-size:18.7px">4</text>
<text x="389.50" y="2490.00" text-anchor="middle" style="font-family:'Liberation Serif',serif;font-weight:bold;font-size:20.7px">S100A12_mRNA</text>
<text transform="translate(89.65,2291.00) rotate(-90)" text-anchor="middle" style="font-family:'Liberation Serif',serif;font-weight:bold;font-size:21px">MAP mmHg</text>
<g fill="#000" fill-opacity="0.54" stroke="#000" stroke-opacity="0.75" stroke-width="1.8">
<rect x="182.8" y="2298.1" width="7.0" height="7.0"/>
<rect x="185.8" y="2269.3" width="7.0" height="7.0"/>
<rect x="187.8" y="2273.9" width="7.0" height="7.0"/>
<rect x="201.9" y="2254.8" width="7.0" height="7.0"/>
<rect x="203.9" y="2256.8" width="7.0" height="7.0"/>
<rect x="214.0" y="2254.8" width="7.0" height="7.0"/>
<rect x="225.1" y="2253.2" width="7.0" height="7.0"/>
<rect x="233.6" y="2247.1" width="7.0" height="7.0"/>
<rect x="235.2" y="2254.8" width="7.0" height="7.0"/>
<rect x="226.1" y="2267.9" width="7.0" height="7.0"/>
<rect x="231.2" y="2265.9" width="7.0" height="7.0"/>
<rect x="209.0" y="2287.0" width="7.0" height="7.0"/>
<rect x="229.7" y="2296.7" width="7.0" height="7.0"/>
<rect x="240.8" y="2284.0" width="7.0" height="7.0"/>
<rect x="248.3" y="2246.7" width="7.0" height="7.0"/>
<rect x="251.3" y="2250.8" width="7.0" height="7.0"/>
<rect x="254.3" y="2251.8" width="7.0" height="7.0"/>
<rect x="243.2" y="2259.8" width="7.0" height="7.0"/>
<rect x="247.3" y="2263.9" width="7.0" height="7.0"/>
<rect x="251.3" y="2264.9" width="7.0" height="7.0"/>
<rect x="255.3" y="2262.9" width="7.0" height="7.0"/>
<rect x="258.4" y="2259.8" width="7.0" height="7.0"/>
<rect x="263.4" y="2258.8" width="7.0" height="7.0"/>
<rect x="267.4" y="2257.8" width="7.0" height="7.0"/>
<rect x="270.4" y="2258.8" width="7.0" height="7.0"/>
<rect x="276.5" y="2254.8" width="7.0" height="7.0"/>
<rect x="269.4" y="2267.9" width="7.0" height="7.0"/>
<rect x="263.4" y="2274.9" width="7.0" height="7.0"/>
<rect x="269.4" y="2274.9" width="7.0" height="7.0"/>
<rect x="263.4" y="2282.0" width="7.0" height="7.0"/>
<rect x="259.4" y="2288.1" width="7.0" height="7.0"/>
<rect x="278.5" y="2285.0" width="7.0" height="7.0"/>
<rect x="279.5" y="2267.9" width="7.0" height="7.0"/>
<rect x="283.6" y="2268.9" width="7.0" height="7.0"/>
<rect x="288.6" y="2243.7" width="7.0" height="7.0"/>
<rect x="291.6" y="2259.8" width="7.0" height="7.0"/>
<rect x="294.6" y="2268.9" width="7.0" height="7.0"/>
<rect x="294.6" y="2276.0" width="7.0" height="7.0"/>
<rect x="297.7" y="2251.8" width="7.0" height="7.0"/>
<rect x="303.7" y="2255.8" width="7.0" height="7.0"/>
<rect x="308.8" y="2254.8" width="7.0" height="7.0"/>
<rect x="311.8" y="2270.9" width="7.0" height="7.0"/>
<rect x="322.9" y="2254.8" width="7.0" height="7.0"/>
<rect x="320.8" y="2267.9" width="7.0" height="7.0"/>
<rect x="327.9" y="2267.9" width="7.0" height="7.0"/>
<rect x="331.9" y="2272.9" width="7.0" height="7.0"/>
<rect x="336.0" y="2265.9" width="7.0" height="7.0"/>
<rect x="334.9" y="2274.9" width="7.0" height="7.0"/>
<rect x="344.0" y="2261.8" width="7.0" height="7.0"/>
<rect x="237.2" y="2330.4" width="7.0" height="7.0"/>
<rect x="241.2" y="2329.4" width="7.0" height="7.0"/>
<rect x="263.0" y="2307.6" width="7.0" height="7.0"/>
<rect x="264.4" y="2320.3" width="7.0" height="7.0"/>
<rect x="272.5" y="2298.1" width="7.0" height="7.0"/>
<rect x="278.5" y="2302.2" width="7.0" height="7.0"/>
<rect x="284.6" y="2294.1" width="7.0" height="7.0"/>
<rect x="287.6" y="2297.1" width="7.0" height="7.0"/>
<rect x="291.6" y="2293.1" width="7.0" height="7.0"/>
<rect x="294.6" y="2299.1" width="7.0" height="7.0"/>
<rect x="299.7" y="2301.2" width="7.0" height="7.0"/>
<rect x="301.7" y="2305.2" width="7.0" height="7.0"/>
<rect x="296.7" y="2317.3" width="7.0" height="7.0"/>
<rect x="301.7" y="2313.2" width="7.0" height="7.0"/>
<rect x="310.8" y="2311.2" width="7.0" height="7.0"/>
<rect x="313.8" y="2316.3" width="7.0" height="7.0"/>
<rect x="303.7" y="2292.1" width="7.0" height="7.0"/>
<rect x="307.7" y="2293.1" width="7.0" height="7.0"/>
<rect x="311.8" y="2294.1" width="7.0" height="7.0"/>
<rect x="316.8" y="2297.1" width="7.0" height="7.0"/>
<rect x="285.2" y="2320.3" width="7.0" height="7.0"/>
<rect x="304.7" y="2331.0" width="7.0" height="7.0"/>
<rect x="310.8" y="2329.4" width="7.0" height="7.0"/>
<rect x="323.9" y="2303.2" width="7.0" height="7.0"/>
<rect x="327.9" y="2301.2" width="7.0" height="7.0"/>
<rect x="332.9" y="2301.2" width="7.0" height="7.0"/>
<rect x="323.9" y="2311.2" width="7.0" height="7.0"/>
<rect x="324.9" y="2315.3" width="7.0" height="7.0"/>
<rect x="333.9" y="2312.2" width="7.0" height="7.0"/>
<rect x="326.9" y="2321.3" width="7.0" height="7.0"/>
<rect x="339.0" y="2294.1" width="7.0" height="7.0"/>
<rect x="343.0" y="2293.1" width="7.0" height="7.0"/>
<rect x="346.0" y="2292.1" width="7.0" height="7.0"/>
<rect x="348.1" y="2297.1" width="7.0" height="7.0"/>
<rect x="350.1" y="2299.1" width="7.0" height="7.0"/>
<rect x="356.1" y="2285.0" width="7.0" height="7.0"/>
<rect x="363.2" y="2286.0" width="7.0" height="7.0"/>
<rect x="364.2" y="2294.1" width="7.0" height="7.0"/>
<rect x="345.0" y="2305.2" width="7.0" height="7.0"/>
<rect x="348.1" y="2308.2" width="7.0" height="7.0"/>
<rect x="346.0" y="2313.2" width="7.0" height="7.0"/>
<rect x="352.1" y="2305.2" width="7.0" height="7.0"/>
<rect x="350.1" y="2321.3" width="7.0" height="7.0"/>
<rect x="340.0" y="2317.3" width="7.0" height="7.0"/>
<rect x="343.0" y="2323.3" width="7.0" height="7.0"/>
<rect x="341.0" y="2332.4" width="7.0" height="7.0"/>
<rect x="358.1" y="2311.2" width="7.0" height="7.0"/>
<rect x="360.1" y="2317.3" width="7.0" height="7.0"/>
<rect x="364.2" y="2309.2" width="7.0" height="7.0"/>
<rect x="368.2" y="2311.2" width="7.0" height="7.0"/>
<rect x="372.2" y="2297.1" width="7.0" height="7.0"/>
<rect x="374.2" y="2301.2" width="7.0" height="7.0"/>
<rect x="378.3" y="2305.2" width="7.0" height="7.0"/>
<rect x="380.3" y="2313.2" width="7.0" height="7.0"/>
<rect x="384.3" y="2310.2" width="7.0" height="7.0"/>
<rect x="388.4" y="2307.2" width="7.0" height="7.0"/>
<rect x="390.4" y="2313.2" width="7.0" height="7.0"/>
<rect x="394.4" y="2311.2" width="7.0" height="7.0"/>
<rect x="398.4" y="2309.2" width="7.0" height="7.0"/>
<rect x="402.5" y="2313.2" width="7.0" height="7.0"/>
<rect x="360.1" y="2332.4" width="7.0" height="7.0"/>
<rect x="362.2" y="2325.3" width="7.0" height="7.0"/>
<rect x="368.2" y="2331.4" width="7.0" height="7.0"/>
<rect x="373.2" y="2338.4" width="7.0" height="7.0"/>
<rect x="380.3" y="2323.3" width="7.0" height="7.0"/>
<rect x="381.3" y="2347.5" width="7.0" height="7.0"/>
<rect x="386.3" y="2331.4" width="7.0" height="7.0"/>
<rect x="390.4" y="2339.4" width="7.0" height="7.0"/>
<rect x="394.4" y="2339.4" width="7.0" height="7.0"/>
<rect x="396.4" y="2323.3" width="7.0" height="7.0"/>
<rect x="402.5" y="2323.3" width="7.0" height="7.0"/>
<rect x="387.4" y="2291.1" width="7.0" height="7.0"/>
<rect x="396.4" y="2287.0" width="7.0" height="7.0"/>
<rect x="402.5" y="2290.1" width="7.0" height="7.0"/>
<rect x="386.3" y="2297.1" width="7.0" height="7.0"/>
<rect x="392.4" y="2299.1" width="7.0" height="7.0"/>
<rect x="400.4" y="2299.1" width="7.0" height="7.0"/>
<rect x="378.3" y="2293.1" width="7.0" height="7.0"/>
<rect x="373.2" y="2303.2" width="7.0" height="7.0"/>
<rect x="482.8" y="2276.6" width="7.0" height="7.0"/>
<rect x="421.7" y="2287.0" width="7.0" height="7.0"/>
<rect x="404.6" y="2291.1" width="7.0" height="7.0"/>
<rect x="411.6" y="2294.1" width="7.0" height="7.0"/>
<rect x="444.9" y="2298.1" width="7.0" height="7.0"/>
<rect x="469.5" y="2292.7" width="7.0" height="7.0"/>
<rect x="464.0" y="2300.1" width="7.0" height="7.0"/>
<rect x="467.0" y="2301.2" width="7.0" height="7.0"/>
<rect x="513.4" y="2294.5" width="7.0" height="7.0"/>
<rect x="490.2" y="2303.6" width="7.0" height="7.0"/>
<rect x="498.3" y="2304.2" width="7.0" height="7.0"/>
<rect x="501.3" y="2305.2" width="7.0" height="7.0"/>
<rect x="515.4" y="2308.2" width="7.0" height="7.0"/>
<rect x="517.4" y="2314.2" width="7.0" height="7.0"/>
<rect x="509.4" y="2314.2" width="7.0" height="7.0"/>
<rect x="542.6" y="2305.2" width="7.0" height="7.0"/>
<rect x="545.6" y="2319.7" width="7.0" height="7.0"/>
<rect x="550.7" y="2318.3" width="7.0" height="7.0"/>
<rect x="572.9" y="2316.3" width="7.0" height="7.0"/>
<rect x="577.9" y="2316.3" width="7.0" height="7.0"/>
<rect x="404.6" y="2305.2" width="7.0" height="7.0"/>
<rect x="410.6" y="2309.2" width="7.0" height="7.0"/>
<rect x="416.7" y="2307.2" width="7.0" height="7.0"/>
<rect x="422.7" y="2301.2" width="7.0" height="7.0"/>
<rect x="426.7" y="2299.1" width="7.0" height="7.0"/>
<rect x="434.8" y="2309.2" width="7.0" height="7.0"/>
<rect x="444.9" y="2310.2" width="7.0" height="7.0"/>
<rect x="428.8" y="2315.3" width="7.0" height="7.0"/>
<rect x="436.8" y="2318.3" width="7.0" height="7.0"/>
<rect x="420.7" y="2321.3" width="7.0" height="7.0"/>
<rect x="424.7" y="2325.3" width="7.0" height="7.0"/>
<rect x="416.7" y="2326.3" width="7.0" height="7.0"/>
<rect x="429.8" y="2334.4" width="7.0" height="7.0"/>
<rect x="421.7" y="2337.4" width="7.0" height="7.0"/>
<rect x="411.6" y="2343.5" width="7.0" height="7.0"/>
<rect x="424.7" y="2347.5" width="7.0" height="7.0"/>
<rect x="435.8" y="2350.5" width="7.0" height="7.0"/>
<rect x="444.9" y="2321.3" width="7.0" height="7.0"/>
<rect x="448.9" y="2325.3" width="7.0" height="7.0"/>
<rect x="452.9" y="2329.4" width="7.0" height="7.0"/>
<rect x="446.9" y="2332.4" width="7.0" height="7.0"/>
<rect x="457.0" y="2333.4" width="7.0" height="7.0"/>
<rect x="449.9" y="2339.4" width="7.0" height="7.0"/>
<rect x="459.0" y="2342.5" width="7.0" height="7.0"/>
<rect x="459.0" y="2315.3" width="7.0" height="7.0"/>
<rect x="465.0" y="2315.3" width="7.0" height="7.0"/>
<rect x="471.1" y="2314.2" width="7.0" height="7.0"/>
<rect x="469.1" y="2320.3" width="7.0" height="7.0"/>
<rect x="469.1" y="2327.3" width="7.0" height="7.0"/>
<rect x="477.1" y="2319.3" width="7.0" height="7.0"/>
<rect x="481.1" y="2315.3" width="7.0" height="7.0"/>
<rect x="485.2" y="2311.2" width="7.0" height="7.0"/>
<rect x="489.2" y="2317.3" width="7.0" height="7.0"/>
<rect x="495.3" y="2317.3" width="7.0" height="7.0"/>
<rect x="485.2" y="2323.3" width="7.0" height="7.0"/>
<rect x="491.2" y="2325.3" width="7.0" height="7.0"/>
<rect x="495.3" y="2326.3" width="7.0" height="7.0"/>
<rect x="481.1" y="2331.4" width="7.0" height="7.0"/>
<rect x="477.1" y="2336.4" width="7.0" height="7.0"/>
<rect x="485.2" y="2337.4" width="7.0" height="7.0"/>
<rect x="489.2" y="2339.4" width="7.0" height="7.0"/>
<rect x="494.2" y="2339.4" width="7.0" height="7.0"/>
<rect x="485.2" y="2342.5" width="7.0" height="7.0"/>
<rect x="466.0" y="2347.5" width="7.0" height="7.0"/>
<rect x="473.1" y="2347.1" width="7.0" height="7.0"/>
<rect x="495.3" y="2352.1" width="7.0" height="7.0"/>
<rect x="505.3" y="2318.3" width="7.0" height="7.0"/>
<rect x="513.4" y="2326.3" width="7.0" height="7.0"/>
<rect x="521.5" y="2328.4" width="7.0" height="7.0"/>
<rect x="512.4" y="2344.5" width="7.0" height="7.0"/>
<rect x="517.4" y="2340.4" width="7.0" height="7.0"/>
<rect x="521.5" y="2339.4" width="7.0" height="7.0"/>
<rect x="527.5" y="2337.4" width="7.0" height="7.0"/>
<rect x="535.6" y="2326.3" width="7.0" height="7.0"/>
<rect x="537.6" y="2336.4" width="7.0" height="7.0"/>
<rect x="541.6" y="2331.4" width="7.0" height="7.0"/>
<rect x="545.6" y="2332.4" width="7.0" height="7.0"/>
<rect x="550.7" y="2334.4" width="7.0" height="7.0"/>
<rect x="296.1" y="2250.3" width="7.0" height="7.0"/>
<rect x="575.2" y="2314.1" width="7.0" height="7.0"/>
<rect x="385.4" y="2296.7" width="7.0" height="7.0"/>
<rect x="391.3" y="2308.3" width="7.0" height="7.0"/>
<rect x="494.9" y="2313.9" width="7.0" height="7.0"/>
<rect x="299.1" y="2303.7" width="7.0" height="7.0"/>
<rect x="498.4" y="2302.8" width="7.0" height="7.0"/>
<rect x="381.1" y="2317.5" width="7.0" height="7.0"/>
<rect x="291.1" y="2272.6" width="7.0" height="7.0"/>
<rect x="469.5" y="2294.2" width="7.0" height="7.0"/>
<rect x="341.4" y="2289.2" width="7.0" height="7.0"/>
<rect x="425.5" y="2316.7" width="7.0" height="7.0"/>
<rect x="496.4" y="2328.4" width="7.0" height="7.0"/>
<rect x="384.8" y="2288.3" width="7.0" height="7.0"/>
<rect x="355.3" y="2334.3" width="7.0" height="7.0"/>
<rect x="487.5" y="2318.9" width="7.0" height="7.0"/>
<rect x="371.8" y="2310.0" width="7.0" height="7.0"/>
<rect x="396.0" y="2295.2" width="7.0" height="7.0"/>
<rect x="344.8" y="2300.4" width="7.0" height="7.0"/>
<rect x="474.0" y="2333.4" width="7.0" height="7.0"/>
<rect x="524.0" y="2336.8" width="7.0" height="7.0"/>
<rect x="496.3" y="2338.7" width="7.0" height="7.0"/>
<rect x="262.9" y="2254.2" width="7.0" height="7.0"/>
<rect x="364.0" y="2299.4" width="7.0" height="7.0"/>
<rect x="495.1" y="2343.2" width="7.0" height="7.0"/>
<rect x="405.2" y="2294.6" width="7.0" height="7.0"/>
<rect x="292.1" y="2269.2" width="7.0" height="7.0"/>
<rect x="261.9" y="2260.1" width="7.0" height="7.0"/>
<rect x="265.5" y="2277.9" width="7.0" height="7.0"/>
<rect x="333.4" y="2308.7" width="7.0" height="7.0"/>
<rect x="302.8" y="2316.0" width="7.0" height="7.0"/>
<rect x="436.0" y="2312.9" width="7.0" height="7.0"/>
<rect x="451.8" y="2336.0" width="7.0" height="7.0"/>
<rect x="475.5" y="2317.3" width="7.0" height="7.0"/>
<rect x="270.4" y="2263.2" width="7.0" height="7.0"/>
<rect x="349.8" y="2297.4" width="7.0" height="7.0"/>
<rect x="484.8" y="2337.5" width="7.0" height="7.0"/>
<rect x="317.8" y="2302.1" width="7.0" height="7.0"/>
<rect x="514.2" y="2311.7" width="7.0" height="7.0"/>
<rect x="510.8" y="2323.3" width="7.0" height="7.0"/>
<rect x="468.1" y="2326.3" width="7.0" height="7.0"/>
<rect x="411.4" y="2308.3" width="7.0" height="7.0"/>
<rect x="336.8" y="2274.3" width="7.0" height="7.0"/>
<rect x="354.9" y="2308.8" width="7.0" height="7.0"/>
<rect x="498.3" y="2316.4" width="7.0" height="7.0"/>
<rect x="262.7" y="2286.1" width="7.0" height="7.0"/>
<rect x="302.0" y="2313.6" width="7.0" height="7.0"/>
<rect x="393.5" y="2343.8" width="7.0" height="7.0"/>
<rect x="476.6" y="2338.3" width="7.0" height="7.0"/>
<rect x="258.7" y="2254.0" width="7.0" height="7.0"/>
<rect x="517.5" y="2327.1" width="7.0" height="7.0"/>
<rect x="399.2" y="2311.0" width="7.0" height="7.0"/>
<rect x="317.7" y="2290.0" width="7.0" height="7.0"/>
<rect x="513.7" y="2313.1" width="7.0" height="7.0"/>
<rect x="262.8" y="2257.3" width="7.0" height="7.0"/>
<rect x="435.4" y="2316.4" width="7.0" height="7.0"/>
<rect x="305.7" y="2256.7" width="7.0" height="7.0"/>
<rect x="538.6" y="2343.6" width="7.0" height="7.0"/>
<rect x="257.3" y="2291.4" width="7.0" height="7.0"/>
<rect x="350.6" y="2296.5" width="7.0" height="7.0"/>
<rect x="374.7" y="2302.8" width="7.0" height="7.0"/>
<rect x="499.2" y="2308.6" width="7.0" height="7.0"/>
<rect x="516.4" y="2308.8" width="7.0" height="7.0"/>
<rect x="499.0" y="2304.1" width="7.0" height="7.0"/>
<rect x="364.7" y="2311.0" width="7.0" height="7.0"/>
<rect x="536.5" y="2330.7" width="7.0" height="7.0"/>
<rect x="248.7" y="2264.1" width="7.0" height="7.0"/>
<rect x="341.5" y="2306.6" width="7.0" height="7.0"/>
<rect x="366.8" y="2277.4" width="7.0" height="7.0"/>
<rect x="296.9" y="2306.8" width="7.0" height="7.0"/>
<rect x="436.9" y="2304.3" width="7.0" height="7.0"/>
<rect x="479.9" y="2332.3" width="7.0" height="7.0"/>
<rect x="310.7" y="2334.5" width="7.0" height="7.0"/>
<rect x="483.3" y="2313.5" width="7.0" height="7.0"/>
<rect x="428.9" y="2298.1" width="7.0" height="7.0"/>
<rect x="252.4" y="2252.9" width="7.0" height="7.0"/>
<rect x="469.8" y="2295.3" width="7.0" height="7.0"/>
<rect x="507.6" y="2302.9" width="7.0" height="7.0"/>
<rect x="344.9" y="2314.6" width="7.0" height="7.0"/>
<rect x="299.8" y="2312.1" width="7.0" height="7.0"/>
<rect x="348.2" y="2307.8" width="7.0" height="7.0"/>
<rect x="391.8" y="2312.4" width="7.0" height="7.0"/>
<rect x="255.2" y="2259.4" width="7.0" height="7.0"/>
<rect x="266.2" y="2261.9" width="7.0" height="7.0"/>
<rect x="263.7" y="2257.4" width="7.0" height="7.0"/>
<rect x="363.6" y="2316.4" width="7.0" height="7.0"/>
<rect x="484.9" y="2320.4" width="7.0" height="7.0"/>
<rect x="340.9" y="2290.4" width="7.0" height="7.0"/>
<rect x="400.1" y="2296.9" width="7.0" height="7.0"/>
<rect x="367.2" y="2293.2" width="7.0" height="7.0"/>
<rect x="477.5" y="2319.8" width="7.0" height="7.0"/>
<rect x="379.3" y="2317.8" width="7.0" height="7.0"/>
<rect x="425.7" y="2338.4" width="7.0" height="7.0"/>
<rect x="355.7" y="2295.4" width="7.0" height="7.0"/>
<rect x="485.0" y="2320.1" width="7.0" height="7.0"/>
<rect x="389.2" y="2298.2" width="7.0" height="7.0"/>
<rect x="319.4" y="2297.2" width="7.0" height="7.0"/>
<rect x="295.4" y="2318.9" width="7.0" height="7.0"/>
<rect x="348.9" y="2300.1" width="7.0" height="7.0"/>
</g>
<line x1="193.1" y1="2271.2" x2="579.8" y2="2345.9" stroke="#727272" stroke-width="1.5"/>
</g>
<g>
<rect x="783.25" y="2153.95" width="3.5" height="273.80" fill="#000"/>
<rect x="774.00" y="2424.25" width="11.00" height="3.5" fill="#000"/>
<text x="771.00" y="2432.60" text-anchor="end" style="font-family:'Liberation Serif',serif;font-weight:bold;font-size:18.7px">0</text>
<rect x="774.00" y="2370.19" width="11.00" height="3.5" fill="#000"/>
<text x="771.00" y="2378.54" text-anchor="end" style="font-family:'Liberation Serif',serif;font-weight:bold;font-size:18.7px">25</text>
<rect x="774.00" y="2316.13" width="11.00" height="3.5" fill="#000"/>
<text x="771.00" y="2324.48" text-anchor="end" style="font-family:'Liberation Serif',serif;font-weight:bold;font-size:18.7px">50</text>
<rect x="774.00" y="2262.07" width="11.00" height="3.5" fill="#000"/>
<text x="771.00" y="2270.42" text-anchor="end" style="font-family:'Liberation Serif',serif;font-weight:bold;font-size:18.7px">75</text>
<rect x="774.00" y="2208.01" width="11.00" height="3.5" fill="#000"/>
<text x="771.00" y="2216.36" text-anchor="end" style="font-family:'Liberation Serif',serif;font-weight:bold;font-size:18.7px">100</text>
<rect x="774.00" y="2153.95" width="11.00" height="3.5" fill="#000"/>
<text x="771.00" y="2162.30" text-anchor="end" style="font-family:'Liberation Serif',serif;font-weight:bold;font-size:18.7px">125</text>
<rect x="785.00" y="2424.25" width="493.25" height="3.5" fill="#000"/>
<rect x="783.25" y="2426.00" width="3.5" height="11.30" fill="#000"/>
<text x="785.00" y="2457.20" text-anchor="middle" style="font-family:'Liberation Serif',serif;font-weight:bold;font-size:18.7px">0</text>
<rect x="947.08" y="2426.00" width="3.5" height="11.30" fill="#000"/>
<text x="948.83" y="2457.20" text-anchor="middle" style="font-family:'Liberation Serif',serif;font-weight:bold;font-size:18.7px">10</text>
<rect x="1110.92" y="2426.00" width="3.5" height="11.30" fill="#000"/>
<text x="1112.67" y="2457.20" text-anchor="middle" style="font-family:'Liberation Serif',serif;font-weight:bold;font-size:18.7px">20</text>
<rect x="1274.75" y="2426.00" width="3.5" height="11.30" fill="#000"/>
<text x="1276.50" y="2457.20" text-anchor="middle" style="font-family:'Liberation Serif',serif;font-weight:bold;font-size:18.7px">30</text>
<rect x="799.63" y="2426.00" width="3.5" height="6.00" fill="#000"/>
<rect x="816.02" y="2426.00" width="3.5" height="6.00" fill="#000"/>
<rect x="832.40" y="2426.00" width="3.5" height="6.00" fill="#000"/>
<rect x="848.78" y="2426.00" width="3.5" height="6.00" fill="#000"/>
<rect x="865.17" y="2426.00" width="3.5" height="6.00" fill="#000"/>
<rect x="881.55" y="2426.00" width="3.5" height="6.00" fill="#000"/>
<rect x="897.93" y="2426.00" width="3.5" height="6.00" fill="#000"/>
<rect x="914.32" y="2426.00" width="3.5" height="6.00" fill="#000"/>
<rect x="930.70" y="2426.00" width="3.5" height="6.00" fill="#000"/>
<rect x="963.47" y="2426.00" width="3.5" height="6.00" fill="#000"/>
<rect x="979.85" y="2426.00" width="3.5" height="6.00" fill="#000"/>
<rect x="996.23" y="2426.00" width="3.5" height="6.00" fill="#000"/>
<rect x="1012.62" y="2426.00" width="3.5" height="6.00" fill="#000"/>
<rect x="1029.00" y="2426.00" width="3.5" height="6.00" fill="#000"/>
<rect x="1045.38" y="2426.00" width="3.5" height="6.00" fill="#000"/>
<rect x="1061.77" y="2426.00" width="3.5" height="6.00" fill="#000"/>
<rect x="1078.15" y="2426.00" width="3.5" height="6.00" fill="#000"/>
<rect x="1094.53" y="2426.00" width="3.5" height="6.00" fill="#000"/>
<rect x="1127.30" y="2426.00" width="3.5" height="6.00" fill="#000"/>
<rect x="1143.68" y="2426.00" width="3.5" height="6.00" fill="#000"/>
<rect x="1160.07" y="2426.00" width="3.5" height="6.00" fill="#000"/>
<rect x="1176.45" y="2426.00" width="3.5" height="6.00" fill="#000"/>
<rect x="1192.83" y="2426.00" width="3.5" height="6.00" fill="#000"/>
<rect x="1209.22" y="2426.00" width="3.5" height="6.00" fill="#000"/>
<rect x="1225.60" y="2426.00" width="3.5" height="6.00" fill="#000"/>
<rect x="1241.98" y="2426.00" width="3.5" height="6.00" fill="#000"/>
<rect x="1258.37" y="2426.00" width="3.5" height="6.00" fill="#000"/>
<text x="1030.75" y="2490.00" text-anchor="middle" style="font-family:'Liberation Serif',serif;font-weight:bold;font-size:20.7px">S100A12_Protein</text>
<text transform="translate(730.65,2290.85) rotate(-90)" text-anchor="middle" style="font-family:'Liberation Serif',serif;font-weight:bold;font-size:21px">MAP mmHg</text>
<g fill="#000" fill-opacity="0.54" stroke="#000" stroke-opacity="0.75" stroke-width="1.8">
<rect x="873.3" y="2221.3" width="7.0" height="7.0"/>
<rect x="891.2" y="2221.3" width="7.0" height="7.0"/>
<rect x="891.2" y="2229.8" width="7.0" height="7.0"/>
<rect x="898.9" y="2227.7" width="7.0" height="7.0"/>
<rect x="907.0" y="2221.3" width="7.0" height="7.0"/>
<rect x="914.0" y="2221.7" width="7.0" height="7.0"/>
<rect x="917.0" y="2220.7" width="7.0" height="7.0"/>
<rect x="923.1" y="2218.7" width="7.0" height="7.0"/>
<rect x="905.0" y="2231.8" width="7.0" height="7.0"/>
<rect x="907.0" y="2232.8" width="7.0" height="7.0"/>
<rect x="911.0" y="2234.8" width="7.0" height="7.0"/>
<rect x="915.0" y="2236.8" width="7.0" height="7.0"/>
<rect x="927.1" y="2236.8" width="7.0" height="7.0"/>
<rect x="929.1" y="2238.8" width="7.0" height="7.0"/>
<rect x="931.1" y="2227.7" width="7.0" height="7.0"/>
<rect x="939.6" y="2208.6" width="7.0" height="7.0"/>
<rect x="940.2" y="2212.6" width="7.0" height="7.0"/>
<rect x="947.3" y="2212.6" width="7.0" height="7.0"/>
<rect x="951.3" y="2216.7" width="7.0" height="7.0"/>
<rect x="939.2" y="2224.7" width="7.0" height="7.0"/>
<rect x="941.2" y="2230.8" width="7.0" height="7.0"/>
<rect x="945.3" y="2226.7" width="7.0" height="7.0"/>
<rect x="947.3" y="2232.8" width="7.0" height="7.0"/>
<rect x="953.3" y="2222.7" width="7.0" height="7.0"/>
<rect x="957.4" y="2224.7" width="7.0" height="7.0"/>
<rect x="961.4" y="2222.7" width="7.0" height="7.0"/>
<rect x="965.4" y="2220.7" width="7.0" height="7.0"/>
<rect x="967.4" y="2218.7" width="7.0" height="7.0"/>
<rect x="959.4" y="2230.8" width="7.0" height="7.0"/>
<rect x="967.4" y="2230.8" width="7.0" height="7.0"/>
<rect x="971.5" y="2232.8" width="7.0" height="7.0"/>
<rect x="975.5" y="2226.7" width="7.0" height="7.0"/>
<rect x="977.5" y="2224.7" width="7.0" height="7.0"/>
<rect x="979.5" y="2231.8" width="7.0" height="7.0"/>
<rect x="983.5" y="2229.8" width="7.0" height="7.0"/>
<rect x="987.6" y="2216.7" width="7.0" height="7.0"/>
<rect x="987.6" y="2220.7" width="7.0" height="7.0"/>
<rect x="944.2" y="2244.9" width="7.0" height="7.0"/>
<rect x="951.3" y="2243.9" width="7.0" height="7.0"/>
<rect x="958.4" y="2244.9" width="7.0" height="7.0"/>
<rect x="966.4" y="2247.9" width="7.0" height="7.0"/>
<rect x="971.5" y="2242.9" width="7.0" height="7.0"/>
<rect x="979.9" y="2247.3" width="7.0" height="7.0"/>
<rect x="975.5" y="2238.8" width="7.0" height="7.0"/>
<rect x="953.3" y="2236.8" width="7.0" height="7.0"/>
<rect x="963.4" y="2236.8" width="7.0" height="7.0"/>
<rect x="1021.8" y="2238.8" width="7.0" height="7.0"/>
<rect x="1025.3" y="2242.9" width="7.0" height="7.0"/>
<rect x="907.0" y="2258.0" width="7.0" height="7.0"/>
<rect x="936.8" y="2253.9" width="7.0" height="7.0"/>
<rect x="929.1" y="2260.6" width="7.0" height="7.0"/>
<rect x="941.2" y="2260.6" width="7.0" height="7.0"/>
<rect x="918.0" y="2267.0" width="7.0" height="7.0"/>
<rect x="922.1" y="2269.1" width="7.0" height="7.0"/>
<rect x="931.1" y="2269.1" width="7.0" height="7.0"/>
<rect x="951.3" y="2269.1" width="7.0" height="7.0"/>
<rect x="959.4" y="2271.1" width="7.0" height="7.0"/>
<rect x="963.4" y="2282.2" width="7.0" height="7.0"/>
<rect x="972.5" y="2258.0" width="7.0" height="7.0"/>
<rect x="975.5" y="2269.1" width="7.0" height="7.0"/>
<rect x="979.5" y="2273.1" width="7.0" height="7.0"/>
<rect x="975.5" y="2277.1" width="7.0" height="7.0"/>
<rect x="983.5" y="2267.0" width="7.0" height="7.0"/>
<rect x="985.6" y="2277.1" width="7.0" height="7.0"/>
<rect x="987.6" y="2281.2" width="7.0" height="7.0"/>
<rect x="953.3" y="2290.8" width="7.0" height="7.0"/>
<rect x="920.1" y="2288.8" width="7.0" height="7.0"/>
<rect x="927.5" y="2295.3" width="7.0" height="7.0"/>
<rect x="973.9" y="2290.8" width="7.0" height="7.0"/>
<rect x="974.1" y="2300.3" width="7.0" height="7.0"/>
<rect x="981.5" y="2292.2" width="7.0" height="7.0"/>
<rect x="991.6" y="2289.2" width="7.0" height="7.0"/>
<rect x="993.6" y="2293.2" width="7.0" height="7.0"/>
<rect x="990.6" y="2300.3" width="7.0" height="7.0"/>
<rect x="995.6" y="2256.0" width="7.0" height="7.0"/>
<rect x="996.7" y="2261.0" width="7.0" height="7.0"/>
<rect x="999.7" y="2269.1" width="7.0" height="7.0"/>
<rect x="999.7" y="2277.1" width="7.0" height="7.0"/>
<rect x="1003.7" y="2281.2" width="7.0" height="7.0"/>
<rect x="1005.7" y="2289.2" width="7.0" height="7.0"/>
<rect x="1005.7" y="2297.3" width="7.0" height="7.0"/>
<rect x="1005.7" y="2305.3" width="7.0" height="7.0"/>
<rect x="997.7" y="2313.4" width="7.0" height="7.0"/>
<rect x="996.7" y="2317.4" width="7.0" height="7.0"/>
<rect x="1013.8" y="2267.0" width="7.0" height="7.0"/>
<rect x="1019.8" y="2265.0" width="7.0" height="7.0"/>
<rect x="1027.9" y="2260.6" width="7.0" height="7.0"/>
<rect x="1017.8" y="2277.1" width="7.0" height="7.0"/>
<rect x="1021.8" y="2281.2" width="7.0" height="7.0"/>
<rect x="1025.9" y="2285.2" width="7.0" height="7.0"/>
<rect x="1023.9" y="2291.2" width="7.0" height="7.0"/>
<rect x="1017.8" y="2299.3" width="7.0" height="7.0"/>
<rect x="1019.8" y="2305.3" width="7.0" height="7.0"/>
<rect x="1027.9" y="2289.2" width="7.0" height="7.0"/>
<rect x="1033.9" y="2285.2" width="7.0" height="7.0"/>
<rect x="1038.0" y="2289.2" width="7.0" height="7.0"/>
<rect x="1031.9" y="2299.3" width="7.0" height="7.0"/>
<rect x="1036.0" y="2303.3" width="7.0" height="7.0"/>
<rect x="1044.0" y="2269.1" width="7.0" height="7.0"/>
<rect x="1050.1" y="2264.0" width="7.0" height="7.0"/>
<rect x="1042.0" y="2281.2" width="7.0" height="7.0"/>
<rect x="1046.0" y="2285.2" width="7.0" height="7.0"/>
<rect x="1050.1" y="2291.2" width="7.0" height="7.0"/>
<rect x="1048.0" y="2299.3" width="7.0" height="7.0"/>
<rect x="1042.0" y="2309.4" width="7.0" height="7.0"/>
<rect x="1044.0" y="2313.4" width="7.0" height="7.0"/>
<rect x="1054.1" y="2277.1" width="7.0" height="7.0"/>
<rect x="1058.1" y="2281.2" width="7.0" height="7.0"/>
<rect x="1060.1" y="2289.2" width="7.0" height="7.0"/>
<rect x="1056.1" y="2297.3" width="7.0" height="7.0"/>
<rect x="1062.2" y="2293.2" width="7.0" height="7.0"/>
<rect x="1068.2" y="2269.1" width="7.0" height="7.0"/>
<rect x="1068.2" y="2277.1" width="7.0" height="7.0"/>
<rect x="1070.2" y="2285.2" width="7.0" height="7.0"/>
<rect x="1068.2" y="2291.2" width="7.0" height="7.0"/>
<rect x="1080.3" y="2267.0" width="7.0" height="7.0"/>
<rect x="1076.3" y="2273.1" width="7.0" height="7.0"/>
<rect x="1082.3" y="2283.2" width="7.0" height="7.0"/>
<rect x="1088.4" y="2277.1" width="7.0" height="7.0"/>
<rect x="1092.4" y="2285.2" width="7.0" height="7.0"/>
<rect x="1096.4" y="2291.2" width="7.0" height="7.0"/>
<rect x="1100.5" y="2273.1" width="7.0" height="7.0"/>
<rect x="1102.5" y="2285.2" width="7.0" height="7.0"/>
<rect x="1076.3" y="2297.3" width="7.0" height="7.0"/>
<rect x="1080.3" y="2305.3" width="7.0" height="7.0"/>
<rect x="1086.3" y="2309.4" width="7.0" height="7.0"/>
<rect x="1094.4" y="2309.4" width="7.0" height="7.0"/>
<rect x="1102.5" y="2309.4" width="7.0" height="7.0"/>
<rect x="1053.1" y="2314.4" width="7.0" height="7.0"/>
<rect x="1061.2" y="2314.4" width="7.0" height="7.0"/>
<rect x="1062.2" y="2321.5" width="7.0" height="7.0"/>
<rect x="1068.2" y="2321.5" width="7.0" height="7.0"/>
<rect x="1044.4" y="2327.5" width="7.0" height="7.0"/>
<rect x="1082.3" y="2336.2" width="7.0" height="7.0"/>
<rect x="1092.4" y="2325.5" width="7.0" height="7.0"/>
<rect x="1098.4" y="2327.5" width="7.0" height="7.0"/>
<rect x="1102.5" y="2331.5" width="7.0" height="7.0"/>
<rect x="1108.1" y="2285.2" width="7.0" height="7.0"/>
<rect x="1107.1" y="2291.2" width="7.0" height="7.0"/>
<rect x="1111.2" y="2297.3" width="7.0" height="7.0"/>
<rect x="1113.2" y="2301.3" width="7.0" height="7.0"/>
<rect x="1117.2" y="2293.2" width="7.0" height="7.0"/>
<rect x="1121.2" y="2292.2" width="7.0" height="7.0"/>
<rect x="1126.3" y="2293.2" width="7.0" height="7.0"/>
<rect x="1129.3" y="2303.3" width="7.0" height="7.0"/>
<rect x="1127.3" y="2299.3" width="7.0" height="7.0"/>
<rect x="1138.4" y="2295.3" width="7.0" height="7.0"/>
<rect x="1145.4" y="2296.3" width="7.0" height="7.0"/>
<rect x="1139.4" y="2303.3" width="7.0" height="7.0"/>
<rect x="1149.5" y="2307.3" width="7.0" height="7.0"/>
<rect x="1153.5" y="2307.3" width="7.0" height="7.0"/>
<rect x="1155.5" y="2314.4" width="7.0" height="7.0"/>
<rect x="1116.2" y="2315.4" width="7.0" height="7.0"/>
<rect x="1116.2" y="2319.4" width="7.0" height="7.0"/>
<rect x="1123.2" y="2313.4" width="7.0" height="7.0"/>
<rect x="1131.3" y="2315.4" width="7.0" height="7.0"/>
<rect x="1135.3" y="2317.4" width="7.0" height="7.0"/>
<rect x="1139.4" y="2321.5" width="7.0" height="7.0"/>
<rect x="1135.3" y="2323.5" width="7.0" height="7.0"/>
<rect x="1154.5" y="2323.5" width="7.0" height="7.0"/>
<rect x="1159.5" y="2322.5" width="7.0" height="7.0"/>
<rect x="1165.6" y="2323.5" width="7.0" height="7.0"/>
<rect x="1165.6" y="2296.3" width="7.0" height="7.0"/>
<rect x="1165.6" y="2303.3" width="7.0" height="7.0"/>
<rect x="1174.6" y="2303.3" width="7.0" height="7.0"/>
<rect x="1175.7" y="2310.4" width="7.0" height="7.0"/>
<rect x="1169.6" y="2314.4" width="7.0" height="7.0"/>
<rect x="1181.3" y="2294.9" width="7.0" height="7.0"/>
<rect x="1190.8" y="2285.8" width="7.0" height="7.0"/>
<rect x="1199.4" y="2301.3" width="7.0" height="7.0"/>
<rect x="1180.7" y="2325.5" width="7.0" height="7.0"/>
<rect x="1172.6" y="2331.9" width="7.0" height="7.0"/>
<rect x="1191.8" y="2334.0" width="7.0" height="7.0"/>
<rect x="1199.8" y="2320.4" width="7.0" height="7.0"/>
<rect x="1205.9" y="2320.4" width="7.0" height="7.0"/>
<rect x="1218.0" y="2316.4" width="7.0" height="7.0"/>
<rect x="1225.0" y="2316.4" width="7.0" height="7.0"/>
<rect x="1106.1" y="2331.5" width="7.0" height="7.0"/>
<rect x="1130.3" y="2331.5" width="7.0" height="7.0"/>
<rect x="1122.2" y="2338.6" width="7.0" height="7.0"/>
<rect x="1107.1" y="2307.3" width="7.0" height="7.0"/>
<rect x="1111.2" y="2309.4" width="7.0" height="7.0"/>
<rect x="1066.8" y="2288.3" width="7.0" height="7.0"/>
<rect x="1078.5" y="2292.2" width="7.0" height="7.0"/>
<rect x="1007.4" y="2288.9" width="7.0" height="7.0"/>
<rect x="1098.8" y="2280.2" width="7.0" height="7.0"/>
<rect x="1051.4" y="2274.9" width="7.0" height="7.0"/>
<rect x="1058.9" y="2284.2" width="7.0" height="7.0"/>
<rect x="1032.5" y="2299.3" width="7.0" height="7.0"/>
<rect x="1081.1" y="2267.4" width="7.0" height="7.0"/>
<rect x="1084.2" y="2266.2" width="7.0" height="7.0"/>
<rect x="1066.2" y="2268.7" width="7.0" height="7.0"/>
<rect x="1025.5" y="2278.0" width="7.0" height="7.0"/>
<rect x="1058.4" y="2287.6" width="7.0" height="7.0"/>
<rect x="1093.9" y="2269.8" width="7.0" height="7.0"/>
<rect x="1040.6" y="2274.0" width="7.0" height="7.0"/>
<rect x="1034.6" y="2289.0" width="7.0" height="7.0"/>
<rect x="1038.3" y="2279.0" width="7.0" height="7.0"/>
<rect x="1086.3" y="2276.8" width="7.0" height="7.0"/>
<rect x="1036.1" y="2284.8" width="7.0" height="7.0"/>
<rect x="1075.0" y="2265.1" width="7.0" height="7.0"/>
<rect x="1079.5" y="2289.5" width="7.0" height="7.0"/>
<rect x="1041.1" y="2287.2" width="7.0" height="7.0"/>
<rect x="1024.2" y="2295.5" width="7.0" height="7.0"/>
<rect x="1038.9" y="2280.3" width="7.0" height="7.0"/>
<rect x="1057.0" y="2290.9" width="7.0" height="7.0"/>
<rect x="1015.3" y="2296.7" width="7.0" height="7.0"/>
<rect x="1084.2" y="2289.2" width="7.0" height="7.0"/>
<rect x="1013.6" y="2283.9" width="7.0" height="7.0"/>
<rect x="1065.6" y="2294.1" width="7.0" height="7.0"/>
<rect x="1038.5" y="2298.6" width="7.0" height="7.0"/>
<rect x="1059.0" y="2275.8" width="7.0" height="7.0"/>
<rect x="1081.4" y="2298.0" width="7.0" height="7.0"/>
<rect x="994.1" y="2291.8" width="7.0" height="7.0"/>
<rect x="951.8" y="2237.8" width="7.0" height="7.0"/>
<rect x="1026.6" y="2285.9" width="7.0" height="7.0"/>
<rect x="1127.3" y="2300.3" width="7.0" height="7.0"/>
<rect x="1002.7" y="2281.2" width="7.0" height="7.0"/>
<rect x="1140.3" y="2292.9" width="7.0" height="7.0"/>
<rect x="981.4" y="2226.9" width="7.0" height="7.0"/>
<rect x="1176.0" y="2302.3" width="7.0" height="7.0"/>
<rect x="898.4" y="2231.5" width="7.0" height="7.0"/>
<rect x="918.4" y="2265.1" width="7.0" height="7.0"/>
<rect x="1004.4" y="2294.6" width="7.0" height="7.0"/>
<rect x="941.1" y="2233.1" width="7.0" height="7.0"/>
<rect x="925.5" y="2239.8" width="7.0" height="7.0"/>
<rect x="991.9" y="2257.8" width="7.0" height="7.0"/>
<rect x="1114.2" y="2308.9" width="7.0" height="7.0"/>
<rect x="1028.7" y="2296.4" width="7.0" height="7.0"/>
<rect x="1080.1" y="2275.9" width="7.0" height="7.0"/>
<rect x="971.7" y="2225.3" width="7.0" height="7.0"/>
<rect x="1031.9" y="2294.9" width="7.0" height="7.0"/>
<rect x="1041.5" y="2273.3" width="7.0" height="7.0"/>
<rect x="1077.0" y="2270.4" width="7.0" height="7.0"/>
<rect x="1066.8" y="2274.8" width="7.0" height="7.0"/>
<rect x="1157.3" y="2315.0" width="7.0" height="7.0"/>
<rect x="943.0" y="2238.0" width="7.0" height="7.0"/>
<rect x="943.1" y="2224.0" width="7.0" height="7.0"/>
<rect x="1045.2" y="2270.9" width="7.0" height="7.0"/>
<rect x="1009.6" y="2286.2" width="7.0" height="7.0"/>
<rect x="1095.2" y="2275.0" width="7.0" height="7.0"/>
<rect x="981.8" y="2225.7" width="7.0" height="7.0"/>
<rect x="1040.2" y="2272.1" width="7.0" height="7.0"/>
<rect x="1132.1" y="2317.7" width="7.0" height="7.0"/>
<rect x="1033.2" y="2296.5" width="7.0" height="7.0"/>
<rect x="962.2" y="2249.1" width="7.0" height="7.0"/>
<rect x="1093.0" y="2289.0" width="7.0" height="7.0"/>
<rect x="1090.6" y="2270.8" width="7.0" height="7.0"/>
<rect x="1011.9" y="2301.7" width="7.0" height="7.0"/>
<rect x="1072.7" y="2274.5" width="7.0" height="7.0"/>
<rect x="964.2" y="2211.9" width="7.0" height="7.0"/>
<rect x="1009.3" y="2299.8" width="7.0" height="7.0"/>
<rect x="1061.7" y="2291.7" width="7.0" height="7.0"/>
<rect x="932.2" y="2236.8" width="7.0" height="7.0"/>
<rect x="973.9" y="2238.3" width="7.0" height="7.0"/>
<rect x="1034.0" y="2289.7" width="7.0" height="7.0"/>
<rect x="1026.0" y="2284.6" width="7.0" height="7.0"/>
<rect x="1033.3" y="2285.7" width="7.0" height="7.0"/>
<rect x="997.5" y="2317.5" width="7.0" height="7.0"/>
<rect x="1046.7" y="2285.8" width="7.0" height="7.0"/>
<rect x="940.1" y="2232.5" width="7.0" height="7.0"/>
<rect x="1079.2" y="2268.4" width="7.0" height="7.0"/>
<rect x="1092.0" y="2324.5" width="7.0" height="7.0"/>
<rect x="1039.3" y="2286.1" width="7.0" height="7.0"/>
<rect x="1082.9" y="2266.1" width="7.0" height="7.0"/>
<rect x="1066.6" y="2293.8" width="7.0" height="7.0"/>
<rect x="1002.9" y="2292.4" width="7.0" height="7.0"/>
<rect x="941.4" y="2226.5" width="7.0" height="7.0"/>
<rect x="1150.3" y="2318.9" width="7.0" height="7.0"/>
<rect x="1033.9" y="2281.4" width="7.0" height="7.0"/>
<rect x="1099.7" y="2312.8" width="7.0" height="7.0"/>
<rect x="1085.0" y="2282.7" width="7.0" height="7.0"/>
<rect x="1005.2" y="2276.2" width="7.0" height="7.0"/>
<rect x="919.6" y="2219.5" width="7.0" height="7.0"/>
<rect x="1038.1" y="2273.0" width="7.0" height="7.0"/>
<rect x="1046.1" y="2263.9" width="7.0" height="7.0"/>
<rect x="1101.6" y="2334.3" width="7.0" height="7.0"/>
<rect x="1068.3" y="2272.7" width="7.0" height="7.0"/>
<rect x="1093.3" y="2288.4" width="7.0" height="7.0"/>
<rect x="1072.5" y="2269.9" width="7.0" height="7.0"/>
<rect x="943.1" y="2229.1" width="7.0" height="7.0"/>
<rect x="1018.5" y="2279.3" width="7.0" height="7.0"/>
<rect x="945.2" y="2220.5" width="7.0" height="7.0"/>
<rect x="971.1" y="2236.6" width="7.0" height="7.0"/>
<rect x="1084.9" y="2304.0" width="7.0" height="7.0"/>
<rect x="1049.6" y="2314.9" width="7.0" height="7.0"/>
<rect x="1216.1" y="2312.8" width="7.0" height="7.0"/>
<rect x="958.3" y="2229.7" width="7.0" height="7.0"/>
<rect x="1019.9" y="2285.4" width="7.0" height="7.0"/>
<rect x="1096.6" y="2323.4" width="7.0" height="7.0"/>
<rect x="1092.6" y="2307.5" width="7.0" height="7.0"/>
<rect x="1038.9" y="2310.9" width="7.0" height="7.0"/>
<rect x="1099.6" y="2277.9" width="7.0" height="7.0"/>
<rect x="928.7" y="2237.2" width="7.0" height="7.0"/>
<rect x="1061.7" y="2282.4" width="7.0" height="7.0"/>
<rect x="1112.8" y="2298.7" width="7.0" height="7.0"/>
<rect x="1045.7" y="2276.4" width="7.0" height="7.0"/>
<rect x="1123.1" y="2300.4" width="7.0" height="7.0"/>
<rect x="1057.5" y="2293.8" width="7.0" height="7.0"/>
<rect x="1036.2" y="2279.3" width="7.0" height="7.0"/>
<rect x="952.7" y="2245.3" width="7.0" height="7.0"/>
<rect x="1067.5" y="2274.6" width="7.0" height="7.0"/>
<rect x="1067.6" y="2289.7" width="7.0" height="7.0"/>
<rect x="1073.7" y="2293.4" width="7.0" height="7.0"/>
<rect x="989.8" y="2215.0" width="7.0" height="7.0"/>
<rect x="963.8" y="2228.5" width="7.0" height="7.0"/>
<rect x="1017.3" y="2281.4" width="7.0" height="7.0"/>
<rect x="1115.1" y="2315.9" width="7.0" height="7.0"/>
<rect x="1006.3" y="2291.0" width="7.0" height="7.0"/>
<rect x="981.7" y="2232.7" width="7.0" height="7.0"/>
<rect x="1117.5" y="2295.9" width="7.0" height="7.0"/>
<rect x="1041.3" y="2299.8" width="7.0" height="7.0"/>
<rect x="1026.9" y="2282.3" width="7.0" height="7.0"/>
<rect x="1043.0" y="2284.5" width="7.0" height="7.0"/>
<rect x="1041.6" y="2278.9" width="7.0" height="7.0"/>
<rect x="1162.8" y="2321.9" width="7.0" height="7.0"/>
<rect x="1052.7" y="2285.9" width="7.0" height="7.0"/>
<rect x="1058.1" y="2290.3" width="7.0" height="7.0"/>
</g>
<line x1="878.4" y1="2232.5" x2="1227.3" y2="2342.7" stroke="#727272" stroke-width="1.5"/>
</g>
</svg></body></html>
